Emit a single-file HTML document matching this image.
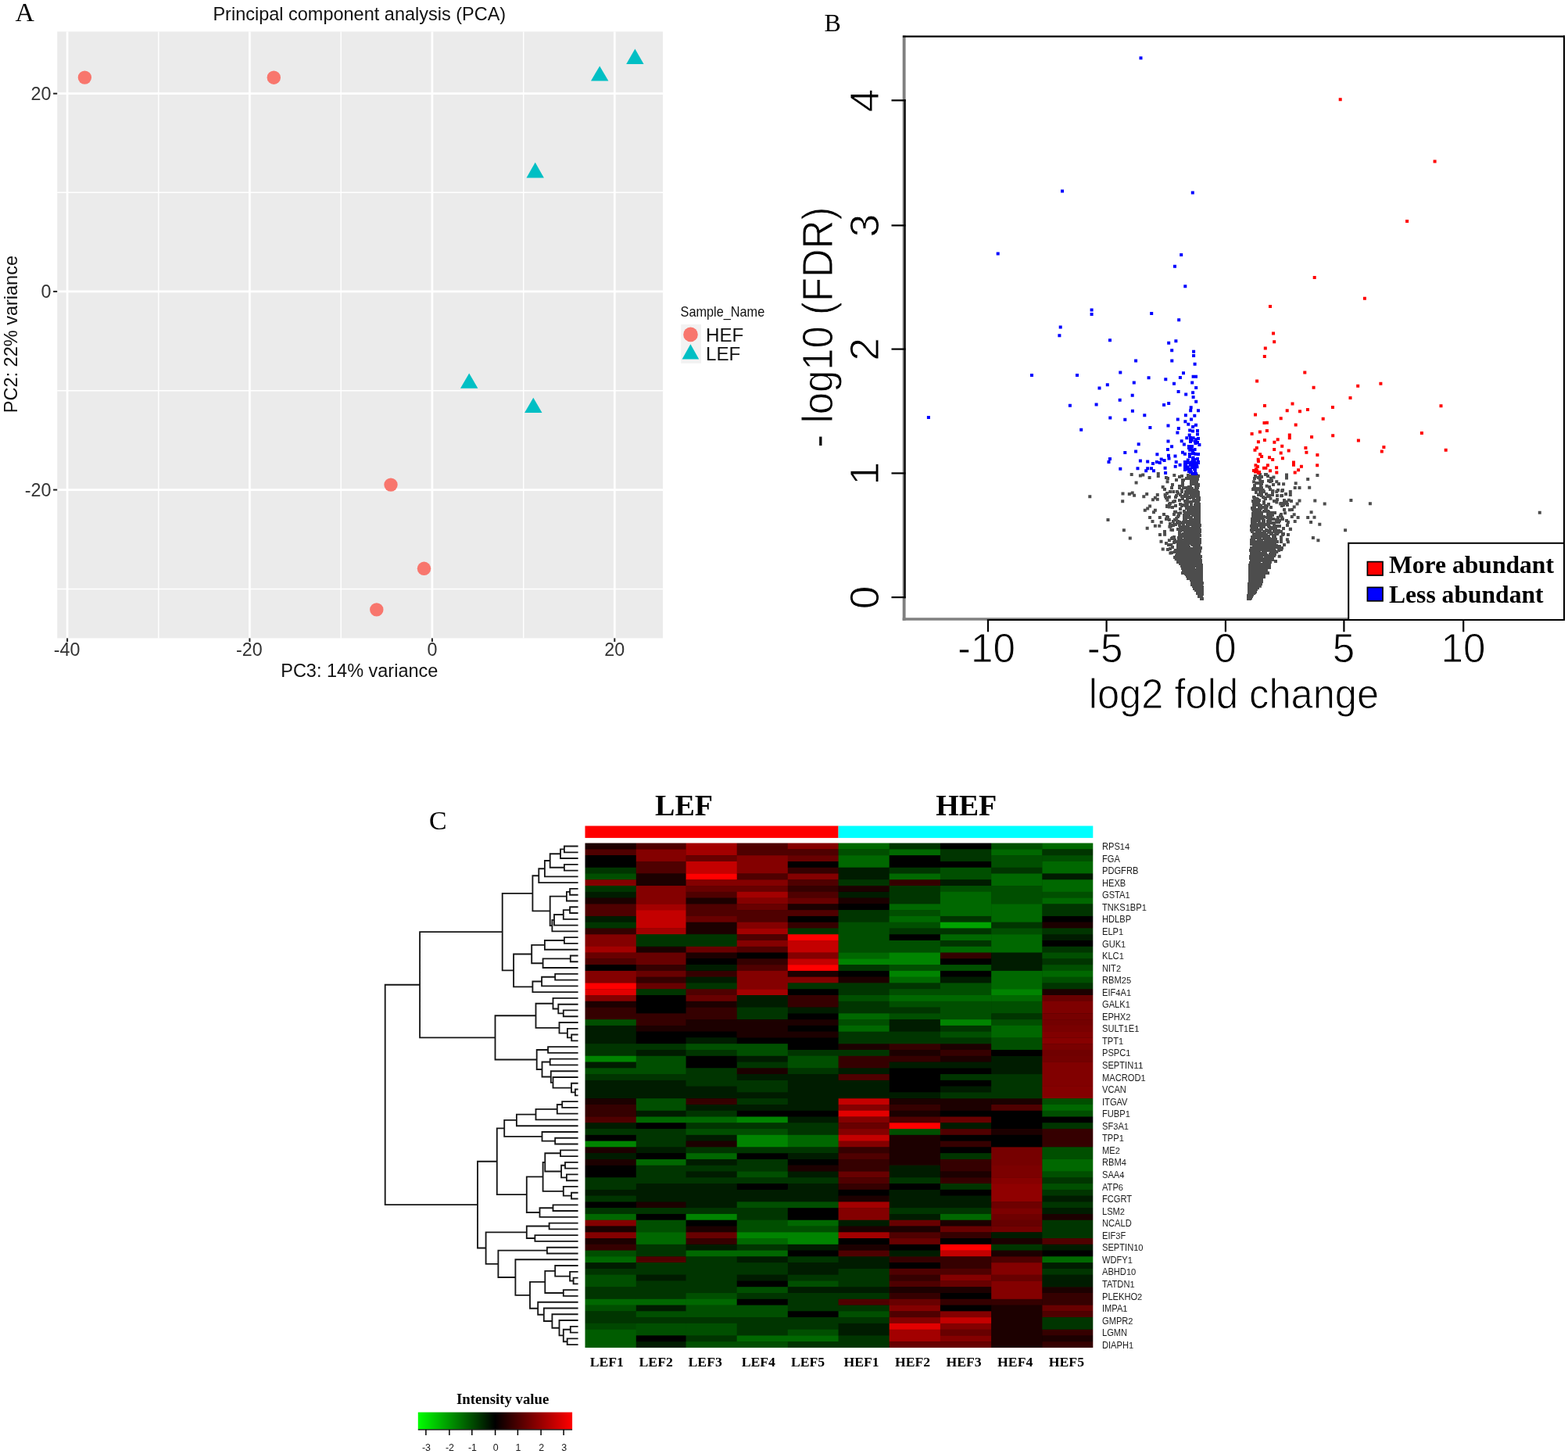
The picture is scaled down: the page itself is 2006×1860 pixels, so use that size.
<!DOCTYPE html>
<html lang="en">
<head>
<meta charset="utf-8">
<title>Figure: PCA, volcano plot and heatmap</title>
<style>
html,body{margin:0;padding:0;background:#fff;}
body{width:2006px;height:1860px;overflow:hidden;}
svg{display:block;}
text{white-space:pre;}
</style>
</head>
<body>
<svg width="2006" height="1860" viewBox="0 0 2006 1860" role="img" aria-label="Figure with PCA plot, volcano plot and heatmap">
<rect x="0" y="0" width="2006" height="1860" fill="#ffffff"/>
<g id="panelA">
<text transform="translate(19.60,27.10)" font-family="Liberation Serif, Times New Roman, serif" font-size="33.8" fill="#000">A</text>
<text transform="translate(459.80,26.40) scale(1.0,1.04)" font-family="Liberation Sans, Arial, Helvetica, sans-serif" font-size="23.5" text-anchor="middle" fill="#111">Principal component analysis (PCA)</text>
<rect x="73.2" y="40.4" width="774.9" height="776.0" fill="#ebebeb"/>
<line x1="86.1" y1="40.4" x2="86.1" y2="816.4" stroke="#fff" stroke-width="2.7"/>
<line x1="202.8" y1="40.4" x2="202.8" y2="816.4" stroke="#fff" stroke-width="1.4"/>
<line x1="319.4" y1="40.4" x2="319.4" y2="816.4" stroke="#fff" stroke-width="2.7"/>
<line x1="436.2" y1="40.4" x2="436.2" y2="816.4" stroke="#fff" stroke-width="1.4"/>
<line x1="552.9" y1="40.4" x2="552.9" y2="816.4" stroke="#fff" stroke-width="2.7"/>
<line x1="669.7" y1="40.4" x2="669.7" y2="816.4" stroke="#fff" stroke-width="1.4"/>
<line x1="786.3" y1="40.4" x2="786.3" y2="816.4" stroke="#fff" stroke-width="2.7"/>
<line x1="73.2" y1="119.7" x2="848.1" y2="119.7" stroke="#fff" stroke-width="2.7"/>
<line x1="73.2" y1="246.2" x2="848.1" y2="246.2" stroke="#fff" stroke-width="1.4"/>
<line x1="73.2" y1="372.9" x2="848.1" y2="372.9" stroke="#fff" stroke-width="2.7"/>
<line x1="73.2" y1="499.7" x2="848.1" y2="499.7" stroke="#fff" stroke-width="1.4"/>
<line x1="73.2" y1="626.6" x2="848.1" y2="626.6" stroke="#fff" stroke-width="2.7"/>
<line x1="73.2" y1="753.5" x2="848.1" y2="753.5" stroke="#fff" stroke-width="1.4"/>
<line x1="86.1" y1="816.4" x2="86.1" y2="821.0" stroke="#222" stroke-width="2"/>
<text transform="translate(85.60,839.30) scale(1.0,1.04)" font-family="Liberation Sans, Arial, Helvetica, sans-serif" font-size="23.3" text-anchor="middle" fill="#333">-40</text>
<line x1="319.4" y1="816.4" x2="319.4" y2="821.0" stroke="#222" stroke-width="2"/>
<text transform="translate(318.90,839.30) scale(1.0,1.04)" font-family="Liberation Sans, Arial, Helvetica, sans-serif" font-size="23.3" text-anchor="middle" fill="#333">-20</text>
<line x1="552.9" y1="816.4" x2="552.9" y2="821.0" stroke="#222" stroke-width="2"/>
<text transform="translate(552.90,839.30) scale(1.0,1.04)" font-family="Liberation Sans, Arial, Helvetica, sans-serif" font-size="23.3" text-anchor="middle" fill="#333">0</text>
<line x1="786.3" y1="816.4" x2="786.3" y2="821.0" stroke="#222" stroke-width="2"/>
<text transform="translate(786.30,839.30) scale(1.0,1.04)" font-family="Liberation Sans, Arial, Helvetica, sans-serif" font-size="23.3" text-anchor="middle" fill="#333">20</text>
<line x1="68.10000000000001" y1="119.7" x2="73.2" y2="119.7" stroke="#222" stroke-width="2"/>
<text transform="translate(65.40,128.00) scale(1.0,1.04)" font-family="Liberation Sans, Arial, Helvetica, sans-serif" font-size="23.3" text-anchor="end" fill="#333">20</text>
<line x1="68.10000000000001" y1="372.9" x2="73.2" y2="372.9" stroke="#222" stroke-width="2"/>
<text transform="translate(65.40,381.20) scale(1.0,1.04)" font-family="Liberation Sans, Arial, Helvetica, sans-serif" font-size="23.3" text-anchor="end" fill="#333">0</text>
<line x1="68.10000000000001" y1="626.6" x2="73.2" y2="626.6" stroke="#222" stroke-width="2"/>
<text transform="translate(65.40,634.90) scale(1.0,1.04)" font-family="Liberation Sans, Arial, Helvetica, sans-serif" font-size="23.3" text-anchor="end" fill="#333">-20</text>
<text transform="translate(459.80,866.00) scale(1.0,1.04)" font-family="Liberation Sans, Arial, Helvetica, sans-serif" font-size="23.5" text-anchor="middle" fill="#111">PC3: 14% variance</text>
<text transform="translate(21.70,427.60) rotate(-90) scale(1.0,1.04)" font-family="Liberation Sans, Arial, Helvetica, sans-serif" font-size="23.5" text-anchor="middle" fill="#111">PC2: 22% variance</text>
<circle cx="108.4" cy="99.1" r="8.7" fill="#f8766d"/>
<circle cx="350.3" cy="99.2" r="8.7" fill="#f8766d"/>
<circle cx="500.0" cy="620.1" r="8.7" fill="#f8766d"/>
<circle cx="542.5" cy="727.3" r="8.7" fill="#f8766d"/>
<circle cx="481.8" cy="779.9" r="8.7" fill="#f8766d"/>
<polygon points="812.4,62.4 801.1999999999999,82.0 823.6,82.0" fill="#00bfc4"/>
<polygon points="767.2,84.4 756.0,103.4 778.4000000000001,103.4" fill="#00bfc4"/>
<polygon points="684.7,207.8 673.5,227.6 695.9000000000001,227.6" fill="#00bfc4"/>
<polygon points="600.2,477.5 589.0,496.8 611.4000000000001,496.8" fill="#00bfc4"/>
<polygon points="682.3,508.8 671.0999999999999,528.0 693.5,528.0" fill="#00bfc4"/>
<text transform="translate(870.60,405.00) scale(0.925,1.04)" font-family="Liberation Sans, Arial, Helvetica, sans-serif" font-size="17.6" fill="#111">Sample_Name</text>
<rect x="871.2" y="415" width="25.8" height="49.8" fill="#f2f2f2"/>
<circle cx="883.5" cy="427.9" r="9.3" fill="#f8766d"/>
<polygon points="883.4,440.2 872.6,459.6 894.2,459.6" fill="#00bfc4"/>
<text transform="translate(903.00,436.60) scale(1.0,0.99)" font-family="Liberation Sans, Arial, Helvetica, sans-serif" font-size="24.2" fill="#111">HEF</text>
<text transform="translate(903.00,460.70) scale(1.0,0.99)" font-family="Liberation Sans, Arial, Helvetica, sans-serif" font-size="24.2" fill="#111">LEF</text>
</g>
<g id="panelB">
<text transform="translate(1054.60,40.40)" font-family="Liberation Serif, Times New Roman, serif" font-size="32" fill="#000">B</text>
<path d="M1392.3 633.3h4.0v4.0h-4.0zM1434.5 629.5h4.0v4.0h-4.0zM1434.2 639.3h4.0v4.0h-4.0zM1415.5 663.1h4.0v4.0h-4.0zM1435.9 676.2h4.0v4.0h-4.0zM1726.4 637.9h4.0v4.0h-4.0zM1750.9 642.3h4.0v4.0h-4.0zM1967.8 653.7h4.0v4.0h-4.0zM1719.1 676.2h4.0v4.0h-4.0zM1445.7 605.0h4.0v4.0h-4.0zM1456.9 606.5h4.0v4.0h-4.0zM1460.3 605.5h4.0v4.0h-4.0zM1468.6 608.9h4.0v4.0h-4.0zM1479.8 604.1h4.0v4.0h-4.0zM1479.8 607.0h4.0v4.0h-4.0zM1490.0 608.9h4.0v4.0h-4.0zM1500.3 606.0h4.0v4.0h-4.0zM1491.5 614.3h4.0v4.0h-4.0zM1451.6 615.6h4.0v4.0h-4.0zM1485.7 621.1h4.0v4.0h-4.0zM1499.3 627.0h4.0v4.0h-4.0zM1442.8 629.9h4.0v4.0h-4.0zM1446.7 628.4h4.0v4.0h-4.0zM1449.1 631.8h4.0v4.0h-4.0zM1465.2 629.9h4.0v4.0h-4.0zM1461.3 633.3h4.0v4.0h-4.0zM1478.8 630.9h4.0v4.0h-4.0zM1475.9 634.8h4.0v4.0h-4.0zM1473.0 637.2h4.0v4.0h-4.0zM1478.8 636.7h4.0v4.0h-4.0zM1488.6 630.9h4.0v4.0h-4.0zM1493.9 633.8h4.0v4.0h-4.0zM1491.5 637.7h4.0v4.0h-4.0zM1469.1 645.5h4.0v4.0h-4.0zM1466.2 648.4h4.0v4.0h-4.0zM1462.8 650.8h4.0v4.0h-4.0zM1475.9 650.8h4.0v4.0h-4.0zM1474.0 653.3h4.0v4.0h-4.0zM1493.9 646.4h4.0v4.0h-4.0zM1502.2 652.8h4.0v4.0h-4.0zM1508.1 654.2h4.0v4.0h-4.0zM1469.1 660.1h4.0v4.0h-4.0zM1472.5 664.9h4.0v4.0h-4.0zM1481.8 660.1h4.0v4.0h-4.0zM1483.7 665.9h4.0v4.0h-4.0zM1493.9 663.0h4.0v4.0h-4.0zM1503.2 661.0h4.0v4.0h-4.0zM1505.1 664.9h4.0v4.0h-4.0zM1475.9 670.8h4.0v4.0h-4.0zM1481.3 670.8h4.0v4.0h-4.0zM1465.7 673.7h4.0v4.0h-4.0zM1494.4 671.8h4.0v4.0h-4.0zM1496.4 675.7h4.0v4.0h-4.0zM1488.1 681.8h4.0v4.0h-4.0zM1443.8 686.4h4.0v4.0h-4.0zM1483.5 690.8h4.0v4.0h-4.0zM1493.9 689.3h4.0v4.0h-4.0zM1496.4 695.1h4.0v4.0h-4.0zM1485.7 700.5h4.0v4.0h-4.0zM1495.4 705.4h4.0v4.0h-4.0zM1501.7 702.4h4.0v4.0h-4.0zM1502.7 713.2h4.0v4.0h-4.0zM1671.2 610.9h4.0v4.0h-4.0zM1683.4 606.0h4.0v4.0h-4.0zM1673.2 621.8h4.0v4.0h-4.0zM1680.3 638.4h4.0v4.0h-4.0zM1692.7 642.5h4.0v4.0h-4.0zM1675.6 653.3h4.0v4.0h-4.0zM1671.2 660.1h4.0v4.0h-4.0zM1679.5 659.8h4.0v4.0h-4.0zM1675.1 665.9h4.0v4.0h-4.0zM1686.3 668.8h4.0v4.0h-4.0zM1677.9 685.9h4.0v4.0h-4.0zM1684.4 689.3h4.0v4.0h-4.0zM1604.0 607.5h4.0v4.0h-4.0zM1609.9 611.4h4.0v4.0h-4.0zM1602.1 614.3h4.0v4.0h-4.0zM1627.4 608.5h4.0v4.0h-4.0zM1631.3 614.3h4.0v4.0h-4.0zM1644.0 605.5h4.0v4.0h-4.0zM1644.0 609.4h4.0v4.0h-4.0zM1640.1 617.2h4.0v4.0h-4.0zM1655.7 616.2h4.0v4.0h-4.0zM1654.7 622.1h4.0v4.0h-4.0zM1660.5 622.1h4.0v4.0h-4.0zM1618.6 619.7h4.0v4.0h-4.0zM1610.9 620.1h4.0v4.0h-4.0zM1613.8 625.0h4.0v4.0h-4.0zM1601.1 624.0h4.0v4.0h-4.0zM1626.4 626.0h4.0v4.0h-4.0zM1631.3 627.0h4.0v4.0h-4.0zM1638.1 626.0h4.0v4.0h-4.0zM1643.0 629.9h4.0v4.0h-4.0zM1648.8 627.0h4.0v4.0h-4.0zM1648.8 630.9h4.0v4.0h-4.0zM1620.6 631.8h4.0v4.0h-4.0zM1623.5 635.7h4.0v4.0h-4.0zM1637.2 632.3h4.0v4.0h-4.0zM1646.9 637.7h4.0v4.0h-4.0zM1660.5 638.6h4.0v4.0h-4.0zM1657.6 642.5h4.0v4.0h-4.0zM1653.7 646.4h4.0v4.0h-4.0zM1644.0 642.1h4.0v4.0h-4.0zM1631.3 640.6h4.0v4.0h-4.0zM1636.2 642.5h4.0v4.0h-4.0zM1647.9 650.3h4.0v4.0h-4.0zM1642.0 654.2h4.0v4.0h-4.0zM1653.7 656.2h4.0v4.0h-4.0zM1658.6 660.1h4.0v4.0h-4.0zM1650.8 659.1h4.0v4.0h-4.0zM1654.7 664.9h4.0v4.0h-4.0zM1645.9 665.9h4.0v4.0h-4.0zM1648.8 674.7h4.0v4.0h-4.0zM1644.9 688.3h4.0v4.0h-4.0zM1645.9 691.2h4.0v4.0h-4.0zM1641.0 695.1h4.0v4.0h-4.0zM1632.3 698.1h4.0v4.0h-4.0zM1637.2 701.0h4.0v4.0h-4.0zM1631.3 703.9h4.0v4.0h-4.0zM1634.7 709.7h4.0v4.0h-4.0zM1609.9 747.7h4.0v4.0h-4.0zM1523.0 606.0h4.0v4.0h-4.0zM1529.0 606.0h4.0v4.0h-4.0zM1527.0 606.0h4.0v4.0h-4.0zM1518.0 606.0h4.0v4.0h-4.0zM1531.0 607.0h4.0v4.0h-4.0zM1530.0 607.0h4.0v4.0h-4.0zM1510.0 607.0h4.0v4.0h-4.0zM1522.0 607.0h4.0v4.0h-4.0zM1528.0 608.0h4.0v4.0h-4.0zM1528.0 608.0h4.0v4.0h-4.0zM1518.0 608.0h4.0v4.0h-4.0zM1530.0 608.0h4.0v4.0h-4.0zM1507.0 608.0h4.0v4.0h-4.0zM1530.0 608.0h4.0v4.0h-4.0zM1528.0 609.0h4.0v4.0h-4.0zM1528.0 609.0h4.0v4.0h-4.0zM1528.0 609.0h4.0v4.0h-4.0zM1528.0 609.0h4.0v4.0h-4.0zM1527.0 609.0h4.0v4.0h-4.0zM1492.0 610.0h4.0v4.0h-4.0zM1520.0 610.0h4.0v4.0h-4.0zM1516.0 610.0h4.0v4.0h-4.0zM1522.0 610.0h4.0v4.0h-4.0zM1523.0 610.0h4.0v4.0h-4.0zM1530.0 610.0h4.0v4.0h-4.0zM1528.0 611.0h4.0v4.0h-4.0zM1530.0 611.0h4.0v4.0h-4.0zM1503.0 612.0h4.0v4.0h-4.0zM1523.0 612.0h4.0v4.0h-4.0zM1512.0 612.0h4.0v4.0h-4.0zM1528.0 612.0h4.0v4.0h-4.0zM1511.0 612.0h4.0v4.0h-4.0zM1529.0 613.0h4.0v4.0h-4.0zM1527.0 613.0h4.0v4.0h-4.0zM1522.0 613.0h4.0v4.0h-4.0zM1529.0 613.0h4.0v4.0h-4.0zM1529.0 615.0h4.0v4.0h-4.0zM1524.0 615.0h4.0v4.0h-4.0zM1528.0 615.0h4.0v4.0h-4.0zM1528.0 616.0h4.0v4.0h-4.0zM1511.0 616.0h4.0v4.0h-4.0zM1529.0 616.0h4.0v4.0h-4.0zM1524.0 617.0h4.0v4.0h-4.0zM1522.0 617.0h4.0v4.0h-4.0zM1529.0 617.0h4.0v4.0h-4.0zM1524.0 617.0h4.0v4.0h-4.0zM1531.0 618.0h4.0v4.0h-4.0zM1528.0 618.0h4.0v4.0h-4.0zM1531.0 618.0h4.0v4.0h-4.0zM1498.0 618.0h4.0v4.0h-4.0zM1531.0 619.0h4.0v4.0h-4.0zM1531.0 619.0h4.0v4.0h-4.0zM1511.0 619.0h4.0v4.0h-4.0zM1528.0 620.0h4.0v4.0h-4.0zM1507.0 620.0h4.0v4.0h-4.0zM1521.0 621.0h4.0v4.0h-4.0zM1519.0 621.0h4.0v4.0h-4.0zM1516.0 622.0h4.0v4.0h-4.0zM1507.0 622.0h4.0v4.0h-4.0zM1497.0 622.0h4.0v4.0h-4.0zM1530.0 622.0h4.0v4.0h-4.0zM1512.0 622.0h4.0v4.0h-4.0zM1528.0 623.0h4.0v4.0h-4.0zM1523.0 623.0h4.0v4.0h-4.0zM1517.0 623.0h4.0v4.0h-4.0zM1522.0 624.0h4.0v4.0h-4.0zM1488.0 624.0h4.0v4.0h-4.0zM1518.0 624.0h4.0v4.0h-4.0zM1522.0 624.0h4.0v4.0h-4.0zM1523.0 625.0h4.0v4.0h-4.0zM1521.0 625.0h4.0v4.0h-4.0zM1528.0 625.0h4.0v4.0h-4.0zM1510.0 625.0h4.0v4.0h-4.0zM1525.0 625.0h4.0v4.0h-4.0zM1529.0 625.0h4.0v4.0h-4.0zM1528.0 626.0h4.0v4.0h-4.0zM1522.0 626.0h4.0v4.0h-4.0zM1522.0 626.0h4.0v4.0h-4.0zM1518.0 626.0h4.0v4.0h-4.0zM1515.0 627.0h4.0v4.0h-4.0zM1527.0 627.0h4.0v4.0h-4.0zM1495.0 627.0h4.0v4.0h-4.0zM1530.0 627.0h4.0v4.0h-4.0zM1510.0 627.0h4.0v4.0h-4.0zM1504.0 627.0h4.0v4.0h-4.0zM1519.0 628.0h4.0v4.0h-4.0zM1531.0 628.0h4.0v4.0h-4.0zM1521.0 628.0h4.0v4.0h-4.0zM1531.0 628.0h4.0v4.0h-4.0zM1531.0 628.0h4.0v4.0h-4.0zM1524.0 629.0h4.0v4.0h-4.0zM1529.0 629.0h4.0v4.0h-4.0zM1505.0 629.0h4.0v4.0h-4.0zM1528.0 629.0h4.0v4.0h-4.0zM1491.0 629.0h4.0v4.0h-4.0zM1521.0 629.0h4.0v4.0h-4.0zM1515.0 630.0h4.0v4.0h-4.0zM1515.0 630.0h4.0v4.0h-4.0zM1525.0 630.0h4.0v4.0h-4.0zM1530.0 630.0h4.0v4.0h-4.0zM1514.0 631.0h4.0v4.0h-4.0zM1522.0 631.0h4.0v4.0h-4.0zM1517.0 631.0h4.0v4.0h-4.0zM1529.0 631.0h4.0v4.0h-4.0zM1531.0 631.0h4.0v4.0h-4.0zM1508.0 631.0h4.0v4.0h-4.0zM1522.0 632.0h4.0v4.0h-4.0zM1516.0 632.0h4.0v4.0h-4.0zM1514.0 632.0h4.0v4.0h-4.0zM1503.0 632.0h4.0v4.0h-4.0zM1514.0 632.0h4.0v4.0h-4.0zM1526.0 633.0h4.0v4.0h-4.0zM1526.0 633.0h4.0v4.0h-4.0zM1510.0 633.0h4.0v4.0h-4.0zM1515.0 633.0h4.0v4.0h-4.0zM1528.0 633.0h4.0v4.0h-4.0zM1489.0 633.0h4.0v4.0h-4.0zM1513.0 633.0h4.0v4.0h-4.0zM1523.0 634.0h4.0v4.0h-4.0zM1520.0 634.0h4.0v4.0h-4.0zM1502.0 634.0h4.0v4.0h-4.0zM1519.0 634.0h4.0v4.0h-4.0zM1517.0 634.0h4.0v4.0h-4.0zM1490.0 635.0h4.0v4.0h-4.0zM1525.0 635.0h4.0v4.0h-4.0zM1520.0 635.0h4.0v4.0h-4.0zM1531.0 635.0h4.0v4.0h-4.0zM1532.0 635.0h4.0v4.0h-4.0zM1530.0 636.0h4.0v4.0h-4.0zM1532.0 636.0h4.0v4.0h-4.0zM1525.0 636.0h4.0v4.0h-4.0zM1511.0 636.0h4.0v4.0h-4.0zM1517.0 636.0h4.0v4.0h-4.0zM1530.0 637.0h4.0v4.0h-4.0zM1532.0 637.0h4.0v4.0h-4.0zM1526.0 638.0h4.0v4.0h-4.0zM1531.0 638.0h4.0v4.0h-4.0zM1507.0 638.0h4.0v4.0h-4.0zM1526.0 638.0h4.0v4.0h-4.0zM1530.0 638.0h4.0v4.0h-4.0zM1514.0 639.0h4.0v4.0h-4.0zM1525.0 639.0h4.0v4.0h-4.0zM1501.0 639.0h4.0v4.0h-4.0zM1516.0 639.0h4.0v4.0h-4.0zM1529.0 639.0h4.0v4.0h-4.0zM1522.0 640.0h4.0v4.0h-4.0zM1516.0 640.0h4.0v4.0h-4.0zM1530.0 640.0h4.0v4.0h-4.0zM1499.0 640.0h4.0v4.0h-4.0zM1519.0 640.0h4.0v4.0h-4.0zM1517.0 641.0h4.0v4.0h-4.0zM1522.0 641.0h4.0v4.0h-4.0zM1515.0 641.0h4.0v4.0h-4.0zM1516.0 642.0h4.0v4.0h-4.0zM1495.0 642.0h4.0v4.0h-4.0zM1529.0 642.0h4.0v4.0h-4.0zM1531.0 642.0h4.0v4.0h-4.0zM1532.0 643.0h4.0v4.0h-4.0zM1532.0 643.0h4.0v4.0h-4.0zM1508.0 643.0h4.0v4.0h-4.0zM1528.0 643.0h4.0v4.0h-4.0zM1494.0 643.0h4.0v4.0h-4.0zM1516.0 643.0h4.0v4.0h-4.0zM1512.0 644.0h4.0v4.0h-4.0zM1527.0 644.0h4.0v4.0h-4.0zM1512.0 644.0h4.0v4.0h-4.0zM1517.0 645.0h4.0v4.0h-4.0zM1510.0 645.0h4.0v4.0h-4.0zM1515.0 645.0h4.0v4.0h-4.0zM1522.0 645.0h4.0v4.0h-4.0zM1491.0 645.0h4.0v4.0h-4.0zM1531.0 645.0h4.0v4.0h-4.0zM1502.0 645.0h4.0v4.0h-4.0zM1517.0 646.0h4.0v4.0h-4.0zM1491.0 646.0h4.0v4.0h-4.0zM1522.0 646.0h4.0v4.0h-4.0zM1531.0 646.0h4.0v4.0h-4.0zM1519.0 647.0h4.0v4.0h-4.0zM1525.0 647.0h4.0v4.0h-4.0zM1532.0 647.0h4.0v4.0h-4.0zM1498.0 647.0h4.0v4.0h-4.0zM1522.0 648.0h4.0v4.0h-4.0zM1527.0 648.0h4.0v4.0h-4.0zM1516.0 648.0h4.0v4.0h-4.0zM1532.0 648.0h4.0v4.0h-4.0zM1524.0 649.0h4.0v4.0h-4.0zM1508.0 649.0h4.0v4.0h-4.0zM1524.0 649.0h4.0v4.0h-4.0zM1519.0 649.0h4.0v4.0h-4.0zM1524.0 649.0h4.0v4.0h-4.0zM1532.0 650.0h4.0v4.0h-4.0zM1525.0 650.0h4.0v4.0h-4.0zM1529.0 650.0h4.0v4.0h-4.0zM1522.0 651.0h4.0v4.0h-4.0zM1518.0 651.0h4.0v4.0h-4.0zM1528.0 651.0h4.0v4.0h-4.0zM1526.0 651.0h4.0v4.0h-4.0zM1513.0 652.0h4.0v4.0h-4.0zM1521.0 652.0h4.0v4.0h-4.0zM1520.0 652.0h4.0v4.0h-4.0zM1529.0 653.0h4.0v4.0h-4.0zM1532.0 653.0h4.0v4.0h-4.0zM1518.0 653.0h4.0v4.0h-4.0zM1528.0 653.0h4.0v4.0h-4.0zM1531.0 653.0h4.0v4.0h-4.0zM1501.0 653.0h4.0v4.0h-4.0zM1526.0 654.0h4.0v4.0h-4.0zM1530.0 654.0h4.0v4.0h-4.0zM1523.0 654.0h4.0v4.0h-4.0zM1517.0 654.0h4.0v4.0h-4.0zM1524.0 654.0h4.0v4.0h-4.0zM1522.0 655.0h4.0v4.0h-4.0zM1518.0 655.0h4.0v4.0h-4.0zM1526.0 655.0h4.0v4.0h-4.0zM1532.0 655.0h4.0v4.0h-4.0zM1531.0 655.0h4.0v4.0h-4.0zM1506.0 655.0h4.0v4.0h-4.0zM1531.0 656.0h4.0v4.0h-4.0zM1524.0 656.0h4.0v4.0h-4.0zM1514.0 656.0h4.0v4.0h-4.0zM1500.0 656.0h4.0v4.0h-4.0zM1527.0 656.0h4.0v4.0h-4.0zM1487.0 656.0h4.0v4.0h-4.0zM1525.0 657.0h4.0v4.0h-4.0zM1532.0 657.0h4.0v4.0h-4.0zM1513.0 657.0h4.0v4.0h-4.0zM1506.0 657.0h4.0v4.0h-4.0zM1529.0 657.0h4.0v4.0h-4.0zM1514.0 657.0h4.0v4.0h-4.0zM1514.0 658.0h4.0v4.0h-4.0zM1530.0 658.0h4.0v4.0h-4.0zM1518.0 658.0h4.0v4.0h-4.0zM1531.0 658.0h4.0v4.0h-4.0zM1529.0 658.0h4.0v4.0h-4.0zM1519.0 659.0h4.0v4.0h-4.0zM1505.0 659.0h4.0v4.0h-4.0zM1527.0 659.0h4.0v4.0h-4.0zM1529.0 659.0h4.0v4.0h-4.0zM1532.0 659.0h4.0v4.0h-4.0zM1491.0 659.0h4.0v4.0h-4.0zM1516.0 659.0h4.0v4.0h-4.0zM1513.0 660.0h4.0v4.0h-4.0zM1531.0 660.0h4.0v4.0h-4.0zM1522.0 660.0h4.0v4.0h-4.0zM1518.0 660.0h4.0v4.0h-4.0zM1518.0 660.0h4.0v4.0h-4.0zM1492.0 660.0h4.0v4.0h-4.0zM1528.0 661.0h4.0v4.0h-4.0zM1528.0 661.0h4.0v4.0h-4.0zM1532.0 661.0h4.0v4.0h-4.0zM1529.0 661.0h4.0v4.0h-4.0zM1531.0 661.0h4.0v4.0h-4.0zM1515.0 662.0h4.0v4.0h-4.0zM1515.0 662.0h4.0v4.0h-4.0zM1532.0 662.0h4.0v4.0h-4.0zM1521.0 662.0h4.0v4.0h-4.0zM1490.0 662.0h4.0v4.0h-4.0zM1529.0 662.0h4.0v4.0h-4.0zM1524.0 663.0h4.0v4.0h-4.0zM1522.0 663.0h4.0v4.0h-4.0zM1501.0 663.0h4.0v4.0h-4.0zM1527.0 663.0h4.0v4.0h-4.0zM1530.0 663.0h4.0v4.0h-4.0zM1532.0 663.0h4.0v4.0h-4.0zM1527.0 664.0h4.0v4.0h-4.0zM1525.0 664.0h4.0v4.0h-4.0zM1524.0 664.0h4.0v4.0h-4.0zM1532.0 664.0h4.0v4.0h-4.0zM1513.0 664.0h4.0v4.0h-4.0zM1515.0 665.0h4.0v4.0h-4.0zM1499.0 665.0h4.0v4.0h-4.0zM1528.0 665.0h4.0v4.0h-4.0zM1517.0 665.0h4.0v4.0h-4.0zM1517.0 665.0h4.0v4.0h-4.0zM1527.0 665.0h4.0v4.0h-4.0zM1532.0 665.0h4.0v4.0h-4.0zM1527.0 666.0h4.0v4.0h-4.0zM1529.0 666.0h4.0v4.0h-4.0zM1512.0 666.0h4.0v4.0h-4.0zM1513.0 666.0h4.0v4.0h-4.0zM1515.0 666.0h4.0v4.0h-4.0zM1531.0 666.0h4.0v4.0h-4.0zM1507.0 666.0h4.0v4.0h-4.0zM1526.0 666.0h4.0v4.0h-4.0zM1520.0 666.0h4.0v4.0h-4.0zM1518.0 667.0h4.0v4.0h-4.0zM1524.0 667.0h4.0v4.0h-4.0zM1504.0 667.0h4.0v4.0h-4.0zM1532.0 667.0h4.0v4.0h-4.0zM1510.0 667.0h4.0v4.0h-4.0zM1517.0 668.0h4.0v4.0h-4.0zM1518.0 668.0h4.0v4.0h-4.0zM1524.0 668.0h4.0v4.0h-4.0zM1521.0 668.0h4.0v4.0h-4.0zM1531.0 668.0h4.0v4.0h-4.0zM1495.0 668.0h4.0v4.0h-4.0zM1525.0 668.0h4.0v4.0h-4.0zM1529.0 668.0h4.0v4.0h-4.0zM1532.0 669.0h4.0v4.0h-4.0zM1502.0 669.0h4.0v4.0h-4.0zM1519.0 669.0h4.0v4.0h-4.0zM1525.0 669.0h4.0v4.0h-4.0zM1520.0 669.0h4.0v4.0h-4.0zM1500.0 669.0h4.0v4.0h-4.0zM1524.0 669.0h4.0v4.0h-4.0zM1518.0 670.0h4.0v4.0h-4.0zM1512.0 670.0h4.0v4.0h-4.0zM1507.0 670.0h4.0v4.0h-4.0zM1525.0 670.0h4.0v4.0h-4.0zM1532.0 670.0h4.0v4.0h-4.0zM1533.0 670.0h4.0v4.0h-4.0zM1499.0 670.0h4.0v4.0h-4.0zM1518.0 671.0h4.0v4.0h-4.0zM1525.0 671.0h4.0v4.0h-4.0zM1517.0 671.0h4.0v4.0h-4.0zM1496.0 671.0h4.0v4.0h-4.0zM1524.0 671.0h4.0v4.0h-4.0zM1527.0 672.0h4.0v4.0h-4.0zM1531.0 672.0h4.0v4.0h-4.0zM1508.0 672.0h4.0v4.0h-4.0zM1530.0 672.0h4.0v4.0h-4.0zM1512.0 672.0h4.0v4.0h-4.0zM1532.0 672.0h4.0v4.0h-4.0zM1516.0 672.0h4.0v4.0h-4.0zM1515.0 673.0h4.0v4.0h-4.0zM1516.0 673.0h4.0v4.0h-4.0zM1524.0 673.0h4.0v4.0h-4.0zM1527.0 673.0h4.0v4.0h-4.0zM1531.0 673.0h4.0v4.0h-4.0zM1516.0 673.0h4.0v4.0h-4.0zM1518.0 673.0h4.0v4.0h-4.0zM1516.0 674.0h4.0v4.0h-4.0zM1532.0 674.0h4.0v4.0h-4.0zM1525.0 674.0h4.0v4.0h-4.0zM1520.0 674.0h4.0v4.0h-4.0zM1512.0 674.0h4.0v4.0h-4.0zM1509.0 674.0h4.0v4.0h-4.0zM1530.0 675.0h4.0v4.0h-4.0zM1529.0 675.0h4.0v4.0h-4.0zM1525.0 675.0h4.0v4.0h-4.0zM1519.0 675.0h4.0v4.0h-4.0zM1521.0 675.0h4.0v4.0h-4.0zM1527.0 675.0h4.0v4.0h-4.0zM1530.0 675.0h4.0v4.0h-4.0zM1505.0 675.0h4.0v4.0h-4.0zM1528.0 675.0h4.0v4.0h-4.0zM1523.0 676.0h4.0v4.0h-4.0zM1526.0 676.0h4.0v4.0h-4.0zM1512.0 676.0h4.0v4.0h-4.0zM1533.0 676.0h4.0v4.0h-4.0zM1507.0 676.0h4.0v4.0h-4.0zM1525.0 676.0h4.0v4.0h-4.0zM1532.0 676.0h4.0v4.0h-4.0zM1498.0 676.0h4.0v4.0h-4.0zM1514.0 677.0h4.0v4.0h-4.0zM1508.0 677.0h4.0v4.0h-4.0zM1527.0 677.0h4.0v4.0h-4.0zM1531.0 677.0h4.0v4.0h-4.0zM1516.0 677.0h4.0v4.0h-4.0zM1526.0 678.0h4.0v4.0h-4.0zM1525.0 678.0h4.0v4.0h-4.0zM1514.0 678.0h4.0v4.0h-4.0zM1516.0 678.0h4.0v4.0h-4.0zM1533.0 678.0h4.0v4.0h-4.0zM1520.0 678.0h4.0v4.0h-4.0zM1525.0 678.0h4.0v4.0h-4.0zM1488.0 678.0h4.0v4.0h-4.0zM1531.0 678.0h4.0v4.0h-4.0zM1523.0 679.0h4.0v4.0h-4.0zM1529.0 679.0h4.0v4.0h-4.0zM1529.0 679.0h4.0v4.0h-4.0zM1507.0 679.0h4.0v4.0h-4.0zM1528.0 679.0h4.0v4.0h-4.0zM1520.0 679.0h4.0v4.0h-4.0zM1530.0 679.0h4.0v4.0h-4.0zM1522.0 680.0h4.0v4.0h-4.0zM1520.0 680.0h4.0v4.0h-4.0zM1518.0 680.0h4.0v4.0h-4.0zM1532.0 680.0h4.0v4.0h-4.0zM1514.0 680.0h4.0v4.0h-4.0zM1523.0 680.0h4.0v4.0h-4.0zM1529.0 680.0h4.0v4.0h-4.0zM1516.0 681.0h4.0v4.0h-4.0zM1507.0 681.0h4.0v4.0h-4.0zM1512.0 681.0h4.0v4.0h-4.0zM1519.0 681.0h4.0v4.0h-4.0zM1531.0 681.0h4.0v4.0h-4.0zM1512.0 682.0h4.0v4.0h-4.0zM1513.0 682.0h4.0v4.0h-4.0zM1524.0 682.0h4.0v4.0h-4.0zM1532.0 682.0h4.0v4.0h-4.0zM1529.0 682.0h4.0v4.0h-4.0zM1510.0 682.0h4.0v4.0h-4.0zM1482.0 682.0h4.0v4.0h-4.0zM1510.0 682.0h4.0v4.0h-4.0zM1533.0 683.0h4.0v4.0h-4.0zM1525.0 683.0h4.0v4.0h-4.0zM1529.0 683.0h4.0v4.0h-4.0zM1530.0 683.0h4.0v4.0h-4.0zM1517.0 683.0h4.0v4.0h-4.0zM1513.0 683.0h4.0v4.0h-4.0zM1516.0 684.0h4.0v4.0h-4.0zM1511.0 684.0h4.0v4.0h-4.0zM1524.0 684.0h4.0v4.0h-4.0zM1509.0 684.0h4.0v4.0h-4.0zM1510.0 684.0h4.0v4.0h-4.0zM1513.0 684.0h4.0v4.0h-4.0zM1521.0 684.0h4.0v4.0h-4.0zM1507.0 685.0h4.0v4.0h-4.0zM1514.0 685.0h4.0v4.0h-4.0zM1508.0 685.0h4.0v4.0h-4.0zM1522.0 685.0h4.0v4.0h-4.0zM1518.0 685.0h4.0v4.0h-4.0zM1500.0 685.0h4.0v4.0h-4.0zM1515.0 685.0h4.0v4.0h-4.0zM1516.0 686.0h4.0v4.0h-4.0zM1523.0 686.0h4.0v4.0h-4.0zM1506.0 686.0h4.0v4.0h-4.0zM1515.0 686.0h4.0v4.0h-4.0zM1498.0 686.0h4.0v4.0h-4.0zM1527.0 686.0h4.0v4.0h-4.0zM1522.0 687.0h4.0v4.0h-4.0zM1531.0 687.0h4.0v4.0h-4.0zM1526.0 687.0h4.0v4.0h-4.0zM1520.0 687.0h4.0v4.0h-4.0zM1509.0 687.0h4.0v4.0h-4.0zM1500.0 687.0h4.0v4.0h-4.0zM1530.0 687.0h4.0v4.0h-4.0zM1525.0 687.0h4.0v4.0h-4.0zM1531.0 687.0h4.0v4.0h-4.0zM1497.0 687.0h4.0v4.0h-4.0zM1527.0 688.0h4.0v4.0h-4.0zM1533.0 688.0h4.0v4.0h-4.0zM1509.0 688.0h4.0v4.0h-4.0zM1509.0 688.0h4.0v4.0h-4.0zM1516.0 688.0h4.0v4.0h-4.0zM1506.0 688.0h4.0v4.0h-4.0zM1533.0 688.0h4.0v4.0h-4.0zM1529.0 688.0h4.0v4.0h-4.0zM1533.0 688.0h4.0v4.0h-4.0zM1509.0 689.0h4.0v4.0h-4.0zM1501.0 689.0h4.0v4.0h-4.0zM1524.0 689.0h4.0v4.0h-4.0zM1517.0 689.0h4.0v4.0h-4.0zM1512.0 689.0h4.0v4.0h-4.0zM1523.0 689.0h4.0v4.0h-4.0zM1520.0 690.0h4.0v4.0h-4.0zM1509.0 690.0h4.0v4.0h-4.0zM1527.0 690.0h4.0v4.0h-4.0zM1523.0 690.0h4.0v4.0h-4.0zM1519.0 690.0h4.0v4.0h-4.0zM1516.0 690.0h4.0v4.0h-4.0zM1523.0 690.0h4.0v4.0h-4.0zM1516.0 691.0h4.0v4.0h-4.0zM1519.0 691.0h4.0v4.0h-4.0zM1503.0 691.0h4.0v4.0h-4.0zM1510.0 691.0h4.0v4.0h-4.0zM1508.0 691.0h4.0v4.0h-4.0zM1504.0 691.0h4.0v4.0h-4.0zM1524.0 691.0h4.0v4.0h-4.0zM1532.0 691.0h4.0v4.0h-4.0zM1532.0 691.0h4.0v4.0h-4.0zM1533.0 692.0h4.0v4.0h-4.0zM1511.0 692.0h4.0v4.0h-4.0zM1531.0 692.0h4.0v4.0h-4.0zM1506.0 692.0h4.0v4.0h-4.0zM1522.0 692.0h4.0v4.0h-4.0zM1500.0 692.0h4.0v4.0h-4.0zM1530.0 692.0h4.0v4.0h-4.0zM1514.0 692.0h4.0v4.0h-4.0zM1533.0 692.0h4.0v4.0h-4.0zM1506.0 693.0h4.0v4.0h-4.0zM1521.0 693.0h4.0v4.0h-4.0zM1490.0 693.0h4.0v4.0h-4.0zM1521.0 693.0h4.0v4.0h-4.0zM1514.0 693.0h4.0v4.0h-4.0zM1510.0 693.0h4.0v4.0h-4.0zM1512.0 693.0h4.0v4.0h-4.0zM1529.0 693.0h4.0v4.0h-4.0zM1516.0 693.0h4.0v4.0h-4.0zM1523.0 694.0h4.0v4.0h-4.0zM1513.0 694.0h4.0v4.0h-4.0zM1526.0 694.0h4.0v4.0h-4.0zM1509.0 694.0h4.0v4.0h-4.0zM1512.0 694.0h4.0v4.0h-4.0zM1506.0 694.0h4.0v4.0h-4.0zM1531.0 695.0h4.0v4.0h-4.0zM1495.0 695.0h4.0v4.0h-4.0zM1524.0 695.0h4.0v4.0h-4.0zM1505.0 695.0h4.0v4.0h-4.0zM1493.0 695.0h4.0v4.0h-4.0zM1518.0 695.0h4.0v4.0h-4.0zM1530.0 695.0h4.0v4.0h-4.0zM1513.0 695.0h4.0v4.0h-4.0zM1508.0 696.0h4.0v4.0h-4.0zM1526.0 696.0h4.0v4.0h-4.0zM1532.0 696.0h4.0v4.0h-4.0zM1530.0 696.0h4.0v4.0h-4.0zM1526.0 696.0h4.0v4.0h-4.0zM1529.0 696.0h4.0v4.0h-4.0zM1512.0 696.0h4.0v4.0h-4.0zM1514.0 696.0h4.0v4.0h-4.0zM1506.0 697.0h4.0v4.0h-4.0zM1510.0 697.0h4.0v4.0h-4.0zM1505.0 697.0h4.0v4.0h-4.0zM1517.0 697.0h4.0v4.0h-4.0zM1506.0 697.0h4.0v4.0h-4.0zM1532.0 697.0h4.0v4.0h-4.0zM1532.0 697.0h4.0v4.0h-4.0zM1508.0 697.0h4.0v4.0h-4.0zM1514.0 697.0h4.0v4.0h-4.0zM1532.0 697.0h4.0v4.0h-4.0zM1510.0 698.0h4.0v4.0h-4.0zM1532.0 698.0h4.0v4.0h-4.0zM1519.0 698.0h4.0v4.0h-4.0zM1513.0 698.0h4.0v4.0h-4.0zM1498.0 698.0h4.0v4.0h-4.0zM1517.0 698.0h4.0v4.0h-4.0zM1506.0 698.0h4.0v4.0h-4.0zM1505.0 698.0h4.0v4.0h-4.0zM1519.0 699.0h4.0v4.0h-4.0zM1513.0 699.0h4.0v4.0h-4.0zM1518.0 699.0h4.0v4.0h-4.0zM1533.0 699.0h4.0v4.0h-4.0zM1533.0 699.0h4.0v4.0h-4.0zM1513.0 699.0h4.0v4.0h-4.0zM1534.0 699.0h4.0v4.0h-4.0zM1522.0 700.0h4.0v4.0h-4.0zM1495.0 700.0h4.0v4.0h-4.0zM1518.0 700.0h4.0v4.0h-4.0zM1514.0 700.0h4.0v4.0h-4.0zM1530.0 700.0h4.0v4.0h-4.0zM1520.0 700.0h4.0v4.0h-4.0zM1526.0 700.0h4.0v4.0h-4.0zM1526.0 700.0h4.0v4.0h-4.0zM1533.0 700.0h4.0v4.0h-4.0zM1514.0 701.0h4.0v4.0h-4.0zM1518.0 701.0h4.0v4.0h-4.0zM1522.0 701.0h4.0v4.0h-4.0zM1523.0 701.0h4.0v4.0h-4.0zM1530.0 701.0h4.0v4.0h-4.0zM1510.0 701.0h4.0v4.0h-4.0zM1516.0 701.0h4.0v4.0h-4.0zM1520.0 701.0h4.0v4.0h-4.0zM1532.0 701.0h4.0v4.0h-4.0zM1492.0 701.0h4.0v4.0h-4.0zM1507.0 702.0h4.0v4.0h-4.0zM1506.0 702.0h4.0v4.0h-4.0zM1505.0 702.0h4.0v4.0h-4.0zM1530.0 702.0h4.0v4.0h-4.0zM1520.0 702.0h4.0v4.0h-4.0zM1533.0 702.0h4.0v4.0h-4.0zM1502.0 702.0h4.0v4.0h-4.0zM1525.0 702.0h4.0v4.0h-4.0zM1530.0 702.0h4.0v4.0h-4.0zM1518.0 703.0h4.0v4.0h-4.0zM1532.0 703.0h4.0v4.0h-4.0zM1533.0 703.0h4.0v4.0h-4.0zM1529.0 703.0h4.0v4.0h-4.0zM1517.0 703.0h4.0v4.0h-4.0zM1516.0 703.0h4.0v4.0h-4.0zM1520.0 703.0h4.0v4.0h-4.0zM1511.0 703.0h4.0v4.0h-4.0zM1533.0 703.0h4.0v4.0h-4.0zM1531.0 703.0h4.0v4.0h-4.0zM1502.0 703.0h4.0v4.0h-4.0zM1514.0 704.0h4.0v4.0h-4.0zM1529.0 704.0h4.0v4.0h-4.0zM1501.0 704.0h4.0v4.0h-4.0zM1520.0 704.0h4.0v4.0h-4.0zM1525.0 704.0h4.0v4.0h-4.0zM1518.0 704.0h4.0v4.0h-4.0zM1524.0 704.0h4.0v4.0h-4.0zM1507.0 704.0h4.0v4.0h-4.0zM1529.0 705.0h4.0v4.0h-4.0zM1527.0 705.0h4.0v4.0h-4.0zM1530.0 705.0h4.0v4.0h-4.0zM1497.0 705.0h4.0v4.0h-4.0zM1519.0 705.0h4.0v4.0h-4.0zM1518.0 705.0h4.0v4.0h-4.0zM1532.0 705.0h4.0v4.0h-4.0zM1520.0 705.0h4.0v4.0h-4.0zM1519.0 705.0h4.0v4.0h-4.0zM1521.0 705.0h4.0v4.0h-4.0zM1510.0 705.0h4.0v4.0h-4.0zM1507.0 706.0h4.0v4.0h-4.0zM1521.0 706.0h4.0v4.0h-4.0zM1525.0 706.0h4.0v4.0h-4.0zM1519.0 706.0h4.0v4.0h-4.0zM1510.0 706.0h4.0v4.0h-4.0zM1506.0 706.0h4.0v4.0h-4.0zM1510.0 706.0h4.0v4.0h-4.0zM1509.0 706.0h4.0v4.0h-4.0zM1519.0 707.0h4.0v4.0h-4.0zM1510.0 707.0h4.0v4.0h-4.0zM1532.0 707.0h4.0v4.0h-4.0zM1531.0 707.0h4.0v4.0h-4.0zM1513.0 707.0h4.0v4.0h-4.0zM1504.0 707.0h4.0v4.0h-4.0zM1531.0 707.0h4.0v4.0h-4.0zM1510.0 707.0h4.0v4.0h-4.0zM1517.0 707.0h4.0v4.0h-4.0zM1523.0 708.0h4.0v4.0h-4.0zM1529.0 708.0h4.0v4.0h-4.0zM1513.0 708.0h4.0v4.0h-4.0zM1525.0 708.0h4.0v4.0h-4.0zM1532.0 708.0h4.0v4.0h-4.0zM1506.0 708.0h4.0v4.0h-4.0zM1525.0 708.0h4.0v4.0h-4.0zM1524.0 708.0h4.0v4.0h-4.0zM1518.0 708.0h4.0v4.0h-4.0zM1531.0 708.0h4.0v4.0h-4.0zM1527.0 709.0h4.0v4.0h-4.0zM1516.0 709.0h4.0v4.0h-4.0zM1503.0 709.0h4.0v4.0h-4.0zM1505.0 709.0h4.0v4.0h-4.0zM1522.0 709.0h4.0v4.0h-4.0zM1531.0 709.0h4.0v4.0h-4.0zM1515.0 709.0h4.0v4.0h-4.0zM1507.0 709.0h4.0v4.0h-4.0zM1529.0 710.0h4.0v4.0h-4.0zM1533.0 710.0h4.0v4.0h-4.0zM1512.0 710.0h4.0v4.0h-4.0zM1511.0 710.0h4.0v4.0h-4.0zM1531.0 710.0h4.0v4.0h-4.0zM1505.0 710.0h4.0v4.0h-4.0zM1534.0 710.0h4.0v4.0h-4.0zM1531.0 710.0h4.0v4.0h-4.0zM1517.0 710.0h4.0v4.0h-4.0zM1516.0 711.0h4.0v4.0h-4.0zM1513.0 711.0h4.0v4.0h-4.0zM1533.0 711.0h4.0v4.0h-4.0zM1501.0 711.0h4.0v4.0h-4.0zM1505.0 711.0h4.0v4.0h-4.0zM1520.0 711.0h4.0v4.0h-4.0zM1525.0 711.0h4.0v4.0h-4.0zM1508.0 711.0h4.0v4.0h-4.0zM1527.0 711.0h4.0v4.0h-4.0zM1513.0 711.0h4.0v4.0h-4.0zM1525.0 712.0h4.0v4.0h-4.0zM1522.0 712.0h4.0v4.0h-4.0zM1508.0 712.0h4.0v4.0h-4.0zM1523.0 712.0h4.0v4.0h-4.0zM1514.0 712.0h4.0v4.0h-4.0zM1526.0 712.0h4.0v4.0h-4.0zM1522.0 712.0h4.0v4.0h-4.0zM1528.0 712.0h4.0v4.0h-4.0zM1513.0 713.0h4.0v4.0h-4.0zM1522.0 713.0h4.0v4.0h-4.0zM1523.0 713.0h4.0v4.0h-4.0zM1529.0 713.0h4.0v4.0h-4.0zM1532.0 713.0h4.0v4.0h-4.0zM1517.0 713.0h4.0v4.0h-4.0zM1512.0 713.0h4.0v4.0h-4.0zM1518.0 713.0h4.0v4.0h-4.0zM1505.0 713.0h4.0v4.0h-4.0zM1507.0 714.0h4.0v4.0h-4.0zM1518.0 714.0h4.0v4.0h-4.0zM1508.0 714.0h4.0v4.0h-4.0zM1526.0 714.0h4.0v4.0h-4.0zM1521.0 714.0h4.0v4.0h-4.0zM1506.0 714.0h4.0v4.0h-4.0zM1532.0 714.0h4.0v4.0h-4.0zM1514.0 714.0h4.0v4.0h-4.0zM1524.0 715.0h4.0v4.0h-4.0zM1534.0 715.0h4.0v4.0h-4.0zM1509.0 715.0h4.0v4.0h-4.0zM1527.0 715.0h4.0v4.0h-4.0zM1534.0 715.0h4.0v4.0h-4.0zM1521.0 715.0h4.0v4.0h-4.0zM1534.0 715.0h4.0v4.0h-4.0zM1515.0 715.0h4.0v4.0h-4.0zM1510.0 715.0h4.0v4.0h-4.0zM1511.0 716.0h4.0v4.0h-4.0zM1517.0 716.0h4.0v4.0h-4.0zM1530.0 716.0h4.0v4.0h-4.0zM1525.0 716.0h4.0v4.0h-4.0zM1516.0 716.0h4.0v4.0h-4.0zM1510.0 716.0h4.0v4.0h-4.0zM1528.0 716.0h4.0v4.0h-4.0zM1515.0 717.0h4.0v4.0h-4.0zM1511.0 717.0h4.0v4.0h-4.0zM1525.0 717.0h4.0v4.0h-4.0zM1518.0 717.0h4.0v4.0h-4.0zM1534.0 717.0h4.0v4.0h-4.0zM1527.0 717.0h4.0v4.0h-4.0zM1515.0 717.0h4.0v4.0h-4.0zM1525.0 717.0h4.0v4.0h-4.0zM1528.0 717.0h4.0v4.0h-4.0zM1505.0 717.0h4.0v4.0h-4.0zM1532.0 718.0h4.0v4.0h-4.0zM1522.0 718.0h4.0v4.0h-4.0zM1518.0 718.0h4.0v4.0h-4.0zM1516.0 718.0h4.0v4.0h-4.0zM1522.0 718.0h4.0v4.0h-4.0zM1520.0 718.0h4.0v4.0h-4.0zM1527.0 718.0h4.0v4.0h-4.0zM1513.0 718.0h4.0v4.0h-4.0zM1512.0 719.0h4.0v4.0h-4.0zM1524.0 719.0h4.0v4.0h-4.0zM1511.0 719.0h4.0v4.0h-4.0zM1528.0 719.0h4.0v4.0h-4.0zM1520.0 719.0h4.0v4.0h-4.0zM1508.0 719.0h4.0v4.0h-4.0zM1508.0 719.0h4.0v4.0h-4.0zM1533.0 719.0h4.0v4.0h-4.0zM1510.0 720.0h4.0v4.0h-4.0zM1514.0 720.0h4.0v4.0h-4.0zM1511.0 720.0h4.0v4.0h-4.0zM1529.0 720.0h4.0v4.0h-4.0zM1518.0 720.0h4.0v4.0h-4.0zM1529.0 720.0h4.0v4.0h-4.0zM1526.0 720.0h4.0v4.0h-4.0zM1528.0 721.0h4.0v4.0h-4.0zM1516.0 721.0h4.0v4.0h-4.0zM1535.0 721.0h4.0v4.0h-4.0zM1534.0 721.0h4.0v4.0h-4.0zM1522.0 721.0h4.0v4.0h-4.0zM1530.0 721.0h4.0v4.0h-4.0zM1520.0 721.0h4.0v4.0h-4.0zM1514.0 721.0h4.0v4.0h-4.0zM1510.0 722.0h4.0v4.0h-4.0zM1528.0 722.0h4.0v4.0h-4.0zM1529.0 722.0h4.0v4.0h-4.0zM1513.0 722.0h4.0v4.0h-4.0zM1525.0 722.0h4.0v4.0h-4.0zM1522.0 722.0h4.0v4.0h-4.0zM1534.0 722.0h4.0v4.0h-4.0zM1510.0 722.0h4.0v4.0h-4.0zM1512.0 723.0h4.0v4.0h-4.0zM1522.0 723.0h4.0v4.0h-4.0zM1530.0 723.0h4.0v4.0h-4.0zM1533.0 723.0h4.0v4.0h-4.0zM1534.0 723.0h4.0v4.0h-4.0zM1516.0 723.0h4.0v4.0h-4.0zM1517.0 723.0h4.0v4.0h-4.0zM1534.0 723.0h4.0v4.0h-4.0zM1513.0 723.0h4.0v4.0h-4.0zM1535.0 723.0h4.0v4.0h-4.0zM1534.0 724.0h4.0v4.0h-4.0zM1530.0 724.0h4.0v4.0h-4.0zM1531.0 724.0h4.0v4.0h-4.0zM1521.0 724.0h4.0v4.0h-4.0zM1525.0 724.0h4.0v4.0h-4.0zM1533.0 724.0h4.0v4.0h-4.0zM1513.0 724.0h4.0v4.0h-4.0zM1525.0 724.0h4.0v4.0h-4.0zM1518.0 725.0h4.0v4.0h-4.0zM1518.0 725.0h4.0v4.0h-4.0zM1534.0 725.0h4.0v4.0h-4.0zM1518.0 725.0h4.0v4.0h-4.0zM1533.0 725.0h4.0v4.0h-4.0zM1511.0 725.0h4.0v4.0h-4.0zM1514.0 725.0h4.0v4.0h-4.0zM1521.0 725.0h4.0v4.0h-4.0zM1512.0 726.0h4.0v4.0h-4.0zM1516.0 726.0h4.0v4.0h-4.0zM1520.0 726.0h4.0v4.0h-4.0zM1524.0 726.0h4.0v4.0h-4.0zM1512.0 726.0h4.0v4.0h-4.0zM1515.0 726.0h4.0v4.0h-4.0zM1522.0 726.0h4.0v4.0h-4.0zM1535.0 726.0h4.0v4.0h-4.0zM1512.0 727.0h4.0v4.0h-4.0zM1534.0 727.0h4.0v4.0h-4.0zM1515.0 727.0h4.0v4.0h-4.0zM1528.0 727.0h4.0v4.0h-4.0zM1524.0 727.0h4.0v4.0h-4.0zM1532.0 727.0h4.0v4.0h-4.0zM1531.0 727.0h4.0v4.0h-4.0zM1525.0 727.0h4.0v4.0h-4.0zM1513.0 728.0h4.0v4.0h-4.0zM1535.0 728.0h4.0v4.0h-4.0zM1522.0 728.0h4.0v4.0h-4.0zM1535.0 728.0h4.0v4.0h-4.0zM1534.0 728.0h4.0v4.0h-4.0zM1521.0 728.0h4.0v4.0h-4.0zM1527.0 728.0h4.0v4.0h-4.0zM1523.0 729.0h4.0v4.0h-4.0zM1529.0 729.0h4.0v4.0h-4.0zM1524.0 729.0h4.0v4.0h-4.0zM1522.0 729.0h4.0v4.0h-4.0zM1522.0 729.0h4.0v4.0h-4.0zM1513.0 729.0h4.0v4.0h-4.0zM1517.0 730.0h4.0v4.0h-4.0zM1515.0 730.0h4.0v4.0h-4.0zM1513.0 730.0h4.0v4.0h-4.0zM1526.0 730.0h4.0v4.0h-4.0zM1526.0 730.0h4.0v4.0h-4.0zM1518.0 730.0h4.0v4.0h-4.0zM1531.0 730.0h4.0v4.0h-4.0zM1532.0 731.0h4.0v4.0h-4.0zM1519.0 731.0h4.0v4.0h-4.0zM1522.0 731.0h4.0v4.0h-4.0zM1515.0 731.0h4.0v4.0h-4.0zM1532.0 731.0h4.0v4.0h-4.0zM1511.0 731.0h4.0v4.0h-4.0zM1518.0 731.0h4.0v4.0h-4.0zM1533.0 731.0h4.0v4.0h-4.0zM1531.0 731.0h4.0v4.0h-4.0zM1532.0 731.0h4.0v4.0h-4.0zM1520.0 732.0h4.0v4.0h-4.0zM1518.0 732.0h4.0v4.0h-4.0zM1515.0 732.0h4.0v4.0h-4.0zM1532.0 732.0h4.0v4.0h-4.0zM1519.0 732.0h4.0v4.0h-4.0zM1526.0 732.0h4.0v4.0h-4.0zM1535.0 732.0h4.0v4.0h-4.0zM1528.0 733.0h4.0v4.0h-4.0zM1531.0 733.0h4.0v4.0h-4.0zM1523.0 733.0h4.0v4.0h-4.0zM1516.0 733.0h4.0v4.0h-4.0zM1528.0 733.0h4.0v4.0h-4.0zM1528.0 733.0h4.0v4.0h-4.0zM1518.0 734.0h4.0v4.0h-4.0zM1533.0 734.0h4.0v4.0h-4.0zM1517.0 734.0h4.0v4.0h-4.0zM1523.0 734.0h4.0v4.0h-4.0zM1534.0 734.0h4.0v4.0h-4.0zM1528.0 734.0h4.0v4.0h-4.0zM1530.0 735.0h4.0v4.0h-4.0zM1535.0 735.0h4.0v4.0h-4.0zM1533.0 735.0h4.0v4.0h-4.0zM1520.0 735.0h4.0v4.0h-4.0zM1534.0 735.0h4.0v4.0h-4.0zM1527.0 735.0h4.0v4.0h-4.0zM1517.0 735.0h4.0v4.0h-4.0zM1533.0 735.0h4.0v4.0h-4.0zM1533.0 735.0h4.0v4.0h-4.0zM1532.0 736.0h4.0v4.0h-4.0zM1521.0 736.0h4.0v4.0h-4.0zM1532.0 736.0h4.0v4.0h-4.0zM1523.0 736.0h4.0v4.0h-4.0zM1533.0 737.0h4.0v4.0h-4.0zM1532.0 737.0h4.0v4.0h-4.0zM1525.0 737.0h4.0v4.0h-4.0zM1521.0 737.0h4.0v4.0h-4.0zM1534.0 737.0h4.0v4.0h-4.0zM1528.0 738.0h4.0v4.0h-4.0zM1524.0 738.0h4.0v4.0h-4.0zM1533.0 738.0h4.0v4.0h-4.0zM1518.0 738.0h4.0v4.0h-4.0zM1529.0 738.0h4.0v4.0h-4.0zM1522.0 738.0h4.0v4.0h-4.0zM1519.0 738.0h4.0v4.0h-4.0zM1535.0 738.0h4.0v4.0h-4.0zM1527.0 739.0h4.0v4.0h-4.0zM1523.0 739.0h4.0v4.0h-4.0zM1529.0 739.0h4.0v4.0h-4.0zM1526.0 739.0h4.0v4.0h-4.0zM1534.0 739.0h4.0v4.0h-4.0zM1528.0 740.0h4.0v4.0h-4.0zM1522.0 740.0h4.0v4.0h-4.0zM1533.0 740.0h4.0v4.0h-4.0zM1534.0 740.0h4.0v4.0h-4.0zM1523.0 740.0h4.0v4.0h-4.0zM1532.0 740.0h4.0v4.0h-4.0zM1523.0 740.0h4.0v4.0h-4.0zM1528.0 741.0h4.0v4.0h-4.0zM1526.0 741.0h4.0v4.0h-4.0zM1532.0 741.0h4.0v4.0h-4.0zM1534.0 741.0h4.0v4.0h-4.0zM1532.0 741.0h4.0v4.0h-4.0zM1531.0 742.0h4.0v4.0h-4.0zM1529.0 742.0h4.0v4.0h-4.0zM1532.0 742.0h4.0v4.0h-4.0zM1530.0 742.0h4.0v4.0h-4.0zM1535.0 742.0h4.0v4.0h-4.0zM1527.0 742.0h4.0v4.0h-4.0zM1533.0 742.0h4.0v4.0h-4.0zM1532.0 742.0h4.0v4.0h-4.0zM1535.0 743.0h4.0v4.0h-4.0zM1535.0 743.0h4.0v4.0h-4.0zM1535.0 743.0h4.0v4.0h-4.0zM1531.0 743.0h4.0v4.0h-4.0zM1523.0 743.0h4.0v4.0h-4.0zM1527.0 744.0h4.0v4.0h-4.0zM1525.0 744.0h4.0v4.0h-4.0zM1527.0 744.0h4.0v4.0h-4.0zM1534.0 744.0h4.0v4.0h-4.0zM1528.0 744.0h4.0v4.0h-4.0zM1525.0 744.0h4.0v4.0h-4.0zM1536.0 744.0h4.0v4.0h-4.0zM1532.0 745.0h4.0v4.0h-4.0zM1523.0 745.0h4.0v4.0h-4.0zM1535.0 745.0h4.0v4.0h-4.0zM1523.0 745.0h4.0v4.0h-4.0zM1534.0 745.0h4.0v4.0h-4.0zM1528.0 746.0h4.0v4.0h-4.0zM1533.0 746.0h4.0v4.0h-4.0zM1531.0 746.0h4.0v4.0h-4.0zM1523.0 746.0h4.0v4.0h-4.0zM1525.0 746.0h4.0v4.0h-4.0zM1525.0 747.0h4.0v4.0h-4.0zM1532.0 747.0h4.0v4.0h-4.0zM1527.0 747.0h4.0v4.0h-4.0zM1528.0 747.0h4.0v4.0h-4.0zM1533.0 747.0h4.0v4.0h-4.0zM1526.0 748.0h4.0v4.0h-4.0zM1527.0 748.0h4.0v4.0h-4.0zM1527.0 748.0h4.0v4.0h-4.0zM1525.0 748.0h4.0v4.0h-4.0zM1528.0 748.0h4.0v4.0h-4.0zM1528.0 749.0h4.0v4.0h-4.0zM1528.0 749.0h4.0v4.0h-4.0zM1536.0 749.0h4.0v4.0h-4.0zM1533.0 749.0h4.0v4.0h-4.0zM1536.0 749.0h4.0v4.0h-4.0zM1532.0 750.0h4.0v4.0h-4.0zM1533.0 750.0h4.0v4.0h-4.0zM1529.0 750.0h4.0v4.0h-4.0zM1526.0 750.0h4.0v4.0h-4.0zM1533.0 750.0h4.0v4.0h-4.0zM1532.0 750.0h4.0v4.0h-4.0zM1526.0 751.0h4.0v4.0h-4.0zM1533.0 751.0h4.0v4.0h-4.0zM1529.0 751.0h4.0v4.0h-4.0zM1530.0 752.0h4.0v4.0h-4.0zM1536.0 752.0h4.0v4.0h-4.0zM1531.0 752.0h4.0v4.0h-4.0zM1533.0 753.0h4.0v4.0h-4.0zM1528.0 753.0h4.0v4.0h-4.0zM1535.0 753.0h4.0v4.0h-4.0zM1531.0 753.0h4.0v4.0h-4.0zM1532.0 753.0h4.0v4.0h-4.0zM1534.0 754.0h4.0v4.0h-4.0zM1531.0 754.0h4.0v4.0h-4.0zM1532.0 755.0h4.0v4.0h-4.0zM1532.0 755.0h4.0v4.0h-4.0zM1536.0 755.0h4.0v4.0h-4.0zM1532.0 755.0h4.0v4.0h-4.0zM1536.0 755.0h4.0v4.0h-4.0zM1534.0 755.0h4.0v4.0h-4.0zM1531.0 755.0h4.0v4.0h-4.0zM1533.0 756.0h4.0v4.0h-4.0zM1535.0 756.0h4.0v4.0h-4.0zM1536.0 757.0h4.0v4.0h-4.0zM1535.0 757.0h4.0v4.0h-4.0zM1536.0 757.0h4.0v4.0h-4.0zM1530.0 757.0h4.0v4.0h-4.0zM1536.0 757.0h4.0v4.0h-4.0zM1535.0 758.0h4.0v4.0h-4.0zM1535.0 758.0h4.0v4.0h-4.0zM1536.0 758.0h4.0v4.0h-4.0zM1536.0 758.0h4.0v4.0h-4.0zM1535.0 759.0h4.0v4.0h-4.0zM1534.0 759.0h4.0v4.0h-4.0zM1532.0 759.0h4.0v4.0h-4.0zM1534.0 759.0h4.0v4.0h-4.0zM1535.0 760.0h4.0v4.0h-4.0zM1533.0 760.0h4.0v4.0h-4.0zM1532.0 760.0h4.0v4.0h-4.0zM1532.0 761.0h4.0v4.0h-4.0zM1534.0 761.0h4.0v4.0h-4.0zM1534.0 761.0h4.0v4.0h-4.0zM1535.0 762.0h4.0v4.0h-4.0zM1535.0 762.0h4.0v4.0h-4.0zM1535.0 763.0h4.0v4.0h-4.0zM1535.0 764.0h4.0v4.0h-4.0zM1535.0 764.0h4.0v4.0h-4.0zM1536.0 764.0h4.0v4.0h-4.0zM1536.0 764.0h4.0v4.0h-4.0zM1610.0 605.0h4.0v4.0h-4.0zM1618.0 605.0h4.0v4.0h-4.0zM1617.0 605.0h4.0v4.0h-4.0zM1620.0 607.0h4.0v4.0h-4.0zM1604.0 607.0h4.0v4.0h-4.0zM1612.0 608.0h4.0v4.0h-4.0zM1608.0 609.0h4.0v4.0h-4.0zM1603.0 610.0h4.0v4.0h-4.0zM1624.0 610.0h4.0v4.0h-4.0zM1625.0 613.0h4.0v4.0h-4.0zM1621.0 613.0h4.0v4.0h-4.0zM1613.0 614.0h4.0v4.0h-4.0zM1623.0 614.0h4.0v4.0h-4.0zM1611.0 614.0h4.0v4.0h-4.0zM1605.0 616.0h4.0v4.0h-4.0zM1608.0 616.0h4.0v4.0h-4.0zM1612.0 617.0h4.0v4.0h-4.0zM1634.0 617.0h4.0v4.0h-4.0zM1627.0 618.0h4.0v4.0h-4.0zM1603.0 619.0h4.0v4.0h-4.0zM1622.0 621.0h4.0v4.0h-4.0zM1622.0 621.0h4.0v4.0h-4.0zM1612.0 622.0h4.0v4.0h-4.0zM1605.0 623.0h4.0v4.0h-4.0zM1602.0 623.0h4.0v4.0h-4.0zM1609.0 623.0h4.0v4.0h-4.0zM1623.0 624.0h4.0v4.0h-4.0zM1606.0 624.0h4.0v4.0h-4.0zM1633.0 625.0h4.0v4.0h-4.0zM1639.0 625.0h4.0v4.0h-4.0zM1612.0 626.0h4.0v4.0h-4.0zM1610.0 627.0h4.0v4.0h-4.0zM1605.0 627.0h4.0v4.0h-4.0zM1615.0 627.0h4.0v4.0h-4.0zM1613.0 627.0h4.0v4.0h-4.0zM1605.0 628.0h4.0v4.0h-4.0zM1611.0 628.0h4.0v4.0h-4.0zM1626.0 628.0h4.0v4.0h-4.0zM1618.0 630.0h4.0v4.0h-4.0zM1626.0 631.0h4.0v4.0h-4.0zM1608.0 631.0h4.0v4.0h-4.0zM1608.0 631.0h4.0v4.0h-4.0zM1612.0 631.0h4.0v4.0h-4.0zM1622.0 632.0h4.0v4.0h-4.0zM1638.0 632.0h4.0v4.0h-4.0zM1612.0 632.0h4.0v4.0h-4.0zM1632.0 632.0h4.0v4.0h-4.0zM1620.0 633.0h4.0v4.0h-4.0zM1614.0 634.0h4.0v4.0h-4.0zM1602.0 634.0h4.0v4.0h-4.0zM1603.0 635.0h4.0v4.0h-4.0zM1616.0 635.0h4.0v4.0h-4.0zM1606.0 636.0h4.0v4.0h-4.0zM1617.0 636.0h4.0v4.0h-4.0zM1607.0 637.0h4.0v4.0h-4.0zM1632.0 637.0h4.0v4.0h-4.0zM1609.0 638.0h4.0v4.0h-4.0zM1603.0 638.0h4.0v4.0h-4.0zM1641.0 638.0h4.0v4.0h-4.0zM1601.0 639.0h4.0v4.0h-4.0zM1650.0 639.0h4.0v4.0h-4.0zM1628.0 639.0h4.0v4.0h-4.0zM1604.0 639.0h4.0v4.0h-4.0zM1602.0 639.0h4.0v4.0h-4.0zM1615.0 640.0h4.0v4.0h-4.0zM1604.0 640.0h4.0v4.0h-4.0zM1644.0 640.0h4.0v4.0h-4.0zM1607.0 640.0h4.0v4.0h-4.0zM1602.0 640.0h4.0v4.0h-4.0zM1604.0 641.0h4.0v4.0h-4.0zM1602.0 641.0h4.0v4.0h-4.0zM1602.0 641.0h4.0v4.0h-4.0zM1641.0 641.0h4.0v4.0h-4.0zM1602.0 641.0h4.0v4.0h-4.0zM1603.0 641.0h4.0v4.0h-4.0zM1608.0 642.0h4.0v4.0h-4.0zM1637.0 642.0h4.0v4.0h-4.0zM1615.0 642.0h4.0v4.0h-4.0zM1645.0 643.0h4.0v4.0h-4.0zM1621.0 643.0h4.0v4.0h-4.0zM1609.0 644.0h4.0v4.0h-4.0zM1603.0 644.0h4.0v4.0h-4.0zM1602.0 644.0h4.0v4.0h-4.0zM1640.0 644.0h4.0v4.0h-4.0zM1604.0 644.0h4.0v4.0h-4.0zM1607.0 644.0h4.0v4.0h-4.0zM1645.0 644.0h4.0v4.0h-4.0zM1638.0 645.0h4.0v4.0h-4.0zM1611.0 645.0h4.0v4.0h-4.0zM1619.0 645.0h4.0v4.0h-4.0zM1617.0 645.0h4.0v4.0h-4.0zM1602.0 646.0h4.0v4.0h-4.0zM1618.0 646.0h4.0v4.0h-4.0zM1624.0 647.0h4.0v4.0h-4.0zM1612.0 647.0h4.0v4.0h-4.0zM1615.0 647.0h4.0v4.0h-4.0zM1602.0 648.0h4.0v4.0h-4.0zM1618.0 648.0h4.0v4.0h-4.0zM1611.0 648.0h4.0v4.0h-4.0zM1603.0 648.0h4.0v4.0h-4.0zM1609.0 648.0h4.0v4.0h-4.0zM1600.0 648.0h4.0v4.0h-4.0zM1617.0 649.0h4.0v4.0h-4.0zM1610.0 649.0h4.0v4.0h-4.0zM1609.0 649.0h4.0v4.0h-4.0zM1610.0 650.0h4.0v4.0h-4.0zM1641.0 650.0h4.0v4.0h-4.0zM1601.0 650.0h4.0v4.0h-4.0zM1651.0 650.0h4.0v4.0h-4.0zM1607.0 650.0h4.0v4.0h-4.0zM1603.0 650.0h4.0v4.0h-4.0zM1606.0 651.0h4.0v4.0h-4.0zM1602.0 651.0h4.0v4.0h-4.0zM1620.0 652.0h4.0v4.0h-4.0zM1616.0 652.0h4.0v4.0h-4.0zM1615.0 652.0h4.0v4.0h-4.0zM1606.0 653.0h4.0v4.0h-4.0zM1604.0 653.0h4.0v4.0h-4.0zM1621.0 653.0h4.0v4.0h-4.0zM1611.0 654.0h4.0v4.0h-4.0zM1629.0 654.0h4.0v4.0h-4.0zM1609.0 654.0h4.0v4.0h-4.0zM1629.0 654.0h4.0v4.0h-4.0zM1607.0 654.0h4.0v4.0h-4.0zM1625.0 654.0h4.0v4.0h-4.0zM1601.0 655.0h4.0v4.0h-4.0zM1604.0 655.0h4.0v4.0h-4.0zM1620.0 656.0h4.0v4.0h-4.0zM1626.0 656.0h4.0v4.0h-4.0zM1612.0 656.0h4.0v4.0h-4.0zM1602.0 656.0h4.0v4.0h-4.0zM1637.0 656.0h4.0v4.0h-4.0zM1624.0 656.0h4.0v4.0h-4.0zM1606.0 656.0h4.0v4.0h-4.0zM1601.0 657.0h4.0v4.0h-4.0zM1626.0 657.0h4.0v4.0h-4.0zM1610.0 657.0h4.0v4.0h-4.0zM1611.0 658.0h4.0v4.0h-4.0zM1601.0 658.0h4.0v4.0h-4.0zM1624.0 658.0h4.0v4.0h-4.0zM1611.0 658.0h4.0v4.0h-4.0zM1601.0 658.0h4.0v4.0h-4.0zM1636.0 658.0h4.0v4.0h-4.0zM1601.0 658.0h4.0v4.0h-4.0zM1623.0 659.0h4.0v4.0h-4.0zM1612.0 659.0h4.0v4.0h-4.0zM1615.0 659.0h4.0v4.0h-4.0zM1603.0 659.0h4.0v4.0h-4.0zM1638.0 660.0h4.0v4.0h-4.0zM1607.0 660.0h4.0v4.0h-4.0zM1619.0 660.0h4.0v4.0h-4.0zM1603.0 660.0h4.0v4.0h-4.0zM1633.0 660.0h4.0v4.0h-4.0zM1624.0 660.0h4.0v4.0h-4.0zM1614.0 661.0h4.0v4.0h-4.0zM1622.0 661.0h4.0v4.0h-4.0zM1612.0 661.0h4.0v4.0h-4.0zM1601.0 661.0h4.0v4.0h-4.0zM1601.0 661.0h4.0v4.0h-4.0zM1622.0 662.0h4.0v4.0h-4.0zM1633.0 662.0h4.0v4.0h-4.0zM1627.0 662.0h4.0v4.0h-4.0zM1600.0 662.0h4.0v4.0h-4.0zM1639.0 662.0h4.0v4.0h-4.0zM1609.0 662.0h4.0v4.0h-4.0zM1608.0 663.0h4.0v4.0h-4.0zM1632.0 663.0h4.0v4.0h-4.0zM1609.0 663.0h4.0v4.0h-4.0zM1621.0 663.0h4.0v4.0h-4.0zM1614.0 663.0h4.0v4.0h-4.0zM1600.0 663.0h4.0v4.0h-4.0zM1631.0 663.0h4.0v4.0h-4.0zM1615.0 664.0h4.0v4.0h-4.0zM1644.0 664.0h4.0v4.0h-4.0zM1609.0 664.0h4.0v4.0h-4.0zM1635.0 664.0h4.0v4.0h-4.0zM1623.0 664.0h4.0v4.0h-4.0zM1605.0 664.0h4.0v4.0h-4.0zM1601.0 665.0h4.0v4.0h-4.0zM1614.0 665.0h4.0v4.0h-4.0zM1620.0 665.0h4.0v4.0h-4.0zM1601.0 665.0h4.0v4.0h-4.0zM1614.0 665.0h4.0v4.0h-4.0zM1609.0 666.0h4.0v4.0h-4.0zM1615.0 666.0h4.0v4.0h-4.0zM1634.0 666.0h4.0v4.0h-4.0zM1622.0 666.0h4.0v4.0h-4.0zM1631.0 666.0h4.0v4.0h-4.0zM1603.0 666.0h4.0v4.0h-4.0zM1627.0 667.0h4.0v4.0h-4.0zM1621.0 667.0h4.0v4.0h-4.0zM1622.0 667.0h4.0v4.0h-4.0zM1625.0 667.0h4.0v4.0h-4.0zM1600.0 667.0h4.0v4.0h-4.0zM1614.0 667.0h4.0v4.0h-4.0zM1614.0 668.0h4.0v4.0h-4.0zM1604.0 668.0h4.0v4.0h-4.0zM1615.0 668.0h4.0v4.0h-4.0zM1603.0 668.0h4.0v4.0h-4.0zM1612.0 668.0h4.0v4.0h-4.0zM1620.0 669.0h4.0v4.0h-4.0zM1603.0 669.0h4.0v4.0h-4.0zM1628.0 669.0h4.0v4.0h-4.0zM1607.0 669.0h4.0v4.0h-4.0zM1616.0 669.0h4.0v4.0h-4.0zM1600.0 669.0h4.0v4.0h-4.0zM1613.0 670.0h4.0v4.0h-4.0zM1605.0 670.0h4.0v4.0h-4.0zM1602.0 670.0h4.0v4.0h-4.0zM1645.0 670.0h4.0v4.0h-4.0zM1612.0 670.0h4.0v4.0h-4.0zM1610.0 670.0h4.0v4.0h-4.0zM1614.0 670.0h4.0v4.0h-4.0zM1606.0 671.0h4.0v4.0h-4.0zM1599.0 671.0h4.0v4.0h-4.0zM1633.0 671.0h4.0v4.0h-4.0zM1604.0 671.0h4.0v4.0h-4.0zM1621.0 671.0h4.0v4.0h-4.0zM1630.0 671.0h4.0v4.0h-4.0zM1635.0 671.0h4.0v4.0h-4.0zM1622.0 672.0h4.0v4.0h-4.0zM1630.0 672.0h4.0v4.0h-4.0zM1615.0 672.0h4.0v4.0h-4.0zM1612.0 672.0h4.0v4.0h-4.0zM1611.0 673.0h4.0v4.0h-4.0zM1601.0 673.0h4.0v4.0h-4.0zM1600.0 673.0h4.0v4.0h-4.0zM1628.0 673.0h4.0v4.0h-4.0zM1625.0 673.0h4.0v4.0h-4.0zM1603.0 673.0h4.0v4.0h-4.0zM1630.0 674.0h4.0v4.0h-4.0zM1602.0 674.0h4.0v4.0h-4.0zM1601.0 674.0h4.0v4.0h-4.0zM1626.0 674.0h4.0v4.0h-4.0zM1606.0 674.0h4.0v4.0h-4.0zM1640.0 674.0h4.0v4.0h-4.0zM1601.0 675.0h4.0v4.0h-4.0zM1623.0 675.0h4.0v4.0h-4.0zM1630.0 675.0h4.0v4.0h-4.0zM1602.0 675.0h4.0v4.0h-4.0zM1612.0 675.0h4.0v4.0h-4.0zM1649.0 675.0h4.0v4.0h-4.0zM1609.0 676.0h4.0v4.0h-4.0zM1601.0 676.0h4.0v4.0h-4.0zM1599.0 676.0h4.0v4.0h-4.0zM1628.0 676.0h4.0v4.0h-4.0zM1618.0 676.0h4.0v4.0h-4.0zM1600.0 676.0h4.0v4.0h-4.0zM1603.0 676.0h4.0v4.0h-4.0zM1622.0 677.0h4.0v4.0h-4.0zM1634.0 677.0h4.0v4.0h-4.0zM1628.0 677.0h4.0v4.0h-4.0zM1619.0 677.0h4.0v4.0h-4.0zM1610.0 677.0h4.0v4.0h-4.0zM1610.0 677.0h4.0v4.0h-4.0zM1608.0 677.0h4.0v4.0h-4.0zM1600.0 678.0h4.0v4.0h-4.0zM1616.0 678.0h4.0v4.0h-4.0zM1607.0 678.0h4.0v4.0h-4.0zM1623.0 678.0h4.0v4.0h-4.0zM1632.0 678.0h4.0v4.0h-4.0zM1629.0 678.0h4.0v4.0h-4.0zM1600.0 678.0h4.0v4.0h-4.0zM1637.0 678.0h4.0v4.0h-4.0zM1610.0 679.0h4.0v4.0h-4.0zM1621.0 679.0h4.0v4.0h-4.0zM1633.0 679.0h4.0v4.0h-4.0zM1621.0 679.0h4.0v4.0h-4.0zM1608.0 679.0h4.0v4.0h-4.0zM1615.0 679.0h4.0v4.0h-4.0zM1624.0 680.0h4.0v4.0h-4.0zM1606.0 680.0h4.0v4.0h-4.0zM1611.0 680.0h4.0v4.0h-4.0zM1616.0 680.0h4.0v4.0h-4.0zM1611.0 680.0h4.0v4.0h-4.0zM1603.0 681.0h4.0v4.0h-4.0zM1625.0 681.0h4.0v4.0h-4.0zM1607.0 681.0h4.0v4.0h-4.0zM1640.0 681.0h4.0v4.0h-4.0zM1630.0 681.0h4.0v4.0h-4.0zM1605.0 681.0h4.0v4.0h-4.0zM1632.0 681.0h4.0v4.0h-4.0zM1604.0 681.0h4.0v4.0h-4.0zM1615.0 682.0h4.0v4.0h-4.0zM1618.0 682.0h4.0v4.0h-4.0zM1639.0 682.0h4.0v4.0h-4.0zM1605.0 682.0h4.0v4.0h-4.0zM1602.0 682.0h4.0v4.0h-4.0zM1646.0 682.0h4.0v4.0h-4.0zM1616.0 682.0h4.0v4.0h-4.0zM1602.0 682.0h4.0v4.0h-4.0zM1608.0 682.0h4.0v4.0h-4.0zM1616.0 682.0h4.0v4.0h-4.0zM1616.0 683.0h4.0v4.0h-4.0zM1616.0 683.0h4.0v4.0h-4.0zM1604.0 683.0h4.0v4.0h-4.0zM1608.0 683.0h4.0v4.0h-4.0zM1628.0 683.0h4.0v4.0h-4.0zM1629.0 684.0h4.0v4.0h-4.0zM1621.0 684.0h4.0v4.0h-4.0zM1611.0 684.0h4.0v4.0h-4.0zM1603.0 684.0h4.0v4.0h-4.0zM1611.0 684.0h4.0v4.0h-4.0zM1606.0 684.0h4.0v4.0h-4.0zM1627.0 685.0h4.0v4.0h-4.0zM1617.0 685.0h4.0v4.0h-4.0zM1600.0 685.0h4.0v4.0h-4.0zM1637.0 685.0h4.0v4.0h-4.0zM1619.0 685.0h4.0v4.0h-4.0zM1607.0 685.0h4.0v4.0h-4.0zM1628.0 685.0h4.0v4.0h-4.0zM1619.0 685.0h4.0v4.0h-4.0zM1615.0 685.0h4.0v4.0h-4.0zM1620.0 686.0h4.0v4.0h-4.0zM1605.0 686.0h4.0v4.0h-4.0zM1605.0 686.0h4.0v4.0h-4.0zM1604.0 686.0h4.0v4.0h-4.0zM1607.0 686.0h4.0v4.0h-4.0zM1602.0 686.0h4.0v4.0h-4.0zM1617.0 687.0h4.0v4.0h-4.0zM1622.0 687.0h4.0v4.0h-4.0zM1627.0 687.0h4.0v4.0h-4.0zM1610.0 687.0h4.0v4.0h-4.0zM1615.0 687.0h4.0v4.0h-4.0zM1608.0 687.0h4.0v4.0h-4.0zM1601.0 687.0h4.0v4.0h-4.0zM1601.0 688.0h4.0v4.0h-4.0zM1620.0 688.0h4.0v4.0h-4.0zM1637.0 688.0h4.0v4.0h-4.0zM1626.0 688.0h4.0v4.0h-4.0zM1610.0 688.0h4.0v4.0h-4.0zM1601.0 688.0h4.0v4.0h-4.0zM1630.0 688.0h4.0v4.0h-4.0zM1618.0 688.0h4.0v4.0h-4.0zM1628.0 688.0h4.0v4.0h-4.0zM1617.0 688.0h4.0v4.0h-4.0zM1621.0 689.0h4.0v4.0h-4.0zM1630.0 689.0h4.0v4.0h-4.0zM1610.0 689.0h4.0v4.0h-4.0zM1612.0 689.0h4.0v4.0h-4.0zM1599.0 689.0h4.0v4.0h-4.0zM1621.0 689.0h4.0v4.0h-4.0zM1629.0 690.0h4.0v4.0h-4.0zM1628.0 690.0h4.0v4.0h-4.0zM1601.0 690.0h4.0v4.0h-4.0zM1620.0 690.0h4.0v4.0h-4.0zM1602.0 690.0h4.0v4.0h-4.0zM1609.0 690.0h4.0v4.0h-4.0zM1610.0 690.0h4.0v4.0h-4.0zM1632.0 691.0h4.0v4.0h-4.0zM1617.0 691.0h4.0v4.0h-4.0zM1600.0 691.0h4.0v4.0h-4.0zM1604.0 691.0h4.0v4.0h-4.0zM1600.0 691.0h4.0v4.0h-4.0zM1601.0 691.0h4.0v4.0h-4.0zM1625.0 691.0h4.0v4.0h-4.0zM1606.0 691.0h4.0v4.0h-4.0zM1599.0 691.0h4.0v4.0h-4.0zM1637.0 691.0h4.0v4.0h-4.0zM1604.0 692.0h4.0v4.0h-4.0zM1607.0 692.0h4.0v4.0h-4.0zM1599.0 692.0h4.0v4.0h-4.0zM1608.0 692.0h4.0v4.0h-4.0zM1604.0 692.0h4.0v4.0h-4.0zM1629.0 692.0h4.0v4.0h-4.0zM1616.0 692.0h4.0v4.0h-4.0zM1621.0 692.0h4.0v4.0h-4.0zM1609.0 693.0h4.0v4.0h-4.0zM1613.0 693.0h4.0v4.0h-4.0zM1621.0 693.0h4.0v4.0h-4.0zM1602.0 693.0h4.0v4.0h-4.0zM1621.0 693.0h4.0v4.0h-4.0zM1600.0 693.0h4.0v4.0h-4.0zM1613.0 693.0h4.0v4.0h-4.0zM1607.0 694.0h4.0v4.0h-4.0zM1615.0 694.0h4.0v4.0h-4.0zM1610.0 694.0h4.0v4.0h-4.0zM1599.0 694.0h4.0v4.0h-4.0zM1609.0 694.0h4.0v4.0h-4.0zM1620.0 694.0h4.0v4.0h-4.0zM1621.0 695.0h4.0v4.0h-4.0zM1625.0 695.0h4.0v4.0h-4.0zM1620.0 695.0h4.0v4.0h-4.0zM1626.0 695.0h4.0v4.0h-4.0zM1606.0 695.0h4.0v4.0h-4.0zM1618.0 695.0h4.0v4.0h-4.0zM1604.0 695.0h4.0v4.0h-4.0zM1631.0 696.0h4.0v4.0h-4.0zM1617.0 696.0h4.0v4.0h-4.0zM1631.0 696.0h4.0v4.0h-4.0zM1627.0 696.0h4.0v4.0h-4.0zM1622.0 696.0h4.0v4.0h-4.0zM1616.0 696.0h4.0v4.0h-4.0zM1608.0 696.0h4.0v4.0h-4.0zM1610.0 696.0h4.0v4.0h-4.0zM1612.0 697.0h4.0v4.0h-4.0zM1635.0 697.0h4.0v4.0h-4.0zM1613.0 697.0h4.0v4.0h-4.0zM1613.0 697.0h4.0v4.0h-4.0zM1602.0 697.0h4.0v4.0h-4.0zM1613.0 697.0h4.0v4.0h-4.0zM1602.0 697.0h4.0v4.0h-4.0zM1605.0 698.0h4.0v4.0h-4.0zM1628.0 698.0h4.0v4.0h-4.0zM1631.0 698.0h4.0v4.0h-4.0zM1618.0 698.0h4.0v4.0h-4.0zM1602.0 698.0h4.0v4.0h-4.0zM1602.0 698.0h4.0v4.0h-4.0zM1612.0 699.0h4.0v4.0h-4.0zM1626.0 699.0h4.0v4.0h-4.0zM1610.0 699.0h4.0v4.0h-4.0zM1601.0 699.0h4.0v4.0h-4.0zM1599.0 699.0h4.0v4.0h-4.0zM1621.0 699.0h4.0v4.0h-4.0zM1600.0 699.0h4.0v4.0h-4.0zM1638.0 699.0h4.0v4.0h-4.0zM1615.0 699.0h4.0v4.0h-4.0zM1624.0 699.0h4.0v4.0h-4.0zM1605.0 700.0h4.0v4.0h-4.0zM1608.0 700.0h4.0v4.0h-4.0zM1624.0 700.0h4.0v4.0h-4.0zM1603.0 700.0h4.0v4.0h-4.0zM1614.0 700.0h4.0v4.0h-4.0zM1603.0 700.0h4.0v4.0h-4.0zM1602.0 700.0h4.0v4.0h-4.0zM1621.0 701.0h4.0v4.0h-4.0zM1623.0 701.0h4.0v4.0h-4.0zM1614.0 701.0h4.0v4.0h-4.0zM1612.0 701.0h4.0v4.0h-4.0zM1600.0 701.0h4.0v4.0h-4.0zM1606.0 701.0h4.0v4.0h-4.0zM1635.0 701.0h4.0v4.0h-4.0zM1625.0 701.0h4.0v4.0h-4.0zM1628.0 701.0h4.0v4.0h-4.0zM1599.0 701.0h4.0v4.0h-4.0zM1604.0 702.0h4.0v4.0h-4.0zM1634.0 702.0h4.0v4.0h-4.0zM1623.0 702.0h4.0v4.0h-4.0zM1601.0 702.0h4.0v4.0h-4.0zM1621.0 702.0h4.0v4.0h-4.0zM1614.0 702.0h4.0v4.0h-4.0zM1598.0 702.0h4.0v4.0h-4.0zM1618.0 702.0h4.0v4.0h-4.0zM1608.0 702.0h4.0v4.0h-4.0zM1625.0 703.0h4.0v4.0h-4.0zM1599.0 703.0h4.0v4.0h-4.0zM1627.0 703.0h4.0v4.0h-4.0zM1606.0 703.0h4.0v4.0h-4.0zM1600.0 703.0h4.0v4.0h-4.0zM1603.0 703.0h4.0v4.0h-4.0zM1629.0 703.0h4.0v4.0h-4.0zM1629.0 704.0h4.0v4.0h-4.0zM1600.0 704.0h4.0v4.0h-4.0zM1616.0 704.0h4.0v4.0h-4.0zM1608.0 704.0h4.0v4.0h-4.0zM1614.0 704.0h4.0v4.0h-4.0zM1599.0 704.0h4.0v4.0h-4.0zM1602.0 704.0h4.0v4.0h-4.0zM1602.0 704.0h4.0v4.0h-4.0zM1605.0 705.0h4.0v4.0h-4.0zM1601.0 705.0h4.0v4.0h-4.0zM1600.0 705.0h4.0v4.0h-4.0zM1602.0 705.0h4.0v4.0h-4.0zM1604.0 705.0h4.0v4.0h-4.0zM1599.0 705.0h4.0v4.0h-4.0zM1624.0 705.0h4.0v4.0h-4.0zM1609.0 705.0h4.0v4.0h-4.0zM1605.0 705.0h4.0v4.0h-4.0zM1629.0 706.0h4.0v4.0h-4.0zM1612.0 706.0h4.0v4.0h-4.0zM1601.0 706.0h4.0v4.0h-4.0zM1617.0 706.0h4.0v4.0h-4.0zM1625.0 706.0h4.0v4.0h-4.0zM1601.0 707.0h4.0v4.0h-4.0zM1623.0 707.0h4.0v4.0h-4.0zM1623.0 707.0h4.0v4.0h-4.0zM1605.0 707.0h4.0v4.0h-4.0zM1607.0 707.0h4.0v4.0h-4.0zM1629.0 707.0h4.0v4.0h-4.0zM1616.0 708.0h4.0v4.0h-4.0zM1607.0 708.0h4.0v4.0h-4.0zM1613.0 708.0h4.0v4.0h-4.0zM1613.0 708.0h4.0v4.0h-4.0zM1618.0 708.0h4.0v4.0h-4.0zM1609.0 708.0h4.0v4.0h-4.0zM1603.0 708.0h4.0v4.0h-4.0zM1599.0 709.0h4.0v4.0h-4.0zM1605.0 709.0h4.0v4.0h-4.0zM1623.0 709.0h4.0v4.0h-4.0zM1622.0 709.0h4.0v4.0h-4.0zM1617.0 709.0h4.0v4.0h-4.0zM1628.0 709.0h4.0v4.0h-4.0zM1604.0 709.0h4.0v4.0h-4.0zM1623.0 710.0h4.0v4.0h-4.0zM1612.0 710.0h4.0v4.0h-4.0zM1598.0 710.0h4.0v4.0h-4.0zM1604.0 710.0h4.0v4.0h-4.0zM1606.0 710.0h4.0v4.0h-4.0zM1626.0 710.0h4.0v4.0h-4.0zM1626.0 710.0h4.0v4.0h-4.0zM1598.0 710.0h4.0v4.0h-4.0zM1605.0 710.0h4.0v4.0h-4.0zM1618.0 710.0h4.0v4.0h-4.0zM1619.0 711.0h4.0v4.0h-4.0zM1598.0 711.0h4.0v4.0h-4.0zM1602.0 711.0h4.0v4.0h-4.0zM1607.0 711.0h4.0v4.0h-4.0zM1609.0 711.0h4.0v4.0h-4.0zM1601.0 711.0h4.0v4.0h-4.0zM1598.0 711.0h4.0v4.0h-4.0zM1612.0 711.0h4.0v4.0h-4.0zM1604.0 712.0h4.0v4.0h-4.0zM1598.0 712.0h4.0v4.0h-4.0zM1601.0 712.0h4.0v4.0h-4.0zM1601.0 712.0h4.0v4.0h-4.0zM1625.0 712.0h4.0v4.0h-4.0zM1620.0 712.0h4.0v4.0h-4.0zM1626.0 712.0h4.0v4.0h-4.0zM1613.0 713.0h4.0v4.0h-4.0zM1614.0 713.0h4.0v4.0h-4.0zM1609.0 713.0h4.0v4.0h-4.0zM1599.0 713.0h4.0v4.0h-4.0zM1602.0 713.0h4.0v4.0h-4.0zM1601.0 713.0h4.0v4.0h-4.0zM1605.0 713.0h4.0v4.0h-4.0zM1614.0 713.0h4.0v4.0h-4.0zM1617.0 714.0h4.0v4.0h-4.0zM1619.0 714.0h4.0v4.0h-4.0zM1599.0 714.0h4.0v4.0h-4.0zM1624.0 714.0h4.0v4.0h-4.0zM1625.0 714.0h4.0v4.0h-4.0zM1623.0 714.0h4.0v4.0h-4.0zM1626.0 714.0h4.0v4.0h-4.0zM1610.0 714.0h4.0v4.0h-4.0zM1603.0 715.0h4.0v4.0h-4.0zM1601.0 715.0h4.0v4.0h-4.0zM1614.0 715.0h4.0v4.0h-4.0zM1613.0 715.0h4.0v4.0h-4.0zM1609.0 715.0h4.0v4.0h-4.0zM1599.0 715.0h4.0v4.0h-4.0zM1603.0 716.0h4.0v4.0h-4.0zM1630.0 716.0h4.0v4.0h-4.0zM1600.0 716.0h4.0v4.0h-4.0zM1616.0 716.0h4.0v4.0h-4.0zM1604.0 716.0h4.0v4.0h-4.0zM1620.0 716.0h4.0v4.0h-4.0zM1619.0 717.0h4.0v4.0h-4.0zM1623.0 717.0h4.0v4.0h-4.0zM1604.0 717.0h4.0v4.0h-4.0zM1621.0 717.0h4.0v4.0h-4.0zM1609.0 717.0h4.0v4.0h-4.0zM1605.0 717.0h4.0v4.0h-4.0zM1608.0 718.0h4.0v4.0h-4.0zM1598.0 718.0h4.0v4.0h-4.0zM1619.0 718.0h4.0v4.0h-4.0zM1617.0 718.0h4.0v4.0h-4.0zM1609.0 718.0h4.0v4.0h-4.0zM1617.0 719.0h4.0v4.0h-4.0zM1605.0 719.0h4.0v4.0h-4.0zM1599.0 719.0h4.0v4.0h-4.0zM1618.0 719.0h4.0v4.0h-4.0zM1615.0 719.0h4.0v4.0h-4.0zM1607.0 719.0h4.0v4.0h-4.0zM1601.0 719.0h4.0v4.0h-4.0zM1600.0 719.0h4.0v4.0h-4.0zM1616.0 720.0h4.0v4.0h-4.0zM1611.0 720.0h4.0v4.0h-4.0zM1605.0 720.0h4.0v4.0h-4.0zM1602.0 720.0h4.0v4.0h-4.0zM1599.0 720.0h4.0v4.0h-4.0zM1601.0 720.0h4.0v4.0h-4.0zM1616.0 721.0h4.0v4.0h-4.0zM1601.0 721.0h4.0v4.0h-4.0zM1616.0 721.0h4.0v4.0h-4.0zM1622.0 721.0h4.0v4.0h-4.0zM1600.0 721.0h4.0v4.0h-4.0zM1613.0 721.0h4.0v4.0h-4.0zM1597.0 721.0h4.0v4.0h-4.0zM1607.0 721.0h4.0v4.0h-4.0zM1599.0 721.0h4.0v4.0h-4.0zM1611.0 722.0h4.0v4.0h-4.0zM1608.0 722.0h4.0v4.0h-4.0zM1606.0 722.0h4.0v4.0h-4.0zM1621.0 722.0h4.0v4.0h-4.0zM1599.0 722.0h4.0v4.0h-4.0zM1597.0 722.0h4.0v4.0h-4.0zM1619.0 722.0h4.0v4.0h-4.0zM1598.0 722.0h4.0v4.0h-4.0zM1601.0 722.0h4.0v4.0h-4.0zM1599.0 723.0h4.0v4.0h-4.0zM1602.0 723.0h4.0v4.0h-4.0zM1618.0 723.0h4.0v4.0h-4.0zM1598.0 723.0h4.0v4.0h-4.0zM1605.0 723.0h4.0v4.0h-4.0zM1604.0 723.0h4.0v4.0h-4.0zM1617.0 724.0h4.0v4.0h-4.0zM1622.0 724.0h4.0v4.0h-4.0zM1598.0 724.0h4.0v4.0h-4.0zM1620.0 724.0h4.0v4.0h-4.0zM1622.0 724.0h4.0v4.0h-4.0zM1618.0 724.0h4.0v4.0h-4.0zM1602.0 725.0h4.0v4.0h-4.0zM1605.0 725.0h4.0v4.0h-4.0zM1609.0 725.0h4.0v4.0h-4.0zM1613.0 725.0h4.0v4.0h-4.0zM1601.0 725.0h4.0v4.0h-4.0zM1612.0 725.0h4.0v4.0h-4.0zM1597.0 726.0h4.0v4.0h-4.0zM1618.0 726.0h4.0v4.0h-4.0zM1609.0 726.0h4.0v4.0h-4.0zM1610.0 726.0h4.0v4.0h-4.0zM1615.0 726.0h4.0v4.0h-4.0zM1610.0 726.0h4.0v4.0h-4.0zM1604.0 726.0h4.0v4.0h-4.0zM1615.0 727.0h4.0v4.0h-4.0zM1611.0 727.0h4.0v4.0h-4.0zM1607.0 727.0h4.0v4.0h-4.0zM1599.0 727.0h4.0v4.0h-4.0zM1618.0 727.0h4.0v4.0h-4.0zM1617.0 727.0h4.0v4.0h-4.0zM1601.0 727.0h4.0v4.0h-4.0zM1606.0 727.0h4.0v4.0h-4.0zM1610.0 728.0h4.0v4.0h-4.0zM1616.0 728.0h4.0v4.0h-4.0zM1604.0 728.0h4.0v4.0h-4.0zM1599.0 728.0h4.0v4.0h-4.0zM1607.0 728.0h4.0v4.0h-4.0zM1608.0 728.0h4.0v4.0h-4.0zM1614.0 728.0h4.0v4.0h-4.0zM1601.0 728.0h4.0v4.0h-4.0zM1603.0 729.0h4.0v4.0h-4.0zM1600.0 729.0h4.0v4.0h-4.0zM1598.0 729.0h4.0v4.0h-4.0zM1605.0 729.0h4.0v4.0h-4.0zM1597.0 729.0h4.0v4.0h-4.0zM1600.0 729.0h4.0v4.0h-4.0zM1613.0 729.0h4.0v4.0h-4.0zM1600.0 729.0h4.0v4.0h-4.0zM1615.0 729.0h4.0v4.0h-4.0zM1600.0 729.0h4.0v4.0h-4.0zM1607.0 730.0h4.0v4.0h-4.0zM1615.0 730.0h4.0v4.0h-4.0zM1606.0 730.0h4.0v4.0h-4.0zM1600.0 730.0h4.0v4.0h-4.0zM1602.0 730.0h4.0v4.0h-4.0zM1613.0 730.0h4.0v4.0h-4.0zM1610.0 730.0h4.0v4.0h-4.0zM1618.0 731.0h4.0v4.0h-4.0zM1612.0 731.0h4.0v4.0h-4.0zM1597.0 731.0h4.0v4.0h-4.0zM1605.0 731.0h4.0v4.0h-4.0zM1606.0 731.0h4.0v4.0h-4.0zM1603.0 731.0h4.0v4.0h-4.0zM1615.0 731.0h4.0v4.0h-4.0zM1620.0 731.0h4.0v4.0h-4.0zM1605.0 732.0h4.0v4.0h-4.0zM1614.0 732.0h4.0v4.0h-4.0zM1605.0 732.0h4.0v4.0h-4.0zM1599.0 732.0h4.0v4.0h-4.0zM1611.0 732.0h4.0v4.0h-4.0zM1598.0 732.0h4.0v4.0h-4.0zM1603.0 733.0h4.0v4.0h-4.0zM1607.0 733.0h4.0v4.0h-4.0zM1608.0 733.0h4.0v4.0h-4.0zM1614.0 733.0h4.0v4.0h-4.0zM1615.0 733.0h4.0v4.0h-4.0zM1599.0 733.0h4.0v4.0h-4.0zM1599.0 734.0h4.0v4.0h-4.0zM1600.0 734.0h4.0v4.0h-4.0zM1599.0 734.0h4.0v4.0h-4.0zM1612.0 734.0h4.0v4.0h-4.0zM1599.0 734.0h4.0v4.0h-4.0zM1605.0 734.0h4.0v4.0h-4.0zM1609.0 734.0h4.0v4.0h-4.0zM1601.0 735.0h4.0v4.0h-4.0zM1597.0 735.0h4.0v4.0h-4.0zM1615.0 735.0h4.0v4.0h-4.0zM1606.0 735.0h4.0v4.0h-4.0zM1610.0 735.0h4.0v4.0h-4.0zM1598.0 735.0h4.0v4.0h-4.0zM1614.0 735.0h4.0v4.0h-4.0zM1597.0 736.0h4.0v4.0h-4.0zM1615.0 736.0h4.0v4.0h-4.0zM1611.0 736.0h4.0v4.0h-4.0zM1600.0 736.0h4.0v4.0h-4.0zM1600.0 737.0h4.0v4.0h-4.0zM1612.0 737.0h4.0v4.0h-4.0zM1605.0 737.0h4.0v4.0h-4.0zM1599.0 737.0h4.0v4.0h-4.0zM1610.0 737.0h4.0v4.0h-4.0zM1611.0 737.0h4.0v4.0h-4.0zM1605.0 737.0h4.0v4.0h-4.0zM1597.0 737.0h4.0v4.0h-4.0zM1608.0 738.0h4.0v4.0h-4.0zM1609.0 738.0h4.0v4.0h-4.0zM1597.0 738.0h4.0v4.0h-4.0zM1602.0 738.0h4.0v4.0h-4.0zM1601.0 738.0h4.0v4.0h-4.0zM1597.0 738.0h4.0v4.0h-4.0zM1598.0 738.0h4.0v4.0h-4.0zM1609.0 738.0h4.0v4.0h-4.0zM1600.0 739.0h4.0v4.0h-4.0zM1606.0 739.0h4.0v4.0h-4.0zM1597.0 739.0h4.0v4.0h-4.0zM1612.0 739.0h4.0v4.0h-4.0zM1597.0 739.0h4.0v4.0h-4.0zM1598.0 739.0h4.0v4.0h-4.0zM1600.0 739.0h4.0v4.0h-4.0zM1606.0 739.0h4.0v4.0h-4.0zM1598.0 740.0h4.0v4.0h-4.0zM1607.0 740.0h4.0v4.0h-4.0zM1602.0 740.0h4.0v4.0h-4.0zM1603.0 740.0h4.0v4.0h-4.0zM1602.0 740.0h4.0v4.0h-4.0zM1600.0 740.0h4.0v4.0h-4.0zM1603.0 741.0h4.0v4.0h-4.0zM1599.0 741.0h4.0v4.0h-4.0zM1609.0 741.0h4.0v4.0h-4.0zM1602.0 741.0h4.0v4.0h-4.0zM1611.0 741.0h4.0v4.0h-4.0zM1612.0 741.0h4.0v4.0h-4.0zM1610.0 741.0h4.0v4.0h-4.0zM1597.0 742.0h4.0v4.0h-4.0zM1599.0 742.0h4.0v4.0h-4.0zM1598.0 742.0h4.0v4.0h-4.0zM1601.0 742.0h4.0v4.0h-4.0zM1610.0 742.0h4.0v4.0h-4.0zM1609.0 742.0h4.0v4.0h-4.0zM1612.0 742.0h4.0v4.0h-4.0zM1608.0 743.0h4.0v4.0h-4.0zM1597.0 743.0h4.0v4.0h-4.0zM1607.0 743.0h4.0v4.0h-4.0zM1599.0 743.0h4.0v4.0h-4.0zM1597.0 743.0h4.0v4.0h-4.0zM1600.0 743.0h4.0v4.0h-4.0zM1610.0 744.0h4.0v4.0h-4.0zM1597.0 744.0h4.0v4.0h-4.0zM1598.0 744.0h4.0v4.0h-4.0zM1600.0 744.0h4.0v4.0h-4.0zM1602.0 745.0h4.0v4.0h-4.0zM1596.0 745.0h4.0v4.0h-4.0zM1599.0 745.0h4.0v4.0h-4.0zM1611.0 745.0h4.0v4.0h-4.0zM1603.0 745.0h4.0v4.0h-4.0zM1598.0 745.0h4.0v4.0h-4.0zM1601.0 745.0h4.0v4.0h-4.0zM1605.0 746.0h4.0v4.0h-4.0zM1598.0 746.0h4.0v4.0h-4.0zM1607.0 746.0h4.0v4.0h-4.0zM1599.0 746.0h4.0v4.0h-4.0zM1605.0 746.0h4.0v4.0h-4.0zM1597.0 746.0h4.0v4.0h-4.0zM1608.0 747.0h4.0v4.0h-4.0zM1598.0 747.0h4.0v4.0h-4.0zM1608.0 747.0h4.0v4.0h-4.0zM1608.0 747.0h4.0v4.0h-4.0zM1604.0 747.0h4.0v4.0h-4.0zM1601.0 747.0h4.0v4.0h-4.0zM1603.0 747.0h4.0v4.0h-4.0zM1606.0 748.0h4.0v4.0h-4.0zM1601.0 748.0h4.0v4.0h-4.0zM1606.0 748.0h4.0v4.0h-4.0zM1607.0 748.0h4.0v4.0h-4.0zM1597.0 748.0h4.0v4.0h-4.0zM1600.0 749.0h4.0v4.0h-4.0zM1604.0 749.0h4.0v4.0h-4.0zM1596.0 749.0h4.0v4.0h-4.0zM1607.0 749.0h4.0v4.0h-4.0zM1598.0 749.0h4.0v4.0h-4.0zM1605.0 750.0h4.0v4.0h-4.0zM1602.0 750.0h4.0v4.0h-4.0zM1597.0 750.0h4.0v4.0h-4.0zM1597.0 750.0h4.0v4.0h-4.0zM1607.0 750.0h4.0v4.0h-4.0zM1604.0 750.0h4.0v4.0h-4.0zM1599.0 751.0h4.0v4.0h-4.0zM1600.0 751.0h4.0v4.0h-4.0zM1604.0 751.0h4.0v4.0h-4.0zM1603.0 751.0h4.0v4.0h-4.0zM1599.0 751.0h4.0v4.0h-4.0zM1602.0 752.0h4.0v4.0h-4.0zM1604.0 752.0h4.0v4.0h-4.0zM1605.0 752.0h4.0v4.0h-4.0zM1596.0 752.0h4.0v4.0h-4.0zM1602.0 753.0h4.0v4.0h-4.0zM1600.0 753.0h4.0v4.0h-4.0zM1599.0 753.0h4.0v4.0h-4.0zM1601.0 753.0h4.0v4.0h-4.0zM1596.0 753.0h4.0v4.0h-4.0zM1596.0 754.0h4.0v4.0h-4.0zM1604.0 754.0h4.0v4.0h-4.0zM1599.0 754.0h4.0v4.0h-4.0zM1599.0 755.0h4.0v4.0h-4.0zM1596.0 755.0h4.0v4.0h-4.0zM1604.0 755.0h4.0v4.0h-4.0zM1602.0 755.0h4.0v4.0h-4.0zM1597.0 755.0h4.0v4.0h-4.0zM1603.0 756.0h4.0v4.0h-4.0zM1597.0 756.0h4.0v4.0h-4.0zM1598.0 756.0h4.0v4.0h-4.0zM1596.0 756.0h4.0v4.0h-4.0zM1599.0 756.0h4.0v4.0h-4.0zM1597.0 757.0h4.0v4.0h-4.0zM1602.0 757.0h4.0v4.0h-4.0zM1598.0 757.0h4.0v4.0h-4.0zM1601.0 757.0h4.0v4.0h-4.0zM1597.0 757.0h4.0v4.0h-4.0zM1598.0 758.0h4.0v4.0h-4.0zM1596.0 758.0h4.0v4.0h-4.0zM1599.0 758.0h4.0v4.0h-4.0zM1597.0 758.0h4.0v4.0h-4.0zM1596.0 759.0h4.0v4.0h-4.0zM1597.0 759.0h4.0v4.0h-4.0zM1600.0 759.0h4.0v4.0h-4.0zM1595.0 760.0h4.0v4.0h-4.0zM1598.0 760.0h4.0v4.0h-4.0zM1599.0 761.0h4.0v4.0h-4.0zM1598.0 761.0h4.0v4.0h-4.0zM1598.0 762.0h4.0v4.0h-4.0zM1597.0 763.0h4.0v4.0h-4.0zM1598.0 763.0h4.0v4.0h-4.0zM1595.0 763.0h4.0v4.0h-4.0zM1597.0 763.0h4.0v4.0h-4.0zM1596.0 764.0h4.0v4.0h-4.0zM1597.0 764.0h4.0v4.0h-4.0zM1595.0 764.0h4.0v4.0h-4.0zM1597.0 764.0h4.0v4.0h-4.0z" fill="#4d4d4d"/>
<path d="M1457.5 72.3h4.0v4.0h-4.0zM1357.0 242.4h4.0v4.0h-4.0zM1523.8 244.5h4.0v4.0h-4.0zM1274.7 322.4h4.0v4.0h-4.0zM1509.2 323.9h4.0v4.0h-4.0zM1501.0 338.8h4.0v4.0h-4.0zM1514.3 364.2h4.0v4.0h-4.0zM1394.6 394.6h4.0v4.0h-4.0zM1394.6 400.0h4.0v4.0h-4.0zM1471.2 399.0h4.0v4.0h-4.0zM1506.2 407.2h4.0v4.0h-4.0zM1354.7 416.5h4.0v4.0h-4.0zM1353.4 427.3h4.0v4.0h-4.0zM1418.0 433.2h4.0v4.0h-4.0zM1502.4 434.2h4.0v4.0h-4.0zM1493.2 436.8h4.0v4.0h-4.0zM1318.0 478.1h4.0v4.0h-4.0zM1376.0 478.1h4.0v4.0h-4.0zM1431.3 474.4h4.0v4.0h-4.0zM1414.8 490.3h4.0v4.0h-4.0zM1404.5 494.5h4.0v4.0h-4.0zM1430.7 509.7h4.0v4.0h-4.0zM1366.9 516.8h4.0v4.0h-4.0zM1400.6 515.4h4.0v4.0h-4.0zM1185.9 532.0h4.0v4.0h-4.0zM1418.3 532.5h4.0v4.0h-4.0zM1437.3 534.8h4.0v4.0h-4.0zM1381.2 547.7h4.0v4.0h-4.0zM1437.3 577.0h4.0v4.0h-4.0zM1418.0 585.0h4.0v4.0h-4.0zM1431.3 597.7h4.0v4.0h-4.0zM1497.2 446.2h4.0v4.0h-4.0zM1525.1 447.7h4.0v4.0h-4.0zM1525.1 452.9h4.0v4.0h-4.0zM1451.1 459.4h4.0v4.0h-4.0zM1497.3 459.6h4.0v4.0h-4.0zM1526.6 463.8h4.0v4.0h-4.0zM1512.0 475.2h4.0v4.0h-4.0zM1507.9 481.1h4.0v4.0h-4.0zM1524.6 479.8h4.0v4.0h-4.0zM1528.0 479.8h4.0v4.0h-4.0zM1467.6 481.3h4.0v4.0h-4.0zM1489.3 483.3h4.0v4.0h-4.0zM1448.8 487.4h4.0v4.0h-4.0zM1500.0 488.8h4.0v4.0h-4.0zM1523.2 487.6h4.0v4.0h-4.0zM1528.2 494.0h4.0v4.0h-4.0zM1505.6 499.0h4.0v4.0h-4.0zM1515.2 502.4h4.0v4.0h-4.0zM1524.1 500.3h4.0v4.0h-4.0zM1524.6 506.1h4.0v4.0h-4.0zM1446.7 503.7h4.0v4.0h-4.0zM1528.2 511.8h4.0v4.0h-4.0zM1493.2 513.9h4.0v4.0h-4.0zM1487.1 515.9h4.0v4.0h-4.0zM1521.7 519.3h4.0v4.0h-4.0zM1521.2 523.2h4.0v4.0h-4.0zM1531.0 523.2h4.0v4.0h-4.0zM1446.9 523.7h4.0v4.0h-4.0zM1462.3 529.2h4.0v4.0h-4.0zM1514.9 529.2h4.0v4.0h-4.0zM1526.3 529.8h4.0v4.0h-4.0zM1504.8 534.4h4.0v4.0h-4.0zM1522.0 534.4h4.0v4.0h-4.0zM1514.4 537.3h4.0v4.0h-4.0zM1518.3 540.7h4.0v4.0h-4.0zM1492.5 542.4h4.0v4.0h-4.0zM1528.0 541.7h4.0v4.0h-4.0zM1524.1 544.1h4.0v4.0h-4.0zM1469.4 544.9h4.0v4.0h-4.0zM1505.8 545.9h4.0v4.0h-4.0zM1520.2 548.5h4.0v4.0h-4.0zM1524.1 549.5h4.0v4.0h-4.0zM1530.0 549.0h4.0v4.0h-4.0zM1504.4 551.6h4.0v4.0h-4.0zM1530.0 553.4h4.0v4.0h-4.0zM1519.7 554.4h4.0v4.0h-4.0zM1516.3 558.3h4.0v4.0h-4.0zM1524.6 558.3h4.0v4.0h-4.0zM1528.0 560.2h4.0v4.0h-4.0zM1492.5 562.6h4.0v4.0h-4.0zM1509.7 562.2h4.0v4.0h-4.0zM1522.7 561.2h4.0v4.0h-4.0zM1512.9 566.5h4.0v4.0h-4.0zM1454.7 566.2h4.0v4.0h-4.0zM1527.5 565.1h4.0v4.0h-4.0zM1532.4 567.0h4.0v4.0h-4.0zM1497.1 569.2h4.0v4.0h-4.0zM1521.2 569.9h4.0v4.0h-4.0zM1492.0 572.9h4.0v4.0h-4.0zM1451.1 575.5h4.0v4.0h-4.0zM1511.0 576.8h4.0v4.0h-4.0zM1513.9 578.7h4.0v4.0h-4.0zM1520.2 573.8h4.0v4.0h-4.0zM1526.6 572.9h4.0v4.0h-4.0zM1527.5 578.7h4.0v4.0h-4.0zM1478.4 579.2h4.0v4.0h-4.0zM1493.0 580.7h4.0v4.0h-4.0zM1501.5 581.6h4.0v4.0h-4.0zM1493.5 584.6h4.0v4.0h-4.0zM1483.7 585.5h4.0v4.0h-4.0zM1487.6 587.0h4.0v4.0h-4.0zM1456.9 587.5h4.0v4.0h-4.0zM1466.2 588.4h4.0v4.0h-4.0zM1477.9 588.9h4.0v4.0h-4.0zM1481.8 589.9h4.0v4.0h-4.0zM1473.0 590.9h4.0v4.0h-4.0zM1502.7 588.9h4.0v4.0h-4.0zM1517.8 586.5h4.0v4.0h-4.0zM1524.6 583.6h4.0v4.0h-4.0zM1524.6 587.5h4.0v4.0h-4.0zM1507.6 592.8h4.0v4.0h-4.0zM1501.7 594.8h4.0v4.0h-4.0zM1522.7 592.3h4.0v4.0h-4.0zM1528.5 591.4h4.0v4.0h-4.0zM1517.8 595.3h4.0v4.0h-4.0zM1524.6 595.3h4.0v4.0h-4.0zM1529.5 595.3h4.0v4.0h-4.0zM1488.6 596.7h4.0v4.0h-4.0zM1453.5 597.2h4.0v4.0h-4.0zM1466.2 597.2h4.0v4.0h-4.0zM1471.0 597.2h4.0v4.0h-4.0zM1416.5 589.0h4.0v4.0h-4.0zM1464.2 600.2h4.0v4.0h-4.0zM1474.0 600.2h4.0v4.0h-4.0zM1489.1 603.1h4.0v4.0h-4.0zM1519.0 590.0h4.0v4.0h-4.0zM1525.0 589.0h4.0v4.0h-4.0zM1523.0 594.0h4.0v4.0h-4.0zM1514.0 596.0h4.0v4.0h-4.0zM1514.0 595.0h4.0v4.0h-4.0zM1514.0 589.0h4.0v4.0h-4.0zM1521.0 602.0h4.0v4.0h-4.0zM1515.0 592.0h4.0v4.0h-4.0zM1524.0 604.0h4.0v4.0h-4.0zM1523.0 595.0h4.0v4.0h-4.0zM1531.0 589.0h4.0v4.0h-4.0zM1528.0 593.0h4.0v4.0h-4.0zM1516.0 590.0h4.0v4.0h-4.0zM1519.0 601.0h4.0v4.0h-4.0zM1516.0 598.0h4.0v4.0h-4.0zM1525.0 594.0h4.0v4.0h-4.0zM1523.0 589.0h4.0v4.0h-4.0zM1514.0 591.0h4.0v4.0h-4.0zM1525.0 595.0h4.0v4.0h-4.0zM1519.0 598.0h4.0v4.0h-4.0zM1521.0 593.0h4.0v4.0h-4.0zM1527.0 600.0h4.0v4.0h-4.0zM1517.0 597.0h4.0v4.0h-4.0zM1522.0 602.0h4.0v4.0h-4.0zM1526.0 593.0h4.0v4.0h-4.0zM1531.0 590.0h4.0v4.0h-4.0zM1521.0 600.0h4.0v4.0h-4.0zM1516.0 596.0h4.0v4.0h-4.0zM1514.0 599.0h4.0v4.0h-4.0zM1527.0 597.0h4.0v4.0h-4.0zM1529.0 593.0h4.0v4.0h-4.0zM1526.0 598.0h4.0v4.0h-4.0zM1523.0 596.0h4.0v4.0h-4.0zM1528.0 604.0h4.0v4.0h-4.0zM1525.0 578.0h4.0v4.0h-4.0zM1520.0 579.0h4.0v4.0h-4.0zM1527.0 590.0h4.0v4.0h-4.0zM1530.0 564.0h4.0v4.0h-4.0zM1524.0 578.0h4.0v4.0h-4.0zM1519.0 571.0h4.0v4.0h-4.0zM1521.0 558.0h4.0v4.0h-4.0zM1520.0 582.0h4.0v4.0h-4.0zM1521.0 563.0h4.0v4.0h-4.0zM1524.0 585.0h4.0v4.0h-4.0zM1520.0 570.0h4.0v4.0h-4.0zM1526.0 586.0h4.0v4.0h-4.0zM1530.0 585.0h4.0v4.0h-4.0zM1523.0 569.0h4.0v4.0h-4.0zM1524.0 586.0h4.0v4.0h-4.0zM1531.0 559.0h4.0v4.0h-4.0zM1521.0 562.0h4.0v4.0h-4.0zM1522.0 571.0h4.0v4.0h-4.0zM1527.0 563.0h4.0v4.0h-4.0zM1519.0 569.0h4.0v4.0h-4.0zM1524.0 574.0h4.0v4.0h-4.0zM1531.0 579.0h4.0v4.0h-4.0z" fill="#0000ff"/>
<path d="M1712.7 125.2h4.0v4.0h-4.0zM1833.6 204.4h4.0v4.0h-4.0zM1798.1 281.0h4.0v4.0h-4.0zM1679.7 353.0h4.0v4.0h-4.0zM1743.9 379.8h4.0v4.0h-4.0zM1623.0 390.1h4.0v4.0h-4.0zM1627.0 424.5h4.0v4.0h-4.0zM1628.2 435.3h4.0v4.0h-4.0zM1735.2 491.7h4.0v4.0h-4.0zM1764.4 488.8h4.0v4.0h-4.0zM1725.5 507.1h4.0v4.0h-4.0zM1841.5 517.3h4.0v4.0h-4.0zM1816.9 552.1h4.0v4.0h-4.0zM1735.9 561.5h4.0v4.0h-4.0zM1768.4 570.0h4.0v4.0h-4.0zM1765.8 575.6h4.0v4.0h-4.0zM1847.7 573.8h4.0v4.0h-4.0zM1616.8 443.5h4.0v4.0h-4.0zM1615.8 454.0h4.0v4.0h-4.0zM1667.3 474.5h4.0v4.0h-4.0zM1606.1 485.5h4.0v4.0h-4.0zM1678.6 493.8h4.0v4.0h-4.0zM1651.5 514.4h4.0v4.0h-4.0zM1616.0 517.1h4.0v4.0h-4.0zM1703.0 519.1h4.0v4.0h-4.0zM1644.7 523.2h4.0v4.0h-4.0zM1661.0 524.2h4.0v4.0h-4.0zM1671.0 522.0h4.0v4.0h-4.0zM1604.0 528.5h4.0v4.0h-4.0zM1636.7 533.2h4.0v4.0h-4.0zM1690.7 533.7h4.0v4.0h-4.0zM1615.5 539.1h4.0v4.0h-4.0zM1618.9 538.8h4.0v4.0h-4.0zM1655.7 541.5h4.0v4.0h-4.0zM1618.9 549.0h4.0v4.0h-4.0zM1609.9 550.5h4.0v4.0h-4.0zM1599.6 553.1h4.0v4.0h-4.0zM1647.8 554.4h4.0v4.0h-4.0zM1647.8 558.3h4.0v4.0h-4.0zM1676.1 557.0h4.0v4.0h-4.0zM1703.2 555.3h4.0v4.0h-4.0zM1632.7 560.2h4.0v4.0h-4.0zM1616.0 561.0h4.0v4.0h-4.0zM1607.9 563.3h4.0v4.0h-4.0zM1628.4 563.8h4.0v4.0h-4.0zM1638.2 568.7h4.0v4.0h-4.0zM1605.8 570.9h4.0v4.0h-4.0zM1603.5 573.8h4.0v4.0h-4.0zM1628.2 572.9h4.0v4.0h-4.0zM1668.4 570.9h4.0v4.0h-4.0zM1646.7 574.5h4.0v4.0h-4.0zM1669.4 576.8h4.0v4.0h-4.0zM1636.7 577.4h4.0v4.0h-4.0zM1683.4 579.9h4.0v4.0h-4.0zM1610.1 579.2h4.0v4.0h-4.0zM1612.1 582.1h4.0v4.0h-4.0zM1622.0 583.3h4.0v4.0h-4.0zM1626.2 586.0h4.0v4.0h-4.0zM1607.7 585.7h4.0v4.0h-4.0zM1638.9 584.3h4.0v4.0h-4.0zM1653.0 589.6h4.0v4.0h-4.0zM1653.0 592.8h4.0v4.0h-4.0zM1604.5 593.3h4.0v4.0h-4.0zM1619.9 593.3h4.0v4.0h-4.0zM1662.9 594.8h4.0v4.0h-4.0zM1683.2 593.3h4.0v4.0h-4.0zM1631.1 596.2h4.0v4.0h-4.0zM1615.0 596.7h4.0v4.0h-4.0zM1617.4 596.7h4.0v4.0h-4.0zM1623.0 600.2h4.0v4.0h-4.0zM1631.3 602.6h4.0v4.0h-4.0zM1604.0 601.6h4.0v4.0h-4.0zM1607.9 603.1h4.0v4.0h-4.0zM1659.1 599.2h4.0v4.0h-4.0zM1654.7 602.6h4.0v4.0h-4.0zM1607.9 588.0h4.0v4.0h-4.0zM1606.0 600.0h4.0v4.0h-4.0zM1607.0 595.0h4.0v4.0h-4.0zM1609.0 602.0h4.0v4.0h-4.0zM1609.0 602.0h4.0v4.0h-4.0zM1605.0 598.0h4.0v4.0h-4.0zM1602.0 600.0h4.0v4.0h-4.0z" fill="#ff0000"/>
<path d="M1156.65 45.4V793.8" stroke="#808080" stroke-width="3.9" fill="none"/>
<path d="M1154.7 792H2002.0" stroke="#808080" stroke-width="3.7" fill="none"/>
<path d="M1154.9 46.6H2002.0" stroke="#000" stroke-width="2.1" fill="none"/>
<path d="M2001.0 45.6V794" stroke="#000" stroke-width="2.1" fill="none"/>
<path d="M1157.6 127.30000000000001V765.2" stroke="#000" stroke-width="2.1" fill="none"/>
<path d="M1262.9 793.1H1873.3" stroke="#000" stroke-width="2" fill="none"/>
<path d="M1140.5 764.1H1158.6" stroke="#000" stroke-width="2.2" fill="none"/>
<text transform="translate(1124.20,764.30) rotate(-90) scale(1.045,1.0)" font-family="Liberation Sans, Arial, Helvetica, sans-serif" font-size="51.2" text-anchor="middle" fill="#000" stroke="#fff" stroke-width="0.9" paint-order="fill">0</text>
<path d="M1140.5 605.4H1158.6" stroke="#000" stroke-width="2.2" fill="none"/>
<text transform="translate(1124.20,605.60) rotate(-90) scale(1.045,1.0)" font-family="Liberation Sans, Arial, Helvetica, sans-serif" font-size="51.2" text-anchor="middle" fill="#000" stroke="#fff" stroke-width="0.9" paint-order="fill">1</text>
<path d="M1140.5 446.6H1158.6" stroke="#000" stroke-width="2.2" fill="none"/>
<text transform="translate(1124.20,446.80) rotate(-90) scale(1.045,1.0)" font-family="Liberation Sans, Arial, Helvetica, sans-serif" font-size="51.2" text-anchor="middle" fill="#000" stroke="#fff" stroke-width="0.9" paint-order="fill">2</text>
<path d="M1140.5 288.4H1158.6" stroke="#000" stroke-width="2.2" fill="none"/>
<text transform="translate(1124.20,288.60) rotate(-90) scale(1.045,1.0)" font-family="Liberation Sans, Arial, Helvetica, sans-serif" font-size="51.2" text-anchor="middle" fill="#000" stroke="#fff" stroke-width="0.9" paint-order="fill">3</text>
<path d="M1140.5 128.4H1158.6" stroke="#000" stroke-width="2.2" fill="none"/>
<text transform="translate(1124.20,128.60) rotate(-90) scale(1.045,1.0)" font-family="Liberation Sans, Arial, Helvetica, sans-serif" font-size="51.2" text-anchor="middle" fill="#000" stroke="#fff" stroke-width="0.9" paint-order="fill">4</text>
<path d="M1264.0 792V808.3" stroke="#000" stroke-width="2.2" fill="none"/>
<text transform="translate(1262.00,847.00)" font-family="Liberation Sans, Arial, Helvetica, sans-serif" font-size="51.2" text-anchor="middle" fill="#000" stroke="#fff" stroke-width="0.9" paint-order="fill">-10</text>
<path d="M1415.6 792V808.3" stroke="#000" stroke-width="2.2" fill="none"/>
<text transform="translate(1413.60,847.00)" font-family="Liberation Sans, Arial, Helvetica, sans-serif" font-size="51.2" text-anchor="middle" fill="#000" stroke="#fff" stroke-width="0.9" paint-order="fill">-5</text>
<path d="M1567.9 792V808.3" stroke="#000" stroke-width="2.2" fill="none"/>
<text transform="translate(1567.60,847.00)" font-family="Liberation Sans, Arial, Helvetica, sans-serif" font-size="51.2" text-anchor="middle" fill="#000" stroke="#fff" stroke-width="0.9" paint-order="fill">0</text>
<path d="M1719.4 792V808.3" stroke="#000" stroke-width="2.2" fill="none"/>
<text transform="translate(1719.10,847.00)" font-family="Liberation Sans, Arial, Helvetica, sans-serif" font-size="51.2" text-anchor="middle" fill="#000" stroke="#fff" stroke-width="0.9" paint-order="fill">5</text>
<path d="M1872.2 792V808.3" stroke="#000" stroke-width="2.2" fill="none"/>
<text transform="translate(1871.90,847.00)" font-family="Liberation Sans, Arial, Helvetica, sans-serif" font-size="51.2" text-anchor="middle" fill="#000" stroke="#fff" stroke-width="0.9" paint-order="fill">10</text>
<text transform="translate(1578.40,906.40) scale(1.0,1.05)" font-family="Liberation Sans, Arial, Helvetica, sans-serif" font-size="50.6" text-anchor="middle" fill="#000" stroke="#fff" stroke-width="0.9" paint-order="fill">log2 fold change</text>
<text transform="translate(1065.20,418.60) rotate(-90) scale(1.0,1.075)" font-family="Liberation Sans, Arial, Helvetica, sans-serif" font-size="50.9" text-anchor="middle" fill="#000" stroke="#fff" stroke-width="0.9" paint-order="fill">- log10 (FDR)</text>
<rect x="1725.2" y="694.8" width="275.8" height="98.2" fill="#fff" stroke="#000" stroke-width="2"/>
<rect x="1749.4" y="718.6" width="19.6" height="17.4" fill="#ff0000" stroke="#000" stroke-width="1.7"/>
<rect x="1749.4" y="751.4" width="19.6" height="17.4" fill="#0000ff" stroke="#000" stroke-width="1.7"/>
<text transform="translate(1777.00,732.60)" font-family="Liberation Serif, Times New Roman, serif" font-size="31.6" font-weight="bold" fill="#000">More abundant</text>
<text transform="translate(1777.00,771.00)" font-family="Liberation Serif, Times New Roman, serif" font-size="31.6" font-weight="bold" fill="#000">Less abundant</text>
</g>
<g id="panelC">
<text transform="translate(549.00,1060.60)" font-family="Liberation Serif, Times New Roman, serif" font-size="33.8" fill="#000">C</text>
<text transform="translate(875.00,1043.00)" font-family="Liberation Serif, Times New Roman, serif" font-size="38.0" font-weight="bold" text-anchor="middle" fill="#000">LEF</text>
<text transform="translate(1236.20,1042.80)" font-family="Liberation Serif, Times New Roman, serif" font-size="38.0" font-weight="bold" text-anchor="middle" fill="#000">HEF</text>
<rect x="748.5" y="1056.5" width="324.10" height="15.4" fill="#ff0000"/>
<rect x="1072.6" y="1056.5" width="325.70" height="15.4" fill="#00ffff"/>
<defs><clipPath id="hc"><rect x="748.5" y="1078.6" width="649.80" height="645.40"/></clipPath><filter id="hb" x="-2%" y="-2%" width="104%" height="104%"><feGaussianBlur stdDeviation="0.6 0.7"/></filter></defs>
<g clip-path="url(#hc)"><g filter="url(#hb)">
<rect x="742.5" y="1072.6" width="661.8" height="657.4" fill="#002800"/>
<rect x="742.50" y="1072.60" width="71.60" height="14.08" fill="#1c0000"/>
<rect x="742.50" y="1086.38" width="71.60" height="8.08" fill="#500000"/>
<rect x="742.50" y="1094.15" width="71.60" height="15.85" fill="#000000"/>
<rect x="742.50" y="1109.70" width="71.60" height="8.08" fill="#003600"/>
<rect x="742.50" y="1117.48" width="71.60" height="8.08" fill="#005000"/>
<rect x="742.50" y="1125.26" width="71.60" height="8.08" fill="#840000"/>
<rect x="742.50" y="1133.03" width="71.60" height="8.08" fill="#003600"/>
<rect x="742.50" y="1140.81" width="71.60" height="8.08" fill="#001c00"/>
<rect x="742.50" y="1148.58" width="71.60" height="8.08" fill="#1c0000"/>
<rect x="742.50" y="1156.36" width="71.60" height="15.85" fill="#500000"/>
<rect x="742.50" y="1171.91" width="71.60" height="8.08" fill="#001c00"/>
<rect x="742.50" y="1179.69" width="71.60" height="8.08" fill="#003600"/>
<rect x="742.50" y="1187.46" width="71.60" height="8.08" fill="#360000"/>
<rect x="742.50" y="1195.24" width="71.60" height="15.85" fill="#840000"/>
<rect x="742.50" y="1210.79" width="71.60" height="8.08" fill="#a30000"/>
<rect x="742.50" y="1218.57" width="71.60" height="8.08" fill="#680000"/>
<rect x="742.50" y="1226.34" width="71.60" height="8.08" fill="#500000"/>
<rect x="742.50" y="1234.12" width="71.60" height="8.08" fill="#000000"/>
<rect x="742.50" y="1241.89" width="71.60" height="15.85" fill="#840000"/>
<rect x="742.50" y="1257.45" width="71.60" height="8.08" fill="#ff0000"/>
<rect x="742.50" y="1265.22" width="71.60" height="8.08" fill="#e20000"/>
<rect x="742.50" y="1273.00" width="71.60" height="8.08" fill="#840000"/>
<rect x="742.50" y="1280.77" width="71.60" height="8.08" fill="#1c0000"/>
<rect x="742.50" y="1288.55" width="71.60" height="15.85" fill="#360000"/>
<rect x="742.50" y="1304.10" width="71.60" height="8.08" fill="#005000"/>
<rect x="742.50" y="1311.88" width="71.60" height="23.63" fill="#001c00"/>
<rect x="742.50" y="1335.20" width="71.60" height="15.85" fill="#003600"/>
<rect x="742.50" y="1350.76" width="71.60" height="8.08" fill="#008400"/>
<rect x="742.50" y="1358.53" width="71.60" height="8.08" fill="#001c00"/>
<rect x="742.50" y="1366.31" width="71.60" height="8.08" fill="#005000"/>
<rect x="742.50" y="1374.08" width="71.60" height="8.08" fill="#003600"/>
<rect x="742.50" y="1381.86" width="71.60" height="23.63" fill="#001c00"/>
<rect x="742.50" y="1405.19" width="71.60" height="8.08" fill="#1c0000"/>
<rect x="742.50" y="1412.96" width="71.60" height="15.85" fill="#360000"/>
<rect x="742.50" y="1428.52" width="71.60" height="8.08" fill="#500000"/>
<rect x="742.50" y="1436.29" width="71.60" height="8.08" fill="#001c00"/>
<rect x="742.50" y="1444.07" width="71.60" height="8.08" fill="#003600"/>
<rect x="742.50" y="1451.84" width="71.60" height="8.08" fill="#000000"/>
<rect x="742.50" y="1459.62" width="71.60" height="8.08" fill="#008400"/>
<rect x="742.50" y="1467.40" width="71.60" height="8.08" fill="#1c0000"/>
<rect x="742.50" y="1475.17" width="71.60" height="8.08" fill="#001c00"/>
<rect x="742.50" y="1482.95" width="71.60" height="8.08" fill="#1c0000"/>
<rect x="742.50" y="1490.72" width="71.60" height="15.85" fill="#000000"/>
<rect x="742.50" y="1506.27" width="71.60" height="15.85" fill="#003600"/>
<rect x="742.50" y="1521.83" width="71.60" height="8.08" fill="#001c00"/>
<rect x="742.50" y="1529.60" width="71.60" height="8.08" fill="#003600"/>
<rect x="742.50" y="1537.38" width="71.60" height="8.08" fill="#000000"/>
<rect x="742.50" y="1545.15" width="71.60" height="8.08" fill="#003600"/>
<rect x="742.50" y="1552.93" width="71.60" height="8.08" fill="#006800"/>
<rect x="742.50" y="1560.71" width="71.60" height="8.08" fill="#840000"/>
<rect x="742.50" y="1568.48" width="71.60" height="8.08" fill="#1c0000"/>
<rect x="742.50" y="1576.26" width="71.60" height="8.08" fill="#840000"/>
<rect x="742.50" y="1584.03" width="71.60" height="8.08" fill="#1c0000"/>
<rect x="742.50" y="1591.81" width="71.60" height="8.08" fill="#360000"/>
<rect x="742.50" y="1599.59" width="71.60" height="8.08" fill="#005000"/>
<rect x="742.50" y="1607.36" width="71.60" height="8.08" fill="#006800"/>
<rect x="742.50" y="1615.14" width="71.60" height="8.08" fill="#001c00"/>
<rect x="742.50" y="1622.91" width="71.60" height="8.08" fill="#003600"/>
<rect x="742.50" y="1630.69" width="71.60" height="15.85" fill="#005000"/>
<rect x="742.50" y="1646.24" width="71.60" height="15.85" fill="#003600"/>
<rect x="742.50" y="1661.79" width="71.60" height="8.08" fill="#006800"/>
<rect x="742.50" y="1669.57" width="71.60" height="8.08" fill="#005000"/>
<rect x="742.50" y="1677.34" width="71.60" height="15.85" fill="#003600"/>
<rect x="742.50" y="1692.90" width="71.60" height="8.08" fill="#004600"/>
<rect x="742.50" y="1700.67" width="71.60" height="29.63" fill="#005c00"/>
<rect x="813.80" y="1072.60" width="64.10" height="14.08" fill="#500000"/>
<rect x="813.80" y="1086.38" width="64.10" height="15.85" fill="#840000"/>
<rect x="813.80" y="1101.93" width="64.10" height="15.85" fill="#500000"/>
<rect x="813.80" y="1117.48" width="64.10" height="15.85" fill="#1c0000"/>
<rect x="813.80" y="1133.03" width="64.10" height="23.63" fill="#840000"/>
<rect x="813.80" y="1156.36" width="64.10" height="8.08" fill="#a30000"/>
<rect x="813.80" y="1164.13" width="64.10" height="23.63" fill="#c40000"/>
<rect x="813.80" y="1187.46" width="64.10" height="8.08" fill="#a30000"/>
<rect x="813.80" y="1195.24" width="64.10" height="15.85" fill="#003600"/>
<rect x="813.80" y="1210.79" width="64.10" height="8.08" fill="#1c0000"/>
<rect x="813.80" y="1218.57" width="64.10" height="15.85" fill="#680000"/>
<rect x="813.80" y="1234.12" width="64.10" height="8.08" fill="#360000"/>
<rect x="813.80" y="1241.89" width="64.10" height="8.08" fill="#680000"/>
<rect x="813.80" y="1249.67" width="64.10" height="8.08" fill="#360000"/>
<rect x="813.80" y="1257.45" width="64.10" height="8.08" fill="#680000"/>
<rect x="813.80" y="1265.22" width="64.10" height="8.08" fill="#003600"/>
<rect x="813.80" y="1273.00" width="64.10" height="23.63" fill="#000000"/>
<rect x="813.80" y="1296.33" width="64.10" height="15.85" fill="#360000"/>
<rect x="813.80" y="1311.88" width="64.10" height="8.08" fill="#1c0000"/>
<rect x="813.80" y="1319.65" width="64.10" height="15.85" fill="#000000"/>
<rect x="813.80" y="1335.20" width="64.10" height="8.08" fill="#003600"/>
<rect x="813.80" y="1342.98" width="64.10" height="8.08" fill="#001c00"/>
<rect x="813.80" y="1350.76" width="64.10" height="23.63" fill="#005000"/>
<rect x="813.80" y="1374.08" width="64.10" height="8.08" fill="#003600"/>
<rect x="813.80" y="1381.86" width="64.10" height="23.63" fill="#001c00"/>
<rect x="813.80" y="1405.19" width="64.10" height="15.85" fill="#005000"/>
<rect x="813.80" y="1420.74" width="64.10" height="8.08" fill="#001c00"/>
<rect x="813.80" y="1428.52" width="64.10" height="8.08" fill="#006800"/>
<rect x="813.80" y="1436.29" width="64.10" height="8.08" fill="#000000"/>
<rect x="813.80" y="1444.07" width="64.10" height="23.63" fill="#003600"/>
<rect x="813.80" y="1467.40" width="64.10" height="8.08" fill="#001c00"/>
<rect x="813.80" y="1475.17" width="64.10" height="8.08" fill="#000000"/>
<rect x="813.80" y="1482.95" width="64.10" height="8.08" fill="#006800"/>
<rect x="813.80" y="1490.72" width="64.10" height="23.63" fill="#003600"/>
<rect x="813.80" y="1514.05" width="64.10" height="23.63" fill="#001c00"/>
<rect x="813.80" y="1537.38" width="64.10" height="8.08" fill="#1c0000"/>
<rect x="813.80" y="1545.15" width="64.10" height="8.08" fill="#003600"/>
<rect x="813.80" y="1552.93" width="64.10" height="8.08" fill="#000000"/>
<rect x="813.80" y="1560.71" width="64.10" height="15.85" fill="#005000"/>
<rect x="813.80" y="1576.26" width="64.10" height="15.85" fill="#006800"/>
<rect x="813.80" y="1591.81" width="64.10" height="15.85" fill="#003600"/>
<rect x="813.80" y="1607.36" width="64.10" height="8.08" fill="#500000"/>
<rect x="813.80" y="1615.14" width="64.10" height="15.85" fill="#003600"/>
<rect x="813.80" y="1630.69" width="64.10" height="8.08" fill="#001c00"/>
<rect x="813.80" y="1638.47" width="64.10" height="23.63" fill="#003600"/>
<rect x="813.80" y="1661.79" width="64.10" height="8.08" fill="#006800"/>
<rect x="813.80" y="1669.57" width="64.10" height="8.08" fill="#001c00"/>
<rect x="813.80" y="1677.34" width="64.10" height="8.08" fill="#005000"/>
<rect x="813.80" y="1685.12" width="64.10" height="8.08" fill="#003600"/>
<rect x="813.80" y="1692.90" width="64.10" height="15.85" fill="#005000"/>
<rect x="813.80" y="1708.45" width="64.10" height="8.08" fill="#000000"/>
<rect x="813.80" y="1716.22" width="64.10" height="14.08" fill="#001c00"/>
<rect x="877.60" y="1072.60" width="65.40" height="21.85" fill="#a30000"/>
<rect x="877.60" y="1094.15" width="65.40" height="8.08" fill="#680000"/>
<rect x="877.60" y="1101.93" width="65.40" height="15.85" fill="#c40000"/>
<rect x="877.60" y="1117.48" width="65.40" height="8.08" fill="#ff0000"/>
<rect x="877.60" y="1125.26" width="65.40" height="8.08" fill="#840000"/>
<rect x="877.60" y="1133.03" width="65.40" height="8.08" fill="#680000"/>
<rect x="877.60" y="1140.81" width="65.40" height="8.08" fill="#500000"/>
<rect x="877.60" y="1148.58" width="65.40" height="8.08" fill="#1c0000"/>
<rect x="877.60" y="1156.36" width="65.40" height="15.85" fill="#500000"/>
<rect x="877.60" y="1171.91" width="65.40" height="8.08" fill="#680000"/>
<rect x="877.60" y="1179.69" width="65.40" height="15.85" fill="#1c0000"/>
<rect x="877.60" y="1195.24" width="65.40" height="15.85" fill="#003600"/>
<rect x="877.60" y="1210.79" width="65.40" height="8.08" fill="#680000"/>
<rect x="877.60" y="1218.57" width="65.40" height="8.08" fill="#1c0000"/>
<rect x="877.60" y="1226.34" width="65.40" height="8.08" fill="#000000"/>
<rect x="877.60" y="1234.12" width="65.40" height="8.08" fill="#001c00"/>
<rect x="877.60" y="1241.89" width="65.40" height="8.08" fill="#360000"/>
<rect x="877.60" y="1249.67" width="65.40" height="8.08" fill="#001c00"/>
<rect x="877.60" y="1257.45" width="65.40" height="8.08" fill="#003600"/>
<rect x="877.60" y="1265.22" width="65.40" height="8.08" fill="#500000"/>
<rect x="877.60" y="1273.00" width="65.40" height="8.08" fill="#680000"/>
<rect x="877.60" y="1280.77" width="65.40" height="8.08" fill="#1c0000"/>
<rect x="877.60" y="1288.55" width="65.40" height="15.85" fill="#360000"/>
<rect x="877.60" y="1304.10" width="65.40" height="15.85" fill="#1c0000"/>
<rect x="877.60" y="1319.65" width="65.40" height="8.08" fill="#000000"/>
<rect x="877.60" y="1327.43" width="65.40" height="8.08" fill="#001c00"/>
<rect x="877.60" y="1335.20" width="65.40" height="8.08" fill="#005000"/>
<rect x="877.60" y="1342.98" width="65.40" height="8.08" fill="#003600"/>
<rect x="877.60" y="1350.76" width="65.40" height="15.85" fill="#000000"/>
<rect x="877.60" y="1366.31" width="65.40" height="23.63" fill="#003600"/>
<rect x="877.60" y="1389.64" width="65.40" height="15.85" fill="#001c00"/>
<rect x="877.60" y="1405.19" width="65.40" height="8.08" fill="#360000"/>
<rect x="877.60" y="1412.96" width="65.40" height="8.08" fill="#001c00"/>
<rect x="877.60" y="1420.74" width="65.40" height="8.08" fill="#003600"/>
<rect x="877.60" y="1428.52" width="65.40" height="8.08" fill="#006800"/>
<rect x="877.60" y="1436.29" width="65.40" height="8.08" fill="#003600"/>
<rect x="877.60" y="1444.07" width="65.40" height="8.08" fill="#005000"/>
<rect x="877.60" y="1451.84" width="65.40" height="8.08" fill="#001c00"/>
<rect x="877.60" y="1459.62" width="65.40" height="8.08" fill="#1c0000"/>
<rect x="877.60" y="1467.40" width="65.40" height="8.08" fill="#003600"/>
<rect x="877.60" y="1475.17" width="65.40" height="8.08" fill="#006800"/>
<rect x="877.60" y="1482.95" width="65.40" height="8.08" fill="#001c00"/>
<rect x="877.60" y="1490.72" width="65.40" height="8.08" fill="#003600"/>
<rect x="877.60" y="1498.50" width="65.40" height="8.08" fill="#001c00"/>
<rect x="877.60" y="1506.27" width="65.40" height="8.08" fill="#003600"/>
<rect x="877.60" y="1514.05" width="65.40" height="31.40" fill="#001c00"/>
<rect x="877.60" y="1545.15" width="65.40" height="8.08" fill="#003600"/>
<rect x="877.60" y="1552.93" width="65.40" height="8.08" fill="#008400"/>
<rect x="877.60" y="1560.71" width="65.40" height="8.08" fill="#000000"/>
<rect x="877.60" y="1568.48" width="65.40" height="8.08" fill="#1c0000"/>
<rect x="877.60" y="1576.26" width="65.40" height="8.08" fill="#680000"/>
<rect x="877.60" y="1584.03" width="65.40" height="8.08" fill="#360000"/>
<rect x="877.60" y="1591.81" width="65.40" height="8.08" fill="#001c00"/>
<rect x="877.60" y="1599.59" width="65.40" height="8.08" fill="#006800"/>
<rect x="877.60" y="1607.36" width="65.40" height="46.96" fill="#003600"/>
<rect x="877.60" y="1654.02" width="65.40" height="8.08" fill="#005000"/>
<rect x="877.60" y="1661.79" width="65.40" height="8.08" fill="#006800"/>
<rect x="877.60" y="1669.57" width="65.40" height="15.85" fill="#005000"/>
<rect x="877.60" y="1685.12" width="65.40" height="8.08" fill="#003600"/>
<rect x="877.60" y="1692.90" width="65.40" height="15.85" fill="#005000"/>
<rect x="877.60" y="1708.45" width="65.40" height="8.08" fill="#003600"/>
<rect x="877.60" y="1716.22" width="65.40" height="14.08" fill="#005000"/>
<rect x="942.70" y="1072.60" width="65.40" height="21.85" fill="#500000"/>
<rect x="942.70" y="1094.15" width="65.40" height="23.63" fill="#840000"/>
<rect x="942.70" y="1117.48" width="65.40" height="8.08" fill="#500000"/>
<rect x="942.70" y="1125.26" width="65.40" height="8.08" fill="#840000"/>
<rect x="942.70" y="1133.03" width="65.40" height="8.08" fill="#680000"/>
<rect x="942.70" y="1140.81" width="65.40" height="8.08" fill="#a30000"/>
<rect x="942.70" y="1148.58" width="65.40" height="8.08" fill="#840000"/>
<rect x="942.70" y="1156.36" width="65.40" height="8.08" fill="#680000"/>
<rect x="942.70" y="1164.13" width="65.40" height="15.85" fill="#500000"/>
<rect x="942.70" y="1179.69" width="65.40" height="8.08" fill="#840000"/>
<rect x="942.70" y="1187.46" width="65.40" height="8.08" fill="#a30000"/>
<rect x="942.70" y="1195.24" width="65.40" height="8.08" fill="#500000"/>
<rect x="942.70" y="1203.01" width="65.40" height="8.08" fill="#840000"/>
<rect x="942.70" y="1210.79" width="65.40" height="8.08" fill="#500000"/>
<rect x="942.70" y="1218.57" width="65.40" height="8.08" fill="#000000"/>
<rect x="942.70" y="1226.34" width="65.40" height="8.08" fill="#360000"/>
<rect x="942.70" y="1234.12" width="65.40" height="8.08" fill="#500000"/>
<rect x="942.70" y="1241.89" width="65.40" height="23.63" fill="#840000"/>
<rect x="942.70" y="1265.22" width="65.40" height="8.08" fill="#a30000"/>
<rect x="942.70" y="1273.00" width="65.40" height="15.85" fill="#001c00"/>
<rect x="942.70" y="1288.55" width="65.40" height="15.85" fill="#003600"/>
<rect x="942.70" y="1304.10" width="65.40" height="23.63" fill="#1c0000"/>
<rect x="942.70" y="1327.43" width="65.40" height="8.08" fill="#000000"/>
<rect x="942.70" y="1335.20" width="65.40" height="15.85" fill="#005000"/>
<rect x="942.70" y="1350.76" width="65.40" height="8.08" fill="#001c00"/>
<rect x="942.70" y="1358.53" width="65.40" height="8.08" fill="#003600"/>
<rect x="942.70" y="1366.31" width="65.40" height="8.08" fill="#1c0000"/>
<rect x="942.70" y="1374.08" width="65.40" height="8.08" fill="#001c00"/>
<rect x="942.70" y="1381.86" width="65.40" height="15.85" fill="#003600"/>
<rect x="942.70" y="1397.41" width="65.40" height="8.08" fill="#001c00"/>
<rect x="942.70" y="1405.19" width="65.40" height="8.08" fill="#003600"/>
<rect x="942.70" y="1412.96" width="65.40" height="8.08" fill="#001c00"/>
<rect x="942.70" y="1420.74" width="65.40" height="8.08" fill="#000000"/>
<rect x="942.70" y="1428.52" width="65.40" height="8.08" fill="#008400"/>
<rect x="942.70" y="1436.29" width="65.40" height="8.08" fill="#003600"/>
<rect x="942.70" y="1444.07" width="65.40" height="8.08" fill="#005000"/>
<rect x="942.70" y="1451.84" width="65.40" height="15.85" fill="#008400"/>
<rect x="942.70" y="1467.40" width="65.40" height="8.08" fill="#003600"/>
<rect x="942.70" y="1475.17" width="65.40" height="8.08" fill="#000000"/>
<rect x="942.70" y="1482.95" width="65.40" height="15.85" fill="#003600"/>
<rect x="942.70" y="1498.50" width="65.40" height="8.08" fill="#005000"/>
<rect x="942.70" y="1506.27" width="65.40" height="8.08" fill="#003600"/>
<rect x="942.70" y="1514.05" width="65.40" height="8.08" fill="#000000"/>
<rect x="942.70" y="1521.83" width="65.40" height="15.85" fill="#001c00"/>
<rect x="942.70" y="1537.38" width="65.40" height="8.08" fill="#005000"/>
<rect x="942.70" y="1545.15" width="65.40" height="15.85" fill="#003600"/>
<rect x="942.70" y="1560.71" width="65.40" height="15.85" fill="#005000"/>
<rect x="942.70" y="1576.26" width="65.40" height="8.08" fill="#008400"/>
<rect x="942.70" y="1584.03" width="65.40" height="8.08" fill="#006800"/>
<rect x="942.70" y="1591.81" width="65.40" height="8.08" fill="#003600"/>
<rect x="942.70" y="1599.59" width="65.40" height="8.08" fill="#006800"/>
<rect x="942.70" y="1607.36" width="65.40" height="8.08" fill="#001c00"/>
<rect x="942.70" y="1615.14" width="65.40" height="15.85" fill="#003600"/>
<rect x="942.70" y="1630.69" width="65.40" height="8.08" fill="#001c00"/>
<rect x="942.70" y="1638.47" width="65.40" height="8.08" fill="#000000"/>
<rect x="942.70" y="1646.24" width="65.40" height="8.08" fill="#005000"/>
<rect x="942.70" y="1654.02" width="65.40" height="8.08" fill="#003600"/>
<rect x="942.70" y="1661.79" width="65.40" height="8.08" fill="#000000"/>
<rect x="942.70" y="1669.57" width="65.40" height="15.85" fill="#005000"/>
<rect x="942.70" y="1685.12" width="65.40" height="23.63" fill="#003600"/>
<rect x="942.70" y="1708.45" width="65.40" height="8.08" fill="#006800"/>
<rect x="942.70" y="1716.22" width="65.40" height="14.08" fill="#005000"/>
<rect x="1007.80" y="1072.60" width="65.10" height="14.08" fill="#840000"/>
<rect x="1007.80" y="1086.38" width="65.10" height="8.08" fill="#500000"/>
<rect x="1007.80" y="1094.15" width="65.10" height="8.08" fill="#680000"/>
<rect x="1007.80" y="1101.93" width="65.10" height="8.08" fill="#000000"/>
<rect x="1007.80" y="1109.70" width="65.10" height="8.08" fill="#360000"/>
<rect x="1007.80" y="1117.48" width="65.10" height="8.08" fill="#840000"/>
<rect x="1007.80" y="1125.26" width="65.10" height="8.08" fill="#500000"/>
<rect x="1007.80" y="1133.03" width="65.10" height="8.08" fill="#360000"/>
<rect x="1007.80" y="1140.81" width="65.10" height="8.08" fill="#500000"/>
<rect x="1007.80" y="1148.58" width="65.10" height="8.08" fill="#680000"/>
<rect x="1007.80" y="1156.36" width="65.10" height="8.08" fill="#1c0000"/>
<rect x="1007.80" y="1164.13" width="65.10" height="8.08" fill="#500000"/>
<rect x="1007.80" y="1171.91" width="65.10" height="8.08" fill="#000000"/>
<rect x="1007.80" y="1179.69" width="65.10" height="8.08" fill="#360000"/>
<rect x="1007.80" y="1187.46" width="65.10" height="8.08" fill="#003600"/>
<rect x="1007.80" y="1195.24" width="65.10" height="8.08" fill="#ff0000"/>
<rect x="1007.80" y="1203.01" width="65.10" height="15.85" fill="#c40000"/>
<rect x="1007.80" y="1218.57" width="65.10" height="8.08" fill="#840000"/>
<rect x="1007.80" y="1226.34" width="65.10" height="8.08" fill="#c40000"/>
<rect x="1007.80" y="1234.12" width="65.10" height="8.08" fill="#ff0000"/>
<rect x="1007.80" y="1241.89" width="65.10" height="8.08" fill="#1c0000"/>
<rect x="1007.80" y="1249.67" width="65.10" height="8.08" fill="#840000"/>
<rect x="1007.80" y="1257.45" width="65.10" height="8.08" fill="#003600"/>
<rect x="1007.80" y="1265.22" width="65.10" height="8.08" fill="#000000"/>
<rect x="1007.80" y="1273.00" width="65.10" height="15.85" fill="#360000"/>
<rect x="1007.80" y="1288.55" width="65.10" height="8.08" fill="#001c00"/>
<rect x="1007.80" y="1296.33" width="65.10" height="8.08" fill="#000000"/>
<rect x="1007.80" y="1304.10" width="65.10" height="8.08" fill="#1c0000"/>
<rect x="1007.80" y="1311.88" width="65.10" height="8.08" fill="#000000"/>
<rect x="1007.80" y="1319.65" width="65.10" height="8.08" fill="#1c0000"/>
<rect x="1007.80" y="1327.43" width="65.10" height="15.85" fill="#000000"/>
<rect x="1007.80" y="1342.98" width="65.10" height="8.08" fill="#003600"/>
<rect x="1007.80" y="1350.76" width="65.10" height="15.85" fill="#005000"/>
<rect x="1007.80" y="1366.31" width="65.10" height="8.08" fill="#003600"/>
<rect x="1007.80" y="1374.08" width="65.10" height="46.96" fill="#001c00"/>
<rect x="1007.80" y="1420.74" width="65.10" height="8.08" fill="#000000"/>
<rect x="1007.80" y="1428.52" width="65.10" height="8.08" fill="#001c00"/>
<rect x="1007.80" y="1436.29" width="65.10" height="15.85" fill="#003600"/>
<rect x="1007.80" y="1451.84" width="65.10" height="15.85" fill="#006800"/>
<rect x="1007.80" y="1467.40" width="65.10" height="8.08" fill="#003600"/>
<rect x="1007.80" y="1475.17" width="65.10" height="8.08" fill="#001c00"/>
<rect x="1007.80" y="1482.95" width="65.10" height="8.08" fill="#000000"/>
<rect x="1007.80" y="1490.72" width="65.10" height="8.08" fill="#1c0000"/>
<rect x="1007.80" y="1498.50" width="65.10" height="8.08" fill="#001c00"/>
<rect x="1007.80" y="1506.27" width="65.10" height="8.08" fill="#003600"/>
<rect x="1007.80" y="1514.05" width="65.10" height="23.63" fill="#001c00"/>
<rect x="1007.80" y="1537.38" width="65.10" height="8.08" fill="#005000"/>
<rect x="1007.80" y="1545.15" width="65.10" height="15.85" fill="#000000"/>
<rect x="1007.80" y="1560.71" width="65.10" height="8.08" fill="#006800"/>
<rect x="1007.80" y="1568.48" width="65.10" height="8.08" fill="#005000"/>
<rect x="1007.80" y="1576.26" width="65.10" height="15.85" fill="#008400"/>
<rect x="1007.80" y="1591.81" width="65.10" height="8.08" fill="#001c00"/>
<rect x="1007.80" y="1599.59" width="65.10" height="8.08" fill="#000000"/>
<rect x="1007.80" y="1607.36" width="65.10" height="8.08" fill="#003600"/>
<rect x="1007.80" y="1615.14" width="65.10" height="15.85" fill="#001c00"/>
<rect x="1007.80" y="1630.69" width="65.10" height="8.08" fill="#003600"/>
<rect x="1007.80" y="1638.47" width="65.10" height="8.08" fill="#005000"/>
<rect x="1007.80" y="1646.24" width="65.10" height="8.08" fill="#001c00"/>
<rect x="1007.80" y="1654.02" width="65.10" height="23.63" fill="#003600"/>
<rect x="1007.80" y="1677.34" width="65.10" height="8.08" fill="#000000"/>
<rect x="1007.80" y="1685.12" width="65.10" height="15.85" fill="#003600"/>
<rect x="1007.80" y="1700.67" width="65.10" height="8.08" fill="#005000"/>
<rect x="1007.80" y="1708.45" width="65.10" height="8.08" fill="#006800"/>
<rect x="1007.80" y="1716.22" width="65.10" height="14.08" fill="#003600"/>
<rect x="1072.60" y="1072.60" width="65.40" height="14.08" fill="#006800"/>
<rect x="1072.60" y="1086.38" width="65.40" height="8.08" fill="#005000"/>
<rect x="1072.60" y="1094.15" width="65.40" height="15.85" fill="#006800"/>
<rect x="1072.60" y="1109.70" width="65.40" height="15.85" fill="#001c00"/>
<rect x="1072.60" y="1125.26" width="65.40" height="8.08" fill="#003600"/>
<rect x="1072.60" y="1133.03" width="65.40" height="8.08" fill="#1c0000"/>
<rect x="1072.60" y="1140.81" width="65.40" height="8.08" fill="#001c00"/>
<rect x="1072.60" y="1148.58" width="65.40" height="8.08" fill="#1c0000"/>
<rect x="1072.60" y="1156.36" width="65.40" height="8.08" fill="#000000"/>
<rect x="1072.60" y="1164.13" width="65.40" height="15.85" fill="#003600"/>
<rect x="1072.60" y="1179.69" width="65.40" height="39.18" fill="#005000"/>
<rect x="1072.60" y="1218.57" width="65.40" height="8.08" fill="#006800"/>
<rect x="1072.60" y="1226.34" width="65.40" height="8.08" fill="#008400"/>
<rect x="1072.60" y="1234.12" width="65.40" height="8.08" fill="#003600"/>
<rect x="1072.60" y="1241.89" width="65.40" height="8.08" fill="#000000"/>
<rect x="1072.60" y="1249.67" width="65.40" height="8.08" fill="#1c0000"/>
<rect x="1072.60" y="1257.45" width="65.40" height="15.85" fill="#003600"/>
<rect x="1072.60" y="1273.00" width="65.40" height="8.08" fill="#005000"/>
<rect x="1072.60" y="1280.77" width="65.40" height="15.85" fill="#003600"/>
<rect x="1072.60" y="1296.33" width="65.40" height="8.08" fill="#006800"/>
<rect x="1072.60" y="1304.10" width="65.40" height="8.08" fill="#005000"/>
<rect x="1072.60" y="1311.88" width="65.40" height="8.08" fill="#006800"/>
<rect x="1072.60" y="1319.65" width="65.40" height="15.85" fill="#003600"/>
<rect x="1072.60" y="1335.20" width="65.40" height="8.08" fill="#1c0000"/>
<rect x="1072.60" y="1342.98" width="65.40" height="8.08" fill="#003600"/>
<rect x="1072.60" y="1350.76" width="65.40" height="15.85" fill="#360000"/>
<rect x="1072.60" y="1366.31" width="65.40" height="8.08" fill="#001c00"/>
<rect x="1072.60" y="1374.08" width="65.40" height="8.08" fill="#500000"/>
<rect x="1072.60" y="1381.86" width="65.40" height="23.63" fill="#001c00"/>
<rect x="1072.60" y="1405.19" width="65.40" height="8.08" fill="#c40000"/>
<rect x="1072.60" y="1412.96" width="65.40" height="8.08" fill="#840000"/>
<rect x="1072.60" y="1420.74" width="65.40" height="8.08" fill="#e20000"/>
<rect x="1072.60" y="1428.52" width="65.40" height="8.08" fill="#840000"/>
<rect x="1072.60" y="1436.29" width="65.40" height="8.08" fill="#680000"/>
<rect x="1072.60" y="1444.07" width="65.40" height="8.08" fill="#840000"/>
<rect x="1072.60" y="1451.84" width="65.40" height="8.08" fill="#c40000"/>
<rect x="1072.60" y="1459.62" width="65.40" height="8.08" fill="#840000"/>
<rect x="1072.60" y="1467.40" width="65.40" height="8.08" fill="#360000"/>
<rect x="1072.60" y="1475.17" width="65.40" height="8.08" fill="#500000"/>
<rect x="1072.60" y="1482.95" width="65.40" height="15.85" fill="#360000"/>
<rect x="1072.60" y="1498.50" width="65.40" height="8.08" fill="#680000"/>
<rect x="1072.60" y="1506.27" width="65.40" height="8.08" fill="#500000"/>
<rect x="1072.60" y="1514.05" width="65.40" height="8.08" fill="#360000"/>
<rect x="1072.60" y="1521.83" width="65.40" height="8.08" fill="#000000"/>
<rect x="1072.60" y="1529.60" width="65.40" height="8.08" fill="#1c0000"/>
<rect x="1072.60" y="1537.38" width="65.40" height="8.08" fill="#a30000"/>
<rect x="1072.60" y="1545.15" width="65.40" height="15.85" fill="#840000"/>
<rect x="1072.60" y="1560.71" width="65.40" height="8.08" fill="#001c00"/>
<rect x="1072.60" y="1568.48" width="65.40" height="8.08" fill="#1c0000"/>
<rect x="1072.60" y="1576.26" width="65.40" height="8.08" fill="#a30000"/>
<rect x="1072.60" y="1584.03" width="65.40" height="8.08" fill="#000000"/>
<rect x="1072.60" y="1591.81" width="65.40" height="8.08" fill="#1c0000"/>
<rect x="1072.60" y="1599.59" width="65.40" height="8.08" fill="#500000"/>
<rect x="1072.60" y="1607.36" width="65.40" height="15.85" fill="#001c00"/>
<rect x="1072.60" y="1622.91" width="65.40" height="23.63" fill="#003600"/>
<rect x="1072.60" y="1646.24" width="65.40" height="8.08" fill="#001c00"/>
<rect x="1072.60" y="1654.02" width="65.40" height="8.08" fill="#003600"/>
<rect x="1072.60" y="1661.79" width="65.40" height="8.08" fill="#500000"/>
<rect x="1072.60" y="1669.57" width="65.40" height="8.08" fill="#003600"/>
<rect x="1072.60" y="1677.34" width="65.40" height="8.08" fill="#005000"/>
<rect x="1072.60" y="1685.12" width="65.40" height="8.08" fill="#003600"/>
<rect x="1072.60" y="1692.90" width="65.40" height="15.85" fill="#001c00"/>
<rect x="1072.60" y="1708.45" width="65.40" height="21.85" fill="#003600"/>
<rect x="1137.70" y="1072.60" width="65.50" height="14.08" fill="#003600"/>
<rect x="1137.70" y="1086.38" width="65.50" height="8.08" fill="#006800"/>
<rect x="1137.70" y="1094.15" width="65.50" height="15.85" fill="#000000"/>
<rect x="1137.70" y="1109.70" width="65.50" height="8.08" fill="#003600"/>
<rect x="1137.70" y="1117.48" width="65.50" height="8.08" fill="#006800"/>
<rect x="1137.70" y="1125.26" width="65.50" height="8.08" fill="#360000"/>
<rect x="1137.70" y="1133.03" width="65.50" height="23.63" fill="#003600"/>
<rect x="1137.70" y="1156.36" width="65.50" height="8.08" fill="#006800"/>
<rect x="1137.70" y="1164.13" width="65.50" height="8.08" fill="#005000"/>
<rect x="1137.70" y="1171.91" width="65.50" height="8.08" fill="#006800"/>
<rect x="1137.70" y="1179.69" width="65.50" height="8.08" fill="#005000"/>
<rect x="1137.70" y="1187.46" width="65.50" height="8.08" fill="#003600"/>
<rect x="1137.70" y="1195.24" width="65.50" height="8.08" fill="#000000"/>
<rect x="1137.70" y="1203.01" width="65.50" height="15.85" fill="#005000"/>
<rect x="1137.70" y="1218.57" width="65.50" height="15.85" fill="#008400"/>
<rect x="1137.70" y="1234.12" width="65.50" height="8.08" fill="#005000"/>
<rect x="1137.70" y="1241.89" width="65.50" height="8.08" fill="#008400"/>
<rect x="1137.70" y="1249.67" width="65.50" height="8.08" fill="#006800"/>
<rect x="1137.70" y="1257.45" width="65.50" height="8.08" fill="#003600"/>
<rect x="1137.70" y="1265.22" width="65.50" height="8.08" fill="#005000"/>
<rect x="1137.70" y="1273.00" width="65.50" height="8.08" fill="#006800"/>
<rect x="1137.70" y="1280.77" width="65.50" height="8.08" fill="#005000"/>
<rect x="1137.70" y="1288.55" width="65.50" height="8.08" fill="#003600"/>
<rect x="1137.70" y="1296.33" width="65.50" height="8.08" fill="#005000"/>
<rect x="1137.70" y="1304.10" width="65.50" height="15.85" fill="#001c00"/>
<rect x="1137.70" y="1319.65" width="65.50" height="15.85" fill="#003600"/>
<rect x="1137.70" y="1335.20" width="65.50" height="8.08" fill="#360000"/>
<rect x="1137.70" y="1342.98" width="65.50" height="8.08" fill="#1c0000"/>
<rect x="1137.70" y="1350.76" width="65.50" height="8.08" fill="#360000"/>
<rect x="1137.70" y="1358.53" width="65.50" height="8.08" fill="#001c00"/>
<rect x="1137.70" y="1366.31" width="65.50" height="31.40" fill="#000000"/>
<rect x="1137.70" y="1397.41" width="65.50" height="8.08" fill="#001c00"/>
<rect x="1137.70" y="1405.19" width="65.50" height="8.08" fill="#1c0000"/>
<rect x="1137.70" y="1412.96" width="65.50" height="8.08" fill="#360000"/>
<rect x="1137.70" y="1420.74" width="65.50" height="8.08" fill="#1c0000"/>
<rect x="1137.70" y="1428.52" width="65.50" height="8.08" fill="#500000"/>
<rect x="1137.70" y="1436.29" width="65.50" height="8.08" fill="#ff0000"/>
<rect x="1137.70" y="1444.07" width="65.50" height="8.08" fill="#005000"/>
<rect x="1137.70" y="1451.84" width="65.50" height="39.18" fill="#1c0000"/>
<rect x="1137.70" y="1490.72" width="65.50" height="15.85" fill="#001c00"/>
<rect x="1137.70" y="1506.27" width="65.50" height="8.08" fill="#003600"/>
<rect x="1137.70" y="1514.05" width="65.50" height="8.08" fill="#000000"/>
<rect x="1137.70" y="1521.83" width="65.50" height="23.63" fill="#001c00"/>
<rect x="1137.70" y="1545.15" width="65.50" height="8.08" fill="#003600"/>
<rect x="1137.70" y="1552.93" width="65.50" height="8.08" fill="#001c00"/>
<rect x="1137.70" y="1560.71" width="65.50" height="8.08" fill="#680000"/>
<rect x="1137.70" y="1568.48" width="65.50" height="8.08" fill="#1c0000"/>
<rect x="1137.70" y="1576.26" width="65.50" height="8.08" fill="#500000"/>
<rect x="1137.70" y="1584.03" width="65.50" height="8.08" fill="#680000"/>
<rect x="1137.70" y="1591.81" width="65.50" height="8.08" fill="#000000"/>
<rect x="1137.70" y="1599.59" width="65.50" height="8.08" fill="#001c00"/>
<rect x="1137.70" y="1607.36" width="65.50" height="8.08" fill="#360000"/>
<rect x="1137.70" y="1615.14" width="65.50" height="8.08" fill="#000000"/>
<rect x="1137.70" y="1622.91" width="65.50" height="8.08" fill="#500000"/>
<rect x="1137.70" y="1630.69" width="65.50" height="8.08" fill="#360000"/>
<rect x="1137.70" y="1638.47" width="65.50" height="8.08" fill="#500000"/>
<rect x="1137.70" y="1646.24" width="65.50" height="8.08" fill="#1c0000"/>
<rect x="1137.70" y="1654.02" width="65.50" height="8.08" fill="#360000"/>
<rect x="1137.70" y="1661.79" width="65.50" height="8.08" fill="#680000"/>
<rect x="1137.70" y="1669.57" width="65.50" height="8.08" fill="#840000"/>
<rect x="1137.70" y="1677.34" width="65.50" height="8.08" fill="#500000"/>
<rect x="1137.70" y="1685.12" width="65.50" height="8.08" fill="#840000"/>
<rect x="1137.70" y="1692.90" width="65.50" height="8.08" fill="#e20000"/>
<rect x="1137.70" y="1700.67" width="65.50" height="15.85" fill="#a30000"/>
<rect x="1137.70" y="1716.22" width="65.50" height="14.08" fill="#680000"/>
<rect x="1202.90" y="1072.60" width="65.60" height="14.08" fill="#000000"/>
<rect x="1202.90" y="1086.38" width="65.60" height="15.85" fill="#003600"/>
<rect x="1202.90" y="1101.93" width="65.60" height="8.08" fill="#000000"/>
<rect x="1202.90" y="1109.70" width="65.60" height="15.85" fill="#005000"/>
<rect x="1202.90" y="1125.26" width="65.60" height="8.08" fill="#001c00"/>
<rect x="1202.90" y="1133.03" width="65.60" height="8.08" fill="#005000"/>
<rect x="1202.90" y="1140.81" width="65.60" height="31.40" fill="#006800"/>
<rect x="1202.90" y="1171.91" width="65.60" height="8.08" fill="#003600"/>
<rect x="1202.90" y="1179.69" width="65.60" height="8.08" fill="#00a300"/>
<rect x="1202.90" y="1187.46" width="65.60" height="8.08" fill="#003600"/>
<rect x="1202.90" y="1195.24" width="65.60" height="8.08" fill="#006800"/>
<rect x="1202.90" y="1203.01" width="65.60" height="8.08" fill="#003600"/>
<rect x="1202.90" y="1210.79" width="65.60" height="8.08" fill="#006800"/>
<rect x="1202.90" y="1218.57" width="65.60" height="8.08" fill="#360000"/>
<rect x="1202.90" y="1226.34" width="65.60" height="8.08" fill="#000000"/>
<rect x="1202.90" y="1234.12" width="65.60" height="8.08" fill="#005000"/>
<rect x="1202.90" y="1241.89" width="65.60" height="8.08" fill="#000000"/>
<rect x="1202.90" y="1249.67" width="65.60" height="8.08" fill="#001c00"/>
<rect x="1202.90" y="1257.45" width="65.60" height="15.85" fill="#005000"/>
<rect x="1202.90" y="1273.00" width="65.60" height="8.08" fill="#006800"/>
<rect x="1202.90" y="1280.77" width="65.60" height="23.63" fill="#005000"/>
<rect x="1202.90" y="1304.10" width="65.60" height="8.08" fill="#008400"/>
<rect x="1202.90" y="1311.88" width="65.60" height="8.08" fill="#003600"/>
<rect x="1202.90" y="1319.65" width="65.60" height="8.08" fill="#005000"/>
<rect x="1202.90" y="1327.43" width="65.60" height="8.08" fill="#003600"/>
<rect x="1202.90" y="1335.20" width="65.60" height="8.08" fill="#1c0000"/>
<rect x="1202.90" y="1342.98" width="65.60" height="8.08" fill="#360000"/>
<rect x="1202.90" y="1350.76" width="65.60" height="8.08" fill="#1c0000"/>
<rect x="1202.90" y="1358.53" width="65.60" height="8.08" fill="#001c00"/>
<rect x="1202.90" y="1366.31" width="65.60" height="8.08" fill="#000000"/>
<rect x="1202.90" y="1374.08" width="65.60" height="8.08" fill="#003600"/>
<rect x="1202.90" y="1381.86" width="65.60" height="8.08" fill="#000000"/>
<rect x="1202.90" y="1389.64" width="65.60" height="8.08" fill="#001c00"/>
<rect x="1202.90" y="1397.41" width="65.60" height="8.08" fill="#003600"/>
<rect x="1202.90" y="1405.19" width="65.60" height="15.85" fill="#1c0000"/>
<rect x="1202.90" y="1420.74" width="65.60" height="8.08" fill="#000000"/>
<rect x="1202.90" y="1428.52" width="65.60" height="8.08" fill="#680000"/>
<rect x="1202.90" y="1436.29" width="65.60" height="8.08" fill="#001c00"/>
<rect x="1202.90" y="1444.07" width="65.60" height="8.08" fill="#500000"/>
<rect x="1202.90" y="1451.84" width="65.60" height="8.08" fill="#000000"/>
<rect x="1202.90" y="1459.62" width="65.60" height="8.08" fill="#360000"/>
<rect x="1202.90" y="1467.40" width="65.60" height="8.08" fill="#000000"/>
<rect x="1202.90" y="1475.17" width="65.60" height="8.08" fill="#003600"/>
<rect x="1202.90" y="1482.95" width="65.60" height="15.85" fill="#360000"/>
<rect x="1202.90" y="1498.50" width="65.60" height="8.08" fill="#1c0000"/>
<rect x="1202.90" y="1506.27" width="65.60" height="8.08" fill="#360000"/>
<rect x="1202.90" y="1514.05" width="65.60" height="8.08" fill="#003600"/>
<rect x="1202.90" y="1521.83" width="65.60" height="8.08" fill="#000000"/>
<rect x="1202.90" y="1529.60" width="65.60" height="15.85" fill="#001c00"/>
<rect x="1202.90" y="1545.15" width="65.60" height="8.08" fill="#003600"/>
<rect x="1202.90" y="1552.93" width="65.60" height="8.08" fill="#006800"/>
<rect x="1202.90" y="1560.71" width="65.60" height="8.08" fill="#1c0000"/>
<rect x="1202.90" y="1568.48" width="65.60" height="8.08" fill="#680000"/>
<rect x="1202.90" y="1576.26" width="65.60" height="8.08" fill="#360000"/>
<rect x="1202.90" y="1584.03" width="65.60" height="8.08" fill="#000000"/>
<rect x="1202.90" y="1591.81" width="65.60" height="8.08" fill="#ff0000"/>
<rect x="1202.90" y="1599.59" width="65.60" height="8.08" fill="#c40000"/>
<rect x="1202.90" y="1607.36" width="65.60" height="15.85" fill="#360000"/>
<rect x="1202.90" y="1622.91" width="65.60" height="8.08" fill="#500000"/>
<rect x="1202.90" y="1630.69" width="65.60" height="8.08" fill="#840000"/>
<rect x="1202.90" y="1638.47" width="65.60" height="8.08" fill="#680000"/>
<rect x="1202.90" y="1646.24" width="65.60" height="8.08" fill="#1c0000"/>
<rect x="1202.90" y="1654.02" width="65.60" height="8.08" fill="#000000"/>
<rect x="1202.90" y="1661.79" width="65.60" height="8.08" fill="#360000"/>
<rect x="1202.90" y="1669.57" width="65.60" height="8.08" fill="#000000"/>
<rect x="1202.90" y="1677.34" width="65.60" height="8.08" fill="#840000"/>
<rect x="1202.90" y="1685.12" width="65.60" height="8.08" fill="#c40000"/>
<rect x="1202.90" y="1692.90" width="65.60" height="8.08" fill="#840000"/>
<rect x="1202.90" y="1700.67" width="65.60" height="8.08" fill="#680000"/>
<rect x="1202.90" y="1708.45" width="65.60" height="8.08" fill="#840000"/>
<rect x="1202.90" y="1716.22" width="65.60" height="14.08" fill="#680000"/>
<rect x="1268.20" y="1072.60" width="65.50" height="14.08" fill="#005000"/>
<rect x="1268.20" y="1086.38" width="65.50" height="8.08" fill="#006800"/>
<rect x="1268.20" y="1094.15" width="65.50" height="15.85" fill="#005000"/>
<rect x="1268.20" y="1109.70" width="65.50" height="8.08" fill="#003600"/>
<rect x="1268.20" y="1117.48" width="65.50" height="15.85" fill="#006800"/>
<rect x="1268.20" y="1133.03" width="65.50" height="23.63" fill="#005000"/>
<rect x="1268.20" y="1156.36" width="65.50" height="23.63" fill="#006800"/>
<rect x="1268.20" y="1179.69" width="65.50" height="8.08" fill="#003600"/>
<rect x="1268.20" y="1187.46" width="65.50" height="8.08" fill="#005000"/>
<rect x="1268.20" y="1195.24" width="65.50" height="23.63" fill="#006800"/>
<rect x="1268.20" y="1218.57" width="65.50" height="23.63" fill="#001c00"/>
<rect x="1268.20" y="1241.89" width="65.50" height="23.63" fill="#006800"/>
<rect x="1268.20" y="1265.22" width="65.50" height="8.08" fill="#008400"/>
<rect x="1268.20" y="1273.00" width="65.50" height="8.08" fill="#006800"/>
<rect x="1268.20" y="1280.77" width="65.50" height="15.85" fill="#005000"/>
<rect x="1268.20" y="1296.33" width="65.50" height="8.08" fill="#003600"/>
<rect x="1268.20" y="1304.10" width="65.50" height="8.08" fill="#005000"/>
<rect x="1268.20" y="1311.88" width="65.50" height="15.85" fill="#006800"/>
<rect x="1268.20" y="1327.43" width="65.50" height="15.85" fill="#005000"/>
<rect x="1268.20" y="1342.98" width="65.50" height="8.08" fill="#000000"/>
<rect x="1268.20" y="1350.76" width="65.50" height="23.63" fill="#001c00"/>
<rect x="1268.20" y="1374.08" width="65.50" height="31.40" fill="#003600"/>
<rect x="1268.20" y="1405.19" width="65.50" height="8.08" fill="#1c0000"/>
<rect x="1268.20" y="1412.96" width="65.50" height="8.08" fill="#500000"/>
<rect x="1268.20" y="1420.74" width="65.50" height="23.63" fill="#000000"/>
<rect x="1268.20" y="1444.07" width="65.50" height="8.08" fill="#1c0000"/>
<rect x="1268.20" y="1451.84" width="65.50" height="15.85" fill="#000000"/>
<rect x="1268.20" y="1467.40" width="65.50" height="23.63" fill="#760000"/>
<rect x="1268.20" y="1490.72" width="65.50" height="15.85" fill="#7c0000"/>
<rect x="1268.20" y="1506.27" width="65.50" height="8.08" fill="#870000"/>
<rect x="1268.20" y="1514.05" width="65.50" height="23.63" fill="#900000"/>
<rect x="1268.20" y="1537.38" width="65.50" height="8.08" fill="#6e0000"/>
<rect x="1268.20" y="1545.15" width="65.50" height="8.08" fill="#7c0000"/>
<rect x="1268.20" y="1552.93" width="65.50" height="8.08" fill="#6e0000"/>
<rect x="1268.20" y="1560.71" width="65.50" height="8.08" fill="#660000"/>
<rect x="1268.20" y="1568.48" width="65.50" height="8.08" fill="#730000"/>
<rect x="1268.20" y="1576.26" width="65.50" height="8.08" fill="#001c00"/>
<rect x="1268.20" y="1584.03" width="65.50" height="8.08" fill="#1c0000"/>
<rect x="1268.20" y="1591.81" width="65.50" height="8.08" fill="#003600"/>
<rect x="1268.20" y="1599.59" width="65.50" height="8.08" fill="#1c0000"/>
<rect x="1268.20" y="1607.36" width="65.50" height="8.08" fill="#500000"/>
<rect x="1268.20" y="1615.14" width="65.50" height="15.85" fill="#840000"/>
<rect x="1268.20" y="1630.69" width="65.50" height="8.08" fill="#680000"/>
<rect x="1268.20" y="1638.47" width="65.50" height="23.63" fill="#840000"/>
<rect x="1268.20" y="1661.79" width="65.50" height="8.08" fill="#360000"/>
<rect x="1268.20" y="1669.57" width="65.50" height="60.73" fill="#1c0000"/>
<rect x="1333.40" y="1072.60" width="71.20" height="14.08" fill="#006800"/>
<rect x="1333.40" y="1086.38" width="71.20" height="8.08" fill="#003600"/>
<rect x="1333.40" y="1094.15" width="71.20" height="8.08" fill="#005000"/>
<rect x="1333.40" y="1101.93" width="71.20" height="15.85" fill="#006800"/>
<rect x="1333.40" y="1117.48" width="71.20" height="8.08" fill="#001c00"/>
<rect x="1333.40" y="1125.26" width="71.20" height="15.85" fill="#006800"/>
<rect x="1333.40" y="1140.81" width="71.20" height="8.08" fill="#005000"/>
<rect x="1333.40" y="1148.58" width="71.20" height="8.08" fill="#006800"/>
<rect x="1333.40" y="1156.36" width="71.20" height="15.85" fill="#003600"/>
<rect x="1333.40" y="1171.91" width="71.20" height="8.08" fill="#000000"/>
<rect x="1333.40" y="1179.69" width="71.20" height="8.08" fill="#1c0000"/>
<rect x="1333.40" y="1187.46" width="71.20" height="8.08" fill="#003600"/>
<rect x="1333.40" y="1195.24" width="71.20" height="8.08" fill="#001c00"/>
<rect x="1333.40" y="1203.01" width="71.20" height="8.08" fill="#000000"/>
<rect x="1333.40" y="1210.79" width="71.20" height="8.08" fill="#003600"/>
<rect x="1333.40" y="1218.57" width="71.20" height="8.08" fill="#005000"/>
<rect x="1333.40" y="1226.34" width="71.20" height="8.08" fill="#003600"/>
<rect x="1333.40" y="1234.12" width="71.20" height="8.08" fill="#005000"/>
<rect x="1333.40" y="1241.89" width="71.20" height="8.08" fill="#006800"/>
<rect x="1333.40" y="1249.67" width="71.20" height="8.08" fill="#005000"/>
<rect x="1333.40" y="1257.45" width="71.20" height="8.08" fill="#003600"/>
<rect x="1333.40" y="1265.22" width="71.20" height="8.08" fill="#1c0000"/>
<rect x="1333.40" y="1273.00" width="71.20" height="8.08" fill="#680000"/>
<rect x="1333.40" y="1280.77" width="71.20" height="15.85" fill="#7e0000"/>
<rect x="1333.40" y="1296.33" width="71.20" height="8.08" fill="#760000"/>
<rect x="1333.40" y="1304.10" width="71.20" height="8.08" fill="#730000"/>
<rect x="1333.40" y="1311.88" width="71.20" height="8.08" fill="#790000"/>
<rect x="1333.40" y="1319.65" width="71.20" height="8.08" fill="#810000"/>
<rect x="1333.40" y="1327.43" width="71.20" height="8.08" fill="#870000"/>
<rect x="1333.40" y="1335.20" width="71.20" height="8.08" fill="#790000"/>
<rect x="1333.40" y="1342.98" width="71.20" height="8.08" fill="#700000"/>
<rect x="1333.40" y="1350.76" width="71.20" height="8.08" fill="#730000"/>
<rect x="1333.40" y="1358.53" width="71.20" height="31.40" fill="#810000"/>
<rect x="1333.40" y="1389.64" width="71.20" height="15.85" fill="#840000"/>
<rect x="1333.40" y="1405.19" width="71.20" height="8.08" fill="#005000"/>
<rect x="1333.40" y="1412.96" width="71.20" height="8.08" fill="#006800"/>
<rect x="1333.40" y="1420.74" width="71.20" height="8.08" fill="#005000"/>
<rect x="1333.40" y="1428.52" width="71.20" height="8.08" fill="#000000"/>
<rect x="1333.40" y="1436.29" width="71.20" height="8.08" fill="#003600"/>
<rect x="1333.40" y="1444.07" width="71.20" height="23.63" fill="#360000"/>
<rect x="1333.40" y="1467.40" width="71.20" height="15.85" fill="#005000"/>
<rect x="1333.40" y="1482.95" width="71.20" height="15.85" fill="#006800"/>
<rect x="1333.40" y="1498.50" width="71.20" height="8.08" fill="#005000"/>
<rect x="1333.40" y="1506.27" width="71.20" height="8.08" fill="#003600"/>
<rect x="1333.40" y="1514.05" width="71.20" height="8.08" fill="#005000"/>
<rect x="1333.40" y="1521.83" width="71.20" height="8.08" fill="#003600"/>
<rect x="1333.40" y="1529.60" width="71.20" height="8.08" fill="#001c00"/>
<rect x="1333.40" y="1537.38" width="71.20" height="8.08" fill="#003600"/>
<rect x="1333.40" y="1545.15" width="71.20" height="8.08" fill="#001c00"/>
<rect x="1333.40" y="1552.93" width="71.20" height="8.08" fill="#1c0000"/>
<rect x="1333.40" y="1560.71" width="71.20" height="23.63" fill="#003600"/>
<rect x="1333.40" y="1584.03" width="71.20" height="8.08" fill="#500000"/>
<rect x="1333.40" y="1591.81" width="71.20" height="8.08" fill="#001c00"/>
<rect x="1333.40" y="1599.59" width="71.20" height="8.08" fill="#000000"/>
<rect x="1333.40" y="1607.36" width="71.20" height="8.08" fill="#006800"/>
<rect x="1333.40" y="1615.14" width="71.20" height="8.08" fill="#001c00"/>
<rect x="1333.40" y="1622.91" width="71.20" height="8.08" fill="#003600"/>
<rect x="1333.40" y="1630.69" width="71.20" height="15.85" fill="#001c00"/>
<rect x="1333.40" y="1646.24" width="71.20" height="8.08" fill="#1c0000"/>
<rect x="1333.40" y="1654.02" width="71.20" height="15.85" fill="#360000"/>
<rect x="1333.40" y="1669.57" width="71.20" height="8.08" fill="#680000"/>
<rect x="1333.40" y="1677.34" width="71.20" height="8.08" fill="#500000"/>
<rect x="1333.40" y="1685.12" width="71.20" height="15.85" fill="#003600"/>
<rect x="1333.40" y="1700.67" width="71.20" height="8.08" fill="#360000"/>
<rect x="1333.40" y="1708.45" width="71.20" height="8.08" fill="#1c0000"/>
<rect x="1333.40" y="1716.22" width="71.20" height="14.08" fill="#360000"/>
</g></g>
<text transform="translate(1410.00,1087.09) scale(0.85,1.0)" font-family="Liberation Sans, Arial, Helvetica, sans-serif" font-size="13.1" fill="#1a1a1a">RPS<tspan font-size="10.22" textLength="14.57" lengthAdjust="spacingAndGlyphs">14</tspan></text>
<text transform="translate(1410.00,1102.64) scale(0.85,1.0)" font-family="Liberation Sans, Arial, Helvetica, sans-serif" font-size="13.1" fill="#1a1a1a">FGA</text>
<text transform="translate(1410.00,1118.19) scale(0.85,1.0)" font-family="Liberation Sans, Arial, Helvetica, sans-serif" font-size="13.1" fill="#1a1a1a">PDGFRB</text>
<text transform="translate(1410.00,1133.74) scale(0.85,1.0)" font-family="Liberation Sans, Arial, Helvetica, sans-serif" font-size="13.1" fill="#1a1a1a">HEXB</text>
<text transform="translate(1410.00,1149.30) scale(0.85,1.0)" font-family="Liberation Sans, Arial, Helvetica, sans-serif" font-size="13.1" fill="#1a1a1a">GSTA<tspan font-size="10.22" textLength="7.29" lengthAdjust="spacingAndGlyphs">1</tspan></text>
<text transform="translate(1410.00,1164.85) scale(0.85,1.0)" font-family="Liberation Sans, Arial, Helvetica, sans-serif" font-size="13.1" fill="#1a1a1a">TNKS<tspan font-size="10.22" textLength="7.29" lengthAdjust="spacingAndGlyphs">1</tspan>BP<tspan font-size="10.22" textLength="7.29" lengthAdjust="spacingAndGlyphs">1</tspan></text>
<text transform="translate(1410.00,1180.40) scale(0.85,1.0)" font-family="Liberation Sans, Arial, Helvetica, sans-serif" font-size="13.1" fill="#1a1a1a">HDLBP</text>
<text transform="translate(1410.00,1195.95) scale(0.85,1.0)" font-family="Liberation Sans, Arial, Helvetica, sans-serif" font-size="13.1" fill="#1a1a1a">ELP<tspan font-size="10.22" textLength="7.29" lengthAdjust="spacingAndGlyphs">1</tspan></text>
<text transform="translate(1410.00,1211.50) scale(0.85,1.0)" font-family="Liberation Sans, Arial, Helvetica, sans-serif" font-size="13.1" fill="#1a1a1a">GUK<tspan font-size="10.22" textLength="7.29" lengthAdjust="spacingAndGlyphs">1</tspan></text>
<text transform="translate(1410.00,1227.05) scale(0.85,1.0)" font-family="Liberation Sans, Arial, Helvetica, sans-serif" font-size="13.1" fill="#1a1a1a">KLC<tspan font-size="10.22" textLength="7.29" lengthAdjust="spacingAndGlyphs">1</tspan></text>
<text transform="translate(1410.00,1242.61) scale(0.85,1.0)" font-family="Liberation Sans, Arial, Helvetica, sans-serif" font-size="13.1" fill="#1a1a1a">NIT<tspan font-size="10.22" textLength="7.29" lengthAdjust="spacingAndGlyphs">2</tspan></text>
<text transform="translate(1410.00,1258.16) scale(0.85,1.0)" font-family="Liberation Sans, Arial, Helvetica, sans-serif" font-size="13.1" fill="#1a1a1a">RBM<tspan font-size="10.22" textLength="14.57" lengthAdjust="spacingAndGlyphs">25</tspan></text>
<text transform="translate(1410.00,1273.71) scale(0.85,1.0)" font-family="Liberation Sans, Arial, Helvetica, sans-serif" font-size="13.1" fill="#1a1a1a">EIF<tspan font-size="10.22" textLength="7.29" lengthAdjust="spacingAndGlyphs">4</tspan>A<tspan font-size="10.22" textLength="7.29" lengthAdjust="spacingAndGlyphs">1</tspan></text>
<text transform="translate(1410.00,1289.26) scale(0.85,1.0)" font-family="Liberation Sans, Arial, Helvetica, sans-serif" font-size="13.1" fill="#1a1a1a">GALK<tspan font-size="10.22" textLength="7.29" lengthAdjust="spacingAndGlyphs">1</tspan></text>
<text transform="translate(1410.00,1304.81) scale(0.85,1.0)" font-family="Liberation Sans, Arial, Helvetica, sans-serif" font-size="13.1" fill="#1a1a1a">EPHX<tspan font-size="10.22" textLength="7.29" lengthAdjust="spacingAndGlyphs">2</tspan></text>
<text transform="translate(1410.00,1320.37) scale(0.85,1.0)" font-family="Liberation Sans, Arial, Helvetica, sans-serif" font-size="13.1" fill="#1a1a1a">SULT<tspan font-size="10.22" textLength="7.29" lengthAdjust="spacingAndGlyphs">1</tspan>E<tspan font-size="10.22" textLength="7.29" lengthAdjust="spacingAndGlyphs">1</tspan></text>
<text transform="translate(1410.00,1335.92) scale(0.85,1.0)" font-family="Liberation Sans, Arial, Helvetica, sans-serif" font-size="13.1" fill="#1a1a1a">TPT<tspan font-size="10.22" textLength="7.29" lengthAdjust="spacingAndGlyphs">1</tspan></text>
<text transform="translate(1410.00,1351.47) scale(0.85,1.0)" font-family="Liberation Sans, Arial, Helvetica, sans-serif" font-size="13.1" fill="#1a1a1a">PSPC<tspan font-size="10.22" textLength="7.29" lengthAdjust="spacingAndGlyphs">1</tspan></text>
<text transform="translate(1410.00,1367.02) scale(0.85,1.0)" font-family="Liberation Sans, Arial, Helvetica, sans-serif" font-size="13.1" fill="#1a1a1a">SEPTIN<tspan font-size="10.22" textLength="14.57" lengthAdjust="spacingAndGlyphs">11</tspan></text>
<text transform="translate(1410.00,1382.57) scale(0.85,1.0)" font-family="Liberation Sans, Arial, Helvetica, sans-serif" font-size="13.1" fill="#1a1a1a">MACROD<tspan font-size="10.22" textLength="7.29" lengthAdjust="spacingAndGlyphs">1</tspan></text>
<text transform="translate(1410.00,1398.12) scale(0.85,1.0)" font-family="Liberation Sans, Arial, Helvetica, sans-serif" font-size="13.1" fill="#1a1a1a">VCAN</text>
<text transform="translate(1410.00,1413.68) scale(0.85,1.0)" font-family="Liberation Sans, Arial, Helvetica, sans-serif" font-size="13.1" fill="#1a1a1a">ITGAV</text>
<text transform="translate(1410.00,1429.23) scale(0.85,1.0)" font-family="Liberation Sans, Arial, Helvetica, sans-serif" font-size="13.1" fill="#1a1a1a">FUBP<tspan font-size="10.22" textLength="7.29" lengthAdjust="spacingAndGlyphs">1</tspan></text>
<text transform="translate(1410.00,1444.78) scale(0.85,1.0)" font-family="Liberation Sans, Arial, Helvetica, sans-serif" font-size="13.1" fill="#1a1a1a">SF<tspan font-size="10.22" textLength="7.29" lengthAdjust="spacingAndGlyphs">3</tspan>A<tspan font-size="10.22" textLength="7.29" lengthAdjust="spacingAndGlyphs">1</tspan></text>
<text transform="translate(1410.00,1460.33) scale(0.85,1.0)" font-family="Liberation Sans, Arial, Helvetica, sans-serif" font-size="13.1" fill="#1a1a1a">TPP<tspan font-size="10.22" textLength="7.29" lengthAdjust="spacingAndGlyphs">1</tspan></text>
<text transform="translate(1410.00,1475.88) scale(0.85,1.0)" font-family="Liberation Sans, Arial, Helvetica, sans-serif" font-size="13.1" fill="#1a1a1a">ME<tspan font-size="10.22" textLength="7.29" lengthAdjust="spacingAndGlyphs">2</tspan></text>
<text transform="translate(1410.00,1491.43) scale(0.85,1.0)" font-family="Liberation Sans, Arial, Helvetica, sans-serif" font-size="13.1" fill="#1a1a1a">RBM<tspan font-size="10.22" textLength="7.29" lengthAdjust="spacingAndGlyphs">4</tspan></text>
<text transform="translate(1410.00,1506.99) scale(0.85,1.0)" font-family="Liberation Sans, Arial, Helvetica, sans-serif" font-size="13.1" fill="#1a1a1a">SAA<tspan font-size="10.22" textLength="7.29" lengthAdjust="spacingAndGlyphs">4</tspan></text>
<text transform="translate(1410.00,1522.54) scale(0.85,1.0)" font-family="Liberation Sans, Arial, Helvetica, sans-serif" font-size="13.1" fill="#1a1a1a">ATP<tspan font-size="10.22" textLength="7.29" lengthAdjust="spacingAndGlyphs">6</tspan></text>
<text transform="translate(1410.00,1538.09) scale(0.85,1.0)" font-family="Liberation Sans, Arial, Helvetica, sans-serif" font-size="13.1" fill="#1a1a1a">FCGRT</text>
<text transform="translate(1410.00,1553.64) scale(0.85,1.0)" font-family="Liberation Sans, Arial, Helvetica, sans-serif" font-size="13.1" fill="#1a1a1a">LSM<tspan font-size="10.22" textLength="7.29" lengthAdjust="spacingAndGlyphs">2</tspan></text>
<text transform="translate(1410.00,1569.19) scale(0.85,1.0)" font-family="Liberation Sans, Arial, Helvetica, sans-serif" font-size="13.1" fill="#1a1a1a">NCALD</text>
<text transform="translate(1410.00,1584.75) scale(0.85,1.0)" font-family="Liberation Sans, Arial, Helvetica, sans-serif" font-size="13.1" fill="#1a1a1a">EIF<tspan font-size="10.22" textLength="7.29" lengthAdjust="spacingAndGlyphs">3</tspan>F</text>
<text transform="translate(1410.00,1600.30) scale(0.85,1.0)" font-family="Liberation Sans, Arial, Helvetica, sans-serif" font-size="13.1" fill="#1a1a1a">SEPTIN<tspan font-size="10.22" textLength="14.57" lengthAdjust="spacingAndGlyphs">10</tspan></text>
<text transform="translate(1410.00,1615.85) scale(0.85,1.0)" font-family="Liberation Sans, Arial, Helvetica, sans-serif" font-size="13.1" fill="#1a1a1a">WDFY<tspan font-size="10.22" textLength="7.29" lengthAdjust="spacingAndGlyphs">1</tspan></text>
<text transform="translate(1410.00,1631.40) scale(0.85,1.0)" font-family="Liberation Sans, Arial, Helvetica, sans-serif" font-size="13.1" fill="#1a1a1a">ABHD<tspan font-size="10.22" textLength="14.57" lengthAdjust="spacingAndGlyphs">10</tspan></text>
<text transform="translate(1410.00,1646.95) scale(0.85,1.0)" font-family="Liberation Sans, Arial, Helvetica, sans-serif" font-size="13.1" fill="#1a1a1a">TATDN<tspan font-size="10.22" textLength="7.29" lengthAdjust="spacingAndGlyphs">1</tspan></text>
<text transform="translate(1410.00,1662.50) scale(0.85,1.0)" font-family="Liberation Sans, Arial, Helvetica, sans-serif" font-size="13.1" fill="#1a1a1a">PLEKHO<tspan font-size="10.22" textLength="7.29" lengthAdjust="spacingAndGlyphs">2</tspan></text>
<text transform="translate(1410.00,1678.06) scale(0.85,1.0)" font-family="Liberation Sans, Arial, Helvetica, sans-serif" font-size="13.1" fill="#1a1a1a">IMPA<tspan font-size="10.22" textLength="7.29" lengthAdjust="spacingAndGlyphs">1</tspan></text>
<text transform="translate(1410.00,1693.61) scale(0.85,1.0)" font-family="Liberation Sans, Arial, Helvetica, sans-serif" font-size="13.1" fill="#1a1a1a">GMPR<tspan font-size="10.22" textLength="7.29" lengthAdjust="spacingAndGlyphs">2</tspan></text>
<text transform="translate(1410.00,1709.16) scale(0.85,1.0)" font-family="Liberation Sans, Arial, Helvetica, sans-serif" font-size="13.1" fill="#1a1a1a">LGMN</text>
<text transform="translate(1410.00,1724.71) scale(0.85,1.0)" font-family="Liberation Sans, Arial, Helvetica, sans-serif" font-size="13.1" fill="#1a1a1a">DIAPH<tspan font-size="10.22" textLength="7.29" lengthAdjust="spacingAndGlyphs">1</tspan></text>
<text x="776.3" y="1747.6" font-family="Liberation Serif, Times New Roman, serif" font-weight="bold" font-size="17.7" text-anchor="middle">LEF1</text>
<text x="839.2" y="1747.6" font-family="Liberation Serif, Times New Roman, serif" font-weight="bold" font-size="17.7" text-anchor="middle">LEF2</text>
<text x="902.2" y="1747.6" font-family="Liberation Serif, Times New Roman, serif" font-weight="bold" font-size="17.7" text-anchor="middle">LEF3</text>
<text x="970.3" y="1747.6" font-family="Liberation Serif, Times New Roman, serif" font-weight="bold" font-size="17.7" text-anchor="middle">LEF4</text>
<text x="1033.6" y="1747.6" font-family="Liberation Serif, Times New Roman, serif" font-weight="bold" font-size="17.7" text-anchor="middle">LEF5</text>
<text x="1102.1" y="1747.6" font-family="Liberation Serif, Times New Roman, serif" font-weight="bold" font-size="17.7" text-anchor="middle">HEF1</text>
<text x="1167.6" y="1747.6" font-family="Liberation Serif, Times New Roman, serif" font-weight="bold" font-size="17.7" text-anchor="middle">HEF2</text>
<text x="1233.0" y="1747.6" font-family="Liberation Serif, Times New Roman, serif" font-weight="bold" font-size="17.7" text-anchor="middle">HEF3</text>
<text x="1298.7" y="1747.6" font-family="Liberation Serif, Times New Roman, serif" font-weight="bold" font-size="17.7" text-anchor="middle">HEF4</text>
<text x="1364.4" y="1747.6" font-family="Liberation Serif, Times New Roman, serif" font-weight="bold" font-size="17.7" text-anchor="middle">HEF5</text>
<path d="M739.6 1082.5H721.9V1090.3H739.6M721.9 1086.4H717.0V1098.0H739.6M739.6 1105.8H721.9V1113.6H739.6M717.0 1092.2H703.7V1109.7H721.9M703.7 1101.0H696.9V1121.4H739.6M696.9 1111.2H689.3V1129.1H739.6M739.6 1136.9H729.1V1144.7H739.6M729.1 1140.8H724.9V1152.5H739.6M739.6 1160.2H729.1V1168.0H739.6M729.1 1164.1H720.8V1175.8H739.6M720.8 1170.0H709.0V1183.6H739.6M709.0 1176.8H706.4V1191.4H739.6M724.9 1146.6H703.7V1184.1H706.4M689.3 1120.2H681.4V1165.3H703.7M739.6 1199.1H721.9V1206.9H739.6M721.9 1203.0H696.9V1214.7H739.6M739.6 1222.5H729.8V1230.2H739.6M729.8 1226.3H694.6V1238.0H739.6M696.9 1208.8H680.2V1232.2H694.6M739.6 1245.8H710.2V1253.6H739.6M710.2 1249.7H693.1V1261.3H739.6M693.1 1255.5H681.4V1269.1H739.6M680.2 1220.5H657.1V1262.3H681.4M681.4 1142.8H642.7V1241.4H657.1M739.6 1292.4H720.8V1300.2H739.6M739.6 1284.7H714.3V1296.3H720.8M739.6 1276.9H707.5V1290.5H714.3M739.6 1323.5H731.2V1331.3H739.6M739.6 1315.8H725.9V1327.4H731.2M739.6 1308.0H715.5V1321.6H725.9M707.5 1283.7H685.5V1314.8H715.5M739.6 1339.1H701.1V1346.9H739.6M739.6 1354.6H703.7V1362.4H739.6M739.6 1393.5H735.9V1401.3H739.6M739.6 1385.7H731.0V1397.4H735.9M739.6 1378.0H707.5V1391.6H731.0M739.6 1370.2H704.8V1384.8H707.5M703.7 1358.5H693.5V1377.5H704.8M701.1 1343.0H686.7V1368.0H693.5M685.5 1299.2H633.5V1355.5H686.7M642.7 1192.1H537.1V1327.4H633.5M739.6 1409.1H719.2V1416.9H739.6M719.2 1413.0H712.8V1424.6H739.6M712.8 1418.8H685.5V1432.4H739.6M685.5 1425.6H660.9V1440.2H739.6M739.6 1455.7H710.2V1463.5H739.6M739.6 1448.0H693.5V1459.6H710.2M660.9 1432.9H645.2V1453.8H693.5M739.6 1471.3H717.0V1479.1H739.6M739.6 1486.8H723.0V1494.6H739.6M739.6 1502.4H724.9V1510.2H739.6M723.0 1490.7H718.1V1506.3H724.9M717.0 1475.2H697.3V1498.5H718.1M739.6 1525.7H731.0V1533.5H739.6M739.6 1517.9H720.8V1529.6H731.0M697.3 1486.8H694.6V1523.8H720.8M739.6 1541.3H707.5V1549.0H739.6M707.5 1545.2H690.5V1556.8H739.6M694.6 1505.3H673.8V1551.0H690.5M645.2 1443.3H635.8V1528.1H673.8M739.6 1564.6H702.6V1572.4H739.6M739.6 1580.1H684.4V1587.9H739.6M702.6 1568.5H673.8V1584.0H684.4M739.6 1595.7H699.9V1603.5H739.6M739.6 1634.6H733.6V1642.4H739.6M739.6 1626.8H729.1V1638.5H733.6M739.6 1619.0H710.2V1632.6H729.1M739.6 1650.1H720.8V1657.9H739.6M710.2 1625.8H697.3V1654.0H720.8M739.6 1696.8H729.8V1704.6H739.6M739.6 1712.3H725.7V1720.1H739.6M729.8 1700.7H720.8V1716.2H725.7M739.6 1689.0H715.5V1708.4H720.8M739.6 1681.2H706.4V1698.7H715.5M739.6 1673.5H695.8V1690.0H706.4M739.6 1665.7H688.2V1681.7H695.8M697.3 1639.9H678.0V1673.7H688.2M739.6 1611.2H659.4V1656.8H678.0M699.9 1599.6H637.4V1634.0H659.4M673.8 1576.3H621.6V1616.8H637.4M635.8 1485.7H611.0V1596.5H621.6M537.1 1259.7H492.7V1541.1H611.0" fill="none" stroke="#161616" stroke-width="1.85" stroke-linejoin="miter"/>
<defs><linearGradient id="kg" x1="0" x2="1" y1="0" y2="0"><stop offset="0" stop-color="#00ff00"/><stop offset="0.5" stop-color="#000000"/><stop offset="1" stop-color="#ff0000"/></linearGradient></defs>
<rect x="534.8" y="1806.6" width="197.3" height="22" fill="url(#kg)"/>
<line x1="534.8" y1="1828.9" x2="732.1" y2="1828.9" stroke="#000" stroke-width="1.4"/>
<line x1="544.9" y1="1828.9" x2="544.9" y2="1836" stroke="#000" stroke-width="1.5"/>
<text x="545.5" y="1856" font-family="Liberation Sans, Arial, Helvetica, sans-serif" font-size="12.4" text-anchor="middle" fill="#1a1a1a">-3</text>
<line x1="574.9" y1="1828.9" x2="574.9" y2="1836" stroke="#000" stroke-width="1.5"/>
<text x="575.5" y="1856" font-family="Liberation Sans, Arial, Helvetica, sans-serif" font-size="12.4" text-anchor="middle" fill="#1a1a1a">-2</text>
<line x1="603.8" y1="1828.9" x2="603.8" y2="1836" stroke="#000" stroke-width="1.5"/>
<text x="604.4" y="1856" font-family="Liberation Sans, Arial, Helvetica, sans-serif" font-size="12.4" text-anchor="middle" fill="#1a1a1a">-1</text>
<line x1="633.6" y1="1828.9" x2="633.6" y2="1836" stroke="#000" stroke-width="1.5"/>
<text x="634.2" y="1856" font-family="Liberation Sans, Arial, Helvetica, sans-serif" font-size="12.4" text-anchor="middle" fill="#1a1a1a">0</text>
<line x1="662.4" y1="1828.9" x2="662.4" y2="1836" stroke="#000" stroke-width="1.5"/>
<text x="663.0" y="1856" font-family="Liberation Sans, Arial, Helvetica, sans-serif" font-size="12.4" text-anchor="middle" fill="#1a1a1a">1</text>
<line x1="692.1" y1="1828.9" x2="692.1" y2="1836" stroke="#000" stroke-width="1.5"/>
<text x="692.7" y="1856" font-family="Liberation Sans, Arial, Helvetica, sans-serif" font-size="12.4" text-anchor="middle" fill="#1a1a1a">2</text>
<line x1="721.1" y1="1828.9" x2="721.1" y2="1836" stroke="#000" stroke-width="1.5"/>
<text x="721.7" y="1856" font-family="Liberation Sans, Arial, Helvetica, sans-serif" font-size="12.4" text-anchor="middle" fill="#1a1a1a">3</text>
<text transform="translate(643.10,1795.60)" font-family="Liberation Serif, Times New Roman, serif" font-size="18.8" font-weight="bold" text-anchor="middle" fill="#000">Intensity value</text>
</g>
</svg>
</body>
</html>
